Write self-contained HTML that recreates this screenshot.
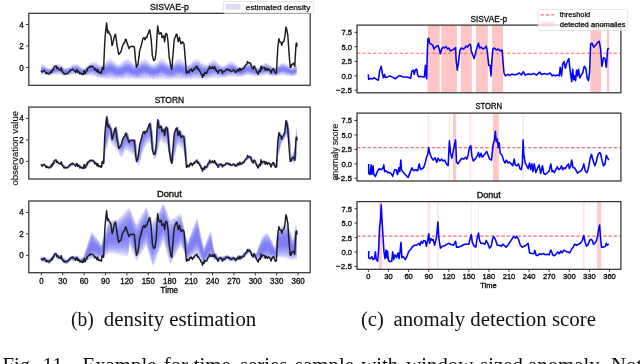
<!DOCTYPE html>
<html><head><meta charset="utf-8"><style>
html,body{margin:0;padding:0;background:#fff;}
body{width:640px;height:364px;overflow:hidden;position:relative;font-family:"Liberation Sans",sans-serif;}
</style></head><body>
<svg width="640" height="364" viewBox="0 0 640 364" style="position:absolute;left:0;top:0">
<defs><filter id="bl5" x="-5%" y="-20%" width="110%" height="140%"><feGaussianBlur stdDeviation="0.5"/></filter><filter id="bl4" x="-5%" y="-20%" width="110%" height="140%"><feGaussianBlur stdDeviation="0.4"/></filter></defs>
<defs><clipPath id="cL0"><rect x="28.8" y="13.3" width="281.4" height="72.0"/></clipPath><clipPath id="cR0"><rect x="357.0" y="25.1" width="263.9" height="67.69999999999999"/></clipPath><clipPath id="cL1"><rect x="28.8" y="107.1" width="281.4" height="71.9"/></clipPath><clipPath id="cR1"><rect x="357.0" y="113.1" width="263.9" height="67.9"/></clipPath><clipPath id="cL2"><rect x="28.8" y="201.0" width="281.4" height="71.69999999999999"/></clipPath><clipPath id="cR2"><rect x="357.0" y="201.6" width="263.9" height="67.70000000000002"/></clipPath></defs>
<g clip-path="url(#cL0)"><g filter="url(#bl5)"><path d="M41.4 63.5 L42.1 64 L42.8 64.5 L43.5 64.6 L44.2 64.8 L44.9 64.7 L45.6 66 L46.3 67.3 L47.1 67.3 L47.8 67.5 L48.5 68.9 L49.2 67.7 L49.9 69 L50.6 67.6 L51.3 67.6 L52 66.5 L52.8 66.4 L53.5 65.6 L54.2 65.1 L54.9 65.6 L55.6 64.2 L56.3 65.4 L57 64.5 L57.8 63.7 L58.5 64 L59.2 64.5 L59.9 64 L60.6 65.6 L61.3 64.8 L62 66 L62.7 65.6 L63.5 67 L64.2 67.9 L64.9 67.9 L65.6 68.4 L66.3 67.5 L67 68.1 L67.7 67.1 L68.5 67.4 L69.2 67.7 L69.9 66.7 L70.6 66.2 L71.3 65.3 L72 65.9 L72.7 64.4 L73.4 63.7 L74.2 64.1 L74.9 64.1 L75.6 64.6 L76.3 63.4 L77 64.1 L77.7 64.4 L78.4 64.8 L79.1 65.7 L79.9 64.9 L80.6 67.2 L81.3 67.6 L82 67.9 L82.7 68.2 L83.4 67.8 L84.1 69.1 L84.9 69 L85.6 67.7 L86.3 67 L87 65.7 L87.7 65.6 L88.4 65.3 L89.1 63.5 L89.8 63.5 L90.6 62.5 L91.3 62.8 L92 61.4 L92.7 62.3 L93.4 62.5 L94.1 61.2 L94.8 61.3 L95.6 63 L96.3 62.2 L97 62.5 L97.7 64.1 L98.4 64.1 L99.1 65.1 L99.8 64.5 L100.5 65.6 L101.3 65.7 L102 64.4 L102.7 64.7 L103.4 64.3 L104.1 63.6 L104.8 62.9 L105.5 61.9 L106.3 60.7 L107 60.3 L107.7 59.5 L108.4 58.5 L109.1 58.3 L109.8 58.5 L110.5 58.8 L111.2 58.5 L112 59.6 L112.7 59.9 L113.4 60.2 L114.1 60.6 L114.8 61.9 L115.5 63 L116.2 63.4 L116.9 63.8 L117.7 64.9 L118.4 63.9 L119.1 63.8 L119.8 64.5 L120.5 62.6 L121.2 62.7 L121.9 61.9 L122.7 60.9 L123.4 61.2 L124.1 60.8 L124.8 59.7 L125.5 59.1 L126.2 58.6 L126.9 59.2 L127.6 59.2 L128.4 58.9 L129.1 59.9 L129.8 60.8 L130.5 60.6 L131.2 61.4 L131.9 62.1 L132.6 63.5 L133.4 62.1 L134.1 63.3 L134.8 64.1 L135.5 65.8 L136.2 63.7 L136.9 64.7 L137.6 63.7 L138.3 63.4 L139.1 63 L139.8 61.6 L140.5 60.9 L141.2 60.4 L141.9 60.1 L142.6 59.6 L143.3 59.4 L144.1 58.7 L144.8 58.9 L145.5 58.9 L146.2 60.9 L146.9 59.6 L147.6 60 L148.3 61.6 L149 61.8 L149.8 62.8 L150.5 62.3 L151.2 64.2 L151.9 64.4 L152.6 64.6 L153.3 64.3 L154 63.6 L154.7 63.5 L155.5 63.3 L156.2 63.3 L156.9 62.8 L157.6 62 L158.3 61 L159 59.6 L159.7 60.6 L160.5 59.3 L161.2 57.6 L161.9 59.7 L162.6 59 L163.3 58.9 L164 59 L164.7 60.3 L165.4 61.8 L166.2 60.7 L166.9 62 L167.6 62.4 L168.3 63.9 L169 64.5 L169.7 64.7 L170.4 64.9 L171.2 64 L171.9 65 L172.6 63.4 L173.3 63.4 L174 62.4 L174.7 62.3 L175.4 61.1 L176.1 60.2 L176.9 60.2 L177.6 58.8 L178.3 58.7 L179 58.9 L179.7 59 L180.4 59.8 L181.1 59.6 L181.9 59.3 L182.6 60.6 L183.3 61.6 L184 62.3 L184.7 63.1 L185.4 63.5 L186.1 63.3 L186.8 64.2 L187.6 64.4 L188.3 64.8 L189 64 L189.7 64 L190.4 63.6 L191.1 63.6 L191.8 62 L192.5 60.8 L193.3 60.6 L194 59.4 L194.7 59.6 L195.4 59.6 L196.1 59 L196.8 59.3 L197.5 58.3 L198.3 59.3 L199 59.3 L199.7 60.9 L200.4 61 L201.1 61 L201.8 63.5 L202.5 62.6 L203.2 63.5 L204 63.4 L204.7 64.1 L205.4 63.5 L206.1 64.1 L206.8 64.3 L207.5 65.1 L208.2 63.5 L209 62.3 L209.7 61.8 L210.4 62 L211.1 60.8 L211.8 60 L212.5 59.7 L213.2 59.5 L213.9 60.1 L214.7 59.6 L215.4 59.9 L216.1 61.5 L216.8 61.8 L217.5 61.9 L218.2 63.4 L218.9 63.7 L219.6 64.3 L220.4 63.9 L221.1 64.8 L221.8 65.9 L222.5 66.3 L223.2 65.5 L223.9 65 L224.6 65.1 L225.4 64.8 L226.1 64.8 L226.8 63.7 L227.5 63.3 L228.2 63.1 L228.9 62.6 L229.6 60.7 L230.3 61.2 L231.1 61.3 L231.8 61.4 L232.5 61 L233.2 62.3 L233.9 62.6 L234.6 62.5 L235.3 64.1 L236.1 64.8 L236.8 64.3 L237.5 65.7 L238.2 66.2 L238.9 67.4 L239.6 67.4 L240.3 66.7 L241 66.8 L241.8 65.5 L242.5 66.8 L243.2 65.5 L243.9 64.4 L244.6 64.7 L245.3 63.7 L246 62.5 L246.8 62.5 L247.5 63.3 L248.2 62.1 L248.9 62.3 L249.6 61.9 L250.3 63.4 L251 64.3 L251.7 64 L252.5 63.5 L253.2 65.7 L253.9 65.4 L254.6 65.6 L255.3 67.5 L256 66.8 L256.7 67.3 L257.4 67.5 L258.2 66.7 L258.9 67.9 L259.6 66.4 L260.3 66.4 L261 66.1 L261.7 64.7 L262.4 64.8 L263.2 64.1 L263.9 63.3 L264.6 62.7 L265.3 63.6 L266 63 L266.7 62.5 L267.4 63.7 L268.1 63.6 L268.9 62.9 L269.6 63.5 L270.3 64.8 L271 66.2 L271.7 66.9 L272.4 66.7 L273.1 67.2 L273.9 66.6 L274.6 66.9 L275.3 67.5 L276 67.1 L276.7 67.5 L277.4 66.8 L278.1 65.2 L278.8 65.7 L279.6 64.3 L280.3 64.2 L281 62.9 L281.7 63.2 L282.4 63.6 L283.1 62.7 L283.8 62 L284.6 62.9 L285.3 63 L286 64.8 L286.7 63.9 L287.4 64.1 L288.1 64.7 L288.8 65.1 L289.5 66.2 L290.3 67.7 L291 67.4 L291.7 67.1 L292.4 68 L293.1 66.8 L293.8 66.5 L294.5 66.3 L295.2 66.2 L296 64.8 L296.7 65.1 L296.7 74.7 L296 75.8 L295.2 75.5 L294.5 75.5 L293.8 76.8 L293.1 75.8 L292.4 75.7 L291.7 76.3 L291 75.5 L290.3 75.9 L289.5 76.8 L288.8 75.4 L288.1 75.9 L287.4 76.3 L286.7 76.5 L286 75.2 L285.3 76.1 L284.6 75.1 L283.8 75.8 L283.1 75.1 L282.4 75 L281.7 74.5 L281 75.8 L280.3 76 L279.6 75.6 L278.8 74.9 L278.1 76.1 L277.4 76 L276.7 76.8 L276 75.9 L275.3 76.9 L274.6 76.3 L273.9 76.4 L273.1 76 L272.4 76.3 L271.7 76.5 L271 75.7 L270.3 75.3 L269.6 75.4 L268.9 74.6 L268.1 76 L267.4 74.7 L266.7 74.3 L266 74.6 L265.3 74.4 L264.6 74.7 L263.9 75.5 L263.2 75.5 L262.4 76.3 L261.7 76.7 L261 76 L260.3 76.7 L259.6 76 L258.9 76 L258.2 76.8 L257.4 76.4 L256.7 77.2 L256 76.6 L255.3 76.7 L254.6 75.9 L253.9 75.8 L253.2 76.1 L252.5 76.6 L251.7 75.7 L251 76 L250.3 76 L249.6 75.3 L248.9 75.1 L248.2 74.9 L247.5 75.5 L246.8 74.5 L246 75.6 L245.3 75.3 L244.6 76.1 L243.9 76 L243.2 75.9 L242.5 76.4 L241.8 76.7 L241 76.7 L240.3 77.7 L239.6 77 L238.9 77.9 L238.2 77.1 L237.5 76.7 L236.8 76.7 L236.1 76 L235.3 77.7 L234.6 77.3 L233.9 76.9 L233.2 76.7 L232.5 76.5 L231.8 76.8 L231.1 77.4 L230.3 76.9 L229.6 76.6 L228.9 77.2 L228.2 76.9 L227.5 76.6 L226.8 76.9 L226.1 77.3 L225.4 78.3 L224.6 77.5 L223.9 77.4 L223.2 78.1 L222.5 77.6 L221.8 76.1 L221.1 78 L220.4 78 L219.6 78.8 L218.9 77.5 L218.2 78.2 L217.5 78.7 L216.8 78.3 L216.1 78.3 L215.4 78.3 L214.7 78.1 L213.9 78.5 L213.2 77.6 L212.5 77.9 L211.8 77.9 L211.1 78.1 L210.4 78.3 L209.7 78.2 L209 78.9 L208.2 78 L207.5 79 L206.8 79.6 L206.1 79.9 L205.4 79 L204.7 79.3 L204 79.6 L203.2 80.2 L202.5 79.8 L201.8 79.4 L201.1 79 L200.4 78.9 L199.7 79.3 L199 79.2 L198.3 79.7 L197.5 79.3 L196.8 78.9 L196.1 80 L195.4 79.9 L194.7 78.6 L194 79.3 L193.3 78.7 L192.5 79.3 L191.8 79.7 L191.1 80 L190.4 79.2 L189.7 79.6 L189 79.2 L188.3 79 L187.6 79.3 L186.8 79.3 L186.1 78.7 L185.4 80 L184.7 78.9 L184 78.6 L183.3 79.2 L182.6 79.6 L181.9 78.4 L181.1 80.6 L180.4 80.1 L179.7 79.1 L179 79.2 L178.3 78.5 L177.6 79.7 L176.9 79.7 L176.1 78.7 L175.4 79.7 L174.7 78.9 L174 79.2 L173.3 79.7 L172.6 80.1 L171.9 79.6 L171.2 79.3 L170.4 79.2 L169.7 80.8 L169 79.3 L168.3 79.8 L167.6 78.9 L166.9 79.4 L166.2 79 L165.4 79.6 L164.7 78.3 L164 79.4 L163.3 80 L162.6 79.5 L161.9 79.4 L161.2 79.5 L160.5 79.1 L159.7 78.2 L159 79.9 L158.3 79.8 L157.6 80.3 L156.9 79.6 L156.2 78.5 L155.5 77.9 L154.7 80.1 L154 78.8 L153.3 79 L152.6 79.2 L151.9 79.5 L151.2 78.4 L150.5 79.6 L149.8 78.9 L149 79.7 L148.3 79.6 L147.6 79.4 L146.9 79.7 L146.2 79.2 L145.5 79.4 L144.8 79.2 L144.1 79.9 L143.3 79.6 L142.6 79 L141.9 79.4 L141.2 79.5 L140.5 79.1 L139.8 79.3 L139.1 78.1 L138.3 78.8 L137.6 78.9 L136.9 79 L136.2 79.2 L135.5 79.6 L134.8 79.3 L134.1 78.5 L133.4 79.1 L132.6 78.9 L131.9 78.4 L131.2 78.9 L130.5 79.4 L129.8 80.1 L129.1 78.5 L128.4 79 L127.6 80.4 L126.9 78.2 L126.2 78.9 L125.5 78.1 L124.8 79.2 L124.1 79.4 L123.4 79.4 L122.7 79.4 L121.9 79.1 L121.2 79.8 L120.5 78.9 L119.8 79.2 L119.1 79 L118.4 78.7 L117.7 79.2 L116.9 79.2 L116.2 79.7 L115.5 78.3 L114.8 80.4 L114.1 78.4 L113.4 80.1 L112.7 79.4 L112 79.8 L111.2 78.1 L110.5 79.9 L109.8 79.3 L109.1 78.8 L108.4 78.8 L107.7 79 L107 79.2 L106.3 79.1 L105.5 80.2 L104.8 78.7 L104.1 79.1 L103.4 77.8 L102.7 78.8 L102 78.1 L101.3 79 L100.5 78.5 L99.8 77.3 L99.1 77.9 L98.4 77.4 L97.7 78.3 L97 77.5 L96.3 76.4 L95.6 76.3 L94.8 76.7 L94.1 75.3 L93.4 76.1 L92.7 75.6 L92 76.9 L91.3 76.5 L90.6 75.6 L89.8 75.7 L89.1 75.8 L88.4 74.5 L87.7 75.3 L87 75.7 L86.3 76.1 L85.6 75.5 L84.9 76.5 L84.1 74.9 L83.4 75.3 L82.7 75.7 L82 75.3 L81.3 75.2 L80.6 74.8 L79.9 74.5 L79.1 75 L78.4 74.5 L77.7 74.1 L77 74.5 L76.3 73.5 L75.6 74.5 L74.9 74.8 L74.2 75 L73.4 74.6 L72.7 74 L72 74.8 L71.3 74.6 L70.6 74.9 L69.9 75.9 L69.2 75.9 L68.5 75 L67.7 75.3 L67 75.8 L66.3 74.8 L65.6 76.5 L64.9 75.6 L64.2 75.4 L63.5 76.1 L62.7 76 L62 75.2 L61.3 75.7 L60.6 74.4 L59.9 74.8 L59.2 74.4 L58.5 73.6 L57.8 74.9 L57 74.8 L56.3 74.8 L55.6 74.6 L54.9 74.4 L54.2 75 L53.5 74 L52.8 75.8 L52 75.3 L51.3 75.6 L50.6 75.8 L49.9 76 L49.2 74.3 L48.5 76.6 L47.8 75 L47.1 75.1 L46.3 74.4 L45.6 75.3 L44.9 74.6 L44.2 74.5 L43.5 75.2 L42.8 75 L42.1 75.2 L41.4 73.8Z" fill="rgb(25,25,240)" fill-opacity="0.1"/><path d="M41.4 65.4 L42.1 64.7 L42.8 65 L43.5 65.5 L44.2 65.9 L44.9 65.9 L45.6 67.9 L46.3 67.1 L47.1 67.9 L47.8 68.7 L48.5 68.6 L49.2 68.7 L49.9 69 L50.6 68.2 L51.3 68.2 L52 67.2 L52.8 67.2 L53.5 67.1 L54.2 66.5 L54.9 65.6 L55.6 64.5 L56.3 64.9 L57 64.4 L57.8 63.4 L58.5 65.3 L59.2 65.6 L59.9 65.5 L60.6 66.4 L61.3 66.4 L62 66.3 L62.7 67.6 L63.5 67.5 L64.2 68.7 L64.9 68 L65.6 68.4 L66.3 69 L67 67.8 L67.7 68.3 L68.5 68.3 L69.2 67.2 L69.9 67 L70.6 66.8 L71.3 65.3 L72 66 L72.7 64.6 L73.4 65.2 L74.2 65.2 L74.9 64.6 L75.6 64.7 L76.3 65.3 L77 65.2 L77.7 65.3 L78.4 66.1 L79.1 65.9 L79.9 67.2 L80.6 67.2 L81.3 68.3 L82 67.9 L82.7 68 L83.4 68.6 L84.1 68.4 L84.9 67.5 L85.6 67.8 L86.3 66.7 L87 66 L87.7 66.1 L88.4 65.5 L89.1 64.3 L89.8 63.4 L90.6 64.7 L91.3 63.7 L92 63.4 L92.7 63 L93.4 63.8 L94.1 62.1 L94.8 63.4 L95.6 63.4 L96.3 63.3 L97 65 L97.7 64.4 L98.4 65.2 L99.1 65.6 L99.8 65.5 L100.5 65.7 L101.3 65.6 L102 64.8 L102.7 65 L103.4 65 L104.1 63.4 L104.8 63.4 L105.5 63.6 L106.3 62.3 L107 61.8 L107.7 61 L108.4 60.7 L109.1 60.9 L109.8 60.5 L110.5 60.5 L111.2 61.1 L112 61.1 L112.7 62.1 L113.4 61.7 L114.1 62.4 L114.8 63 L115.5 63.3 L116.2 65.5 L116.9 65 L117.7 65.9 L118.4 65.1 L119.1 65.2 L119.8 64.5 L120.5 64.6 L121.2 64.3 L121.9 63.2 L122.7 63.1 L123.4 62 L124.1 61.7 L124.8 61.1 L125.5 61 L126.2 60.7 L126.9 60.2 L127.6 60.6 L128.4 60.5 L129.1 61.3 L129.8 61.6 L130.5 61 L131.2 62.6 L131.9 63.2 L132.6 64.2 L133.4 64.6 L134.1 64.7 L134.8 65.1 L135.5 64.9 L136.2 65.1 L136.9 65.5 L137.6 65 L138.3 64.9 L139.1 63.2 L139.8 62.8 L140.5 62.9 L141.2 61.8 L141.9 60.4 L142.6 61.3 L143.3 61 L144.1 59.6 L144.8 60.8 L145.5 61.2 L146.2 60.9 L146.9 61.2 L147.6 62.3 L148.3 62.2 L149 63.1 L149.8 64.1 L150.5 63 L151.2 65 L151.9 64.3 L152.6 65.7 L153.3 63.8 L154 65.5 L154.7 65.2 L155.5 65.7 L156.2 63.7 L156.9 63.9 L157.6 62.8 L158.3 61.4 L159 60.9 L159.7 61.6 L160.5 59.8 L161.2 60.5 L161.9 60.8 L162.6 59.3 L163.3 61.4 L164 61.4 L164.7 62 L165.4 61.6 L166.2 64.4 L166.9 63.2 L167.6 64.5 L168.3 64.7 L169 65.1 L169.7 65.2 L170.4 65.6 L171.2 65.5 L171.9 64.8 L172.6 63.7 L173.3 63.7 L174 63.3 L174.7 63.8 L175.4 62.9 L176.1 61.7 L176.9 61.4 L177.6 59.7 L178.3 60.3 L179 60.5 L179.7 60.4 L180.4 60.4 L181.1 60.9 L181.9 61.1 L182.6 62.5 L183.3 62.2 L184 63.5 L184.7 63 L185.4 63.8 L186.1 64.8 L186.8 64.7 L187.6 66.2 L188.3 65.2 L189 65.1 L189.7 64.7 L190.4 64.9 L191.1 62.7 L191.8 63.3 L192.5 62.2 L193.3 62.2 L194 61.2 L194.7 61.3 L195.4 60.3 L196.1 60.4 L196.8 60.4 L197.5 61.2 L198.3 61.1 L199 61.4 L199.7 61.5 L200.4 63.2 L201.1 63.4 L201.8 64.2 L202.5 63.4 L203.2 64.8 L204 63.9 L204.7 65.5 L205.4 64.5 L206.1 65.3 L206.8 65 L207.5 65.6 L208.2 64.6 L209 62.9 L209.7 63.4 L210.4 63.3 L211.1 63.3 L211.8 62.8 L212.5 60.7 L213.2 60.6 L213.9 61.8 L214.7 61.4 L215.4 62 L216.1 62.3 L216.8 63.3 L217.5 62.8 L218.2 64.5 L218.9 63.6 L219.6 65.3 L220.4 66.4 L221.1 65.9 L221.8 66.8 L222.5 66.7 L223.2 66.5 L223.9 65.9 L224.6 66.6 L225.4 65.3 L226.1 64.9 L226.8 64.2 L227.5 64.1 L228.2 63 L228.9 63.3 L229.6 62.9 L230.3 63 L231.1 61.9 L231.8 63.3 L232.5 62.9 L233.2 63.6 L233.9 63.2 L234.6 64.2 L235.3 64.5 L236.1 65.9 L236.8 64.9 L237.5 67.7 L238.2 66.6 L238.9 67.3 L239.6 67.2 L240.3 67.9 L241 66.9 L241.8 67.5 L242.5 66.8 L243.2 66.7 L243.9 65.2 L244.6 64.8 L245.3 64.6 L246 64 L246.8 64.3 L247.5 64.7 L248.2 64.2 L248.9 63.9 L249.6 63.4 L250.3 64.2 L251 64.7 L251.7 65 L252.5 63.7 L253.2 66.5 L253.9 66.9 L254.6 66.7 L255.3 67.5 L256 67.1 L256.7 67.7 L257.4 67.4 L258.2 68.2 L258.9 67.7 L259.6 66.8 L260.3 67.8 L261 65.9 L261.7 65.2 L262.4 65.1 L263.2 65 L263.9 64.8 L264.6 63.1 L265.3 64.1 L266 63.6 L266.7 62.7 L267.4 64.2 L268.1 64 L268.9 65.6 L269.6 65.5 L270.3 65.9 L271 66.4 L271.7 66.8 L272.4 67.6 L273.1 67.2 L273.9 67.3 L274.6 67.8 L275.3 66.8 L276 68.4 L276.7 67.3 L277.4 66.6 L278.1 66.2 L278.8 65.9 L279.6 65 L280.3 65.8 L281 63.4 L281.7 64.6 L282.4 64 L283.1 63.4 L283.8 63.7 L284.6 64.8 L285.3 65 L286 64.9 L286.7 65.1 L287.4 65.2 L288.1 66.5 L288.8 67.1 L289.5 68 L290.3 67.2 L291 67.3 L291.7 68.1 L292.4 66.6 L293.1 67.5 L293.8 67.8 L294.5 67.1 L295.2 66.1 L296 66 L296.7 66.3 L296.7 74.9 L296 75.2 L295.2 76 L294.5 76.2 L293.8 75.7 L293.1 75.6 L292.4 76.3 L291.7 76.2 L291 75.9 L290.3 75.7 L289.5 75.7 L288.8 75.9 L288.1 75.1 L287.4 74.9 L286.7 74.7 L286 74.8 L285.3 74.5 L284.6 74.2 L283.8 74.4 L283.1 73.2 L282.4 74 L281.7 73.4 L281 73.9 L280.3 74.8 L279.6 74.7 L278.8 74.9 L278.1 75.7 L277.4 75.8 L276.7 75.7 L276 75.4 L275.3 75.4 L274.6 75.3 L273.9 75.7 L273.1 75.7 L272.4 75.4 L271.7 75.9 L271 75 L270.3 75.7 L269.6 75.6 L268.9 73.9 L268.1 74.3 L267.4 73.3 L266.7 74.4 L266 74.7 L265.3 74.6 L264.6 74.9 L263.9 73.4 L263.2 75.5 L262.4 74.7 L261.7 74.8 L261 74.7 L260.3 76.1 L259.6 75.4 L258.9 75.7 L258.2 76.7 L257.4 76.1 L256.7 76.4 L256 75.6 L255.3 76.7 L254.6 75 L253.9 75.3 L253.2 75.2 L252.5 74.5 L251.7 74.9 L251 74.2 L250.3 75.3 L249.6 74.6 L248.9 75.4 L248.2 74.4 L247.5 74 L246.8 74.7 L246 74.6 L245.3 74.9 L244.6 75.1 L243.9 75.4 L243.2 76.3 L242.5 76.4 L241.8 76.1 L241 76.3 L240.3 75.2 L239.6 76.5 L238.9 76.2 L238.2 76.7 L237.5 75.6 L236.8 76.1 L236.1 76.4 L235.3 76.5 L234.6 75 L233.9 76.2 L233.2 75.2 L232.5 75.6 L231.8 76.1 L231.1 75.5 L230.3 75.5 L229.6 75.5 L228.9 75 L228.2 75.6 L227.5 75.6 L226.8 75.6 L226.1 76.3 L225.4 76.9 L224.6 76.4 L223.9 76.1 L223.2 75.9 L222.5 76.6 L221.8 76.4 L221.1 76.7 L220.4 76.7 L219.6 77 L218.9 77.4 L218.2 76 L217.5 77.4 L216.8 77.7 L216.1 76.9 L215.4 77.4 L214.7 76.7 L213.9 76.1 L213.2 76.5 L212.5 77.5 L211.8 77.2 L211.1 76.7 L210.4 77.4 L209.7 77.7 L209 78.3 L208.2 78.5 L207.5 78.2 L206.8 77.1 L206.1 78.3 L205.4 78.2 L204.7 78.1 L204 77.6 L203.2 77.7 L202.5 77.9 L201.8 77.7 L201.1 78.5 L200.4 77.7 L199.7 78.3 L199 77.5 L198.3 77.6 L197.5 78.4 L196.8 77.1 L196.1 77.7 L195.4 77.8 L194.7 78 L194 77.9 L193.3 78.2 L192.5 78.1 L191.8 78.7 L191.1 79.3 L190.4 78.4 L189.7 78.3 L189 78.1 L188.3 77.8 L187.6 77.7 L186.8 78.6 L186.1 79 L185.4 78.4 L184.7 78.2 L184 78.3 L183.3 77.4 L182.6 77.6 L181.9 77.5 L181.1 77.3 L180.4 77.6 L179.7 78.6 L179 78.3 L178.3 77 L177.6 77.8 L176.9 77.4 L176.1 78 L175.4 78.1 L174.7 78.2 L174 78.1 L173.3 78.1 L172.6 78 L171.9 78.6 L171.2 78.2 L170.4 78.6 L169.7 78.4 L169 78 L168.3 77.8 L167.6 79.1 L166.9 78.8 L166.2 77.5 L165.4 77.9 L164.7 79.1 L164 77.9 L163.3 77.7 L162.6 76.7 L161.9 77.2 L161.2 78.2 L160.5 77.4 L159.7 77 L159 76.9 L158.3 78.4 L157.6 78.1 L156.9 78 L156.2 77.4 L155.5 78.8 L154.7 79.2 L154 79.1 L153.3 79.8 L152.6 78.2 L151.9 78.1 L151.2 77.8 L150.5 79.2 L149.8 76.9 L149 77.6 L148.3 78.3 L147.6 77.8 L146.9 78 L146.2 78.6 L145.5 78 L144.8 77.7 L144.1 77.7 L143.3 77.8 L142.6 77.4 L141.9 78.5 L141.2 77.9 L140.5 78.2 L139.8 77.9 L139.1 78.7 L138.3 78.5 L137.6 79.5 L136.9 78.8 L136.2 78.2 L135.5 78.6 L134.8 77.7 L134.1 79.2 L133.4 77.3 L132.6 77.2 L131.9 78.7 L131.2 77.7 L130.5 78.1 L129.8 77.1 L129.1 77.7 L128.4 79.1 L127.6 77.7 L126.9 76.9 L126.2 76.6 L125.5 77.4 L124.8 77.8 L124.1 77.9 L123.4 78 L122.7 78.7 L121.9 78.1 L121.2 77.5 L120.5 78.9 L119.8 77.9 L119.1 77.6 L118.4 77 L117.7 77.8 L116.9 78 L116.2 79 L115.5 77.8 L114.8 77.7 L114.1 77.6 L113.4 77.3 L112.7 77.6 L112 77.7 L111.2 78.2 L110.5 77.2 L109.8 77.7 L109.1 76.9 L108.4 78 L107.7 77.7 L107 77.4 L106.3 77.8 L105.5 77.8 L104.8 77.2 L104.1 77.6 L103.4 77.1 L102.7 77.1 L102 78.6 L101.3 78.4 L100.5 77.5 L99.8 76.1 L99.1 77.6 L98.4 76.5 L97.7 77.2 L97 76 L96.3 76.7 L95.6 75.2 L94.8 76.6 L94.1 75.5 L93.4 75.4 L92.7 74.9 L92 75.1 L91.3 74.8 L90.6 75.4 L89.8 75.1 L89.1 75.1 L88.4 74.4 L87.7 75.8 L87 74.8 L86.3 75.9 L85.6 75.6 L84.9 75 L84.1 74.6 L83.4 75.6 L82.7 74.2 L82 75.3 L81.3 74.6 L80.6 74.9 L79.9 73.5 L79.1 74.1 L78.4 74.6 L77.7 73.7 L77 73.7 L76.3 73.3 L75.6 72.7 L74.9 73.7 L74.2 73.7 L73.4 74.4 L72.7 74 L72 74 L71.3 74.4 L70.6 74.2 L69.9 75 L69.2 74.3 L68.5 75.1 L67.7 74.8 L67 75.2 L66.3 75.6 L65.6 74.8 L64.9 74.6 L64.2 75.5 L63.5 75.2 L62.7 74.2 L62 74.5 L61.3 74.9 L60.6 73.9 L59.9 74.4 L59.2 73.6 L58.5 73.6 L57.8 73 L57 73.5 L56.3 74.2 L55.6 74.5 L54.9 73.7 L54.2 73.8 L53.5 74.1 L52.8 74.1 L52 75.1 L51.3 75.1 L50.6 74.6 L49.9 74.4 L49.2 75 L48.5 75.4 L47.8 74.6 L47.1 75.2 L46.3 74.8 L45.6 74.6 L44.9 74.8 L44.2 72.9 L43.5 73.7 L42.8 73.4 L42.1 73.7 L41.4 73.4Z" fill="rgb(25,25,240)" fill-opacity="0.1"/><path d="M41.4 66 L42.1 66.8 L42.8 66.6 L43.5 66.1 L44.2 66.5 L44.9 67.9 L45.6 67.7 L46.3 69 L47.1 68.3 L47.8 68.1 L48.5 68 L49.2 68.3 L49.9 68.8 L50.6 69.3 L51.3 68.8 L52 68 L52.8 67.3 L53.5 66.9 L54.2 66.3 L54.9 67.5 L55.6 66.3 L56.3 65.6 L57 64.4 L57.8 65.1 L58.5 65.3 L59.2 65.5 L59.9 65.3 L60.6 67.1 L61.3 67.3 L62 66.7 L62.7 68 L63.5 68.3 L64.2 68.6 L64.9 69.3 L65.6 68.8 L66.3 67.8 L67 68.5 L67.7 68.3 L68.5 68.2 L69.2 67.7 L69.9 68.5 L70.6 66.9 L71.3 66.4 L72 67.4 L72.7 66.2 L73.4 65.1 L74.2 66.5 L74.9 65.8 L75.6 65.5 L76.3 64.7 L77 65.7 L77.7 65.3 L78.4 65.6 L79.1 67.2 L79.9 66.7 L80.6 66.6 L81.3 67.4 L82 68.5 L82.7 68.9 L83.4 69.1 L84.1 69.6 L84.9 68.9 L85.6 68.2 L86.3 68.5 L87 66.7 L87.7 67.7 L88.4 66.7 L89.1 66.3 L89.8 66.1 L90.6 65.3 L91.3 64 L92 64.2 L92.7 63.6 L93.4 63.6 L94.1 63.7 L94.8 64.6 L95.6 65 L96.3 64.2 L97 65.1 L97.7 65.6 L98.4 65.7 L99.1 66 L99.8 67.3 L100.5 67.2 L101.3 66.9 L102 66.4 L102.7 66.4 L103.4 66.1 L104.1 65.3 L104.8 64.3 L105.5 64.8 L106.3 64.1 L107 63.1 L107.7 62 L108.4 62.4 L109.1 61.7 L109.8 62.1 L110.5 61.5 L111.2 62.3 L112 62.8 L112.7 62.5 L113.4 63.6 L114.1 64.2 L114.8 65.3 L115.5 64.6 L116.2 65 L116.9 65.7 L117.7 67.2 L118.4 65.6 L119.1 66.1 L119.8 65.3 L120.5 66.5 L121.2 65 L121.9 64.7 L122.7 64.8 L123.4 63.6 L124.1 63.8 L124.8 62.5 L125.5 61.6 L126.2 61.5 L126.9 61.9 L127.6 62.4 L128.4 62.8 L129.1 63.3 L129.8 63.7 L130.5 63.2 L131.2 63.3 L131.9 64.4 L132.6 64.5 L133.4 65.5 L134.1 66.4 L134.8 65.4 L135.5 66.8 L136.2 65.3 L136.9 66.4 L137.6 65.7 L138.3 65.2 L139.1 65 L139.8 64.3 L140.5 64.1 L141.2 62.9 L141.9 62.2 L142.6 61.1 L143.3 63.1 L144.1 62.7 L144.8 63.1 L145.5 61.9 L146.2 62.6 L146.9 62.5 L147.6 63.3 L148.3 63.7 L149 64.1 L149.8 65.4 L150.5 65.9 L151.2 66.2 L151.9 65.5 L152.6 66.1 L153.3 66.4 L154 66.3 L154.7 66.4 L155.5 65 L156.2 65.5 L156.9 64 L157.6 62.7 L158.3 63.3 L159 63.4 L159.7 61.7 L160.5 61.7 L161.2 63 L161.9 62.3 L162.6 61.9 L163.3 61.9 L164 62.9 L164.7 62.8 L165.4 63.4 L166.2 63.9 L166.9 65 L167.6 64.8 L168.3 65.2 L169 65.7 L169.7 65.7 L170.4 66.8 L171.2 65.3 L171.9 66.2 L172.6 65.5 L173.3 64.4 L174 65.9 L174.7 63.1 L175.4 63.1 L176.1 62.5 L176.9 63.3 L177.6 61.2 L178.3 63.5 L179 63.4 L179.7 63.2 L180.4 62.1 L181.1 63 L181.9 63.1 L182.6 63.1 L183.3 64.1 L184 64.1 L184.7 65.3 L185.4 65.1 L186.1 64.9 L186.8 65.7 L187.6 66.2 L188.3 66.1 L189 66.1 L189.7 65.8 L190.4 65.3 L191.1 64.9 L191.8 63.5 L192.5 63.5 L193.3 62.6 L194 62.8 L194.7 62.4 L195.4 62.2 L196.1 62.7 L196.8 61.2 L197.5 62.8 L198.3 61.6 L199 62.7 L199.7 63.1 L200.4 63.7 L201.1 64.2 L201.8 63.8 L202.5 64.5 L203.2 66.6 L204 66.3 L204.7 65.8 L205.4 66 L206.1 66.4 L206.8 65.4 L207.5 65.7 L208.2 65.8 L209 65.2 L209.7 65 L210.4 64.3 L211.1 63.9 L211.8 63.1 L212.5 62.3 L213.2 62.9 L213.9 61.8 L214.7 63.2 L215.4 62.7 L216.1 63.3 L216.8 64.1 L217.5 64.1 L218.2 65.3 L218.9 65.8 L219.6 66.3 L220.4 66.9 L221.1 66.2 L221.8 67.6 L222.5 67.4 L223.2 67.4 L223.9 67.1 L224.6 67.2 L225.4 66.5 L226.1 66.2 L226.8 66.9 L227.5 65.3 L228.2 64 L228.9 64.7 L229.6 64.3 L230.3 65.3 L231.1 63.7 L231.8 64.5 L232.5 64.4 L233.2 64.3 L233.9 64.5 L234.6 65 L235.3 65.4 L236.1 66 L236.8 66.7 L237.5 67.4 L238.2 67 L238.9 68.2 L239.6 68.2 L240.3 68 L241 68.3 L241.8 67.7 L242.5 67.3 L243.2 67.2 L243.9 66 L244.6 66.3 L245.3 66.3 L246 64.8 L246.8 65.6 L247.5 64.3 L248.2 65.1 L248.9 65 L249.6 64.1 L250.3 64.7 L251 65.4 L251.7 65.2 L252.5 66.3 L253.2 67.1 L253.9 67.4 L254.6 68.1 L255.3 67.5 L256 68.3 L256.7 68.4 L257.4 69.1 L258.2 68.8 L258.9 68.1 L259.6 67.6 L260.3 68 L261 67 L261.7 65.8 L262.4 65.8 L263.2 66 L263.9 65.8 L264.6 64.9 L265.3 64.8 L266 64.2 L266.7 64.4 L267.4 65 L268.1 66.3 L268.9 65.6 L269.6 67 L270.3 66.3 L271 66.6 L271.7 66.6 L272.4 69.1 L273.1 67.4 L273.9 68.7 L274.6 68 L275.3 68.4 L276 67.7 L276.7 66.9 L277.4 68.1 L278.1 67 L278.8 66.8 L279.6 66.6 L280.3 66.4 L281 64.1 L281.7 65.3 L282.4 65 L283.1 63.5 L283.8 65.1 L284.6 64.8 L285.3 66.3 L286 64.5 L286.7 65.7 L287.4 66.2 L288.1 67.1 L288.8 67.3 L289.5 67.3 L290.3 68.5 L291 68.4 L291.7 68.4 L292.4 68.7 L293.1 68.2 L293.8 68.4 L294.5 66.8 L295.2 66.8 L296 67.3 L296.7 66 L296.7 74.2 L296 74.1 L295.2 74.1 L294.5 74.6 L293.8 75.7 L293.1 74.9 L292.4 76.1 L291.7 75.3 L291 74.6 L290.3 75.3 L289.5 75 L288.8 73.8 L288.1 74.6 L287.4 75.1 L286.7 74.7 L286 74.2 L285.3 73.5 L284.6 72.8 L283.8 73.7 L283.1 73.7 L282.4 73.1 L281.7 72.8 L281 73.5 L280.3 73.8 L279.6 74.7 L278.8 74.3 L278.1 74.7 L277.4 74.4 L276.7 75.6 L276 74.8 L275.3 75.9 L274.6 75 L273.9 75.3 L273.1 75.4 L272.4 74.2 L271.7 75.3 L271 74.9 L270.3 74.8 L269.6 74.6 L268.9 74.3 L268.1 72.9 L267.4 73.9 L266.7 73.1 L266 73.5 L265.3 72.6 L264.6 72.7 L263.9 74.1 L263.2 73.8 L262.4 74.1 L261.7 74 L261 74.9 L260.3 74.1 L259.6 76.4 L258.9 74.4 L258.2 75.6 L257.4 74.4 L256.7 74.7 L256 74.4 L255.3 74.1 L254.6 76.5 L253.9 74.9 L253.2 75.6 L252.5 73.9 L251.7 75.1 L251 73.8 L250.3 73.7 L249.6 72.8 L248.9 72.2 L248.2 74 L247.5 72.6 L246.8 74.2 L246 74.2 L245.3 74.2 L244.6 74.1 L243.9 75.2 L243.2 74.8 L242.5 75.3 L241.8 75.3 L241 75.7 L240.3 75.9 L239.6 75.3 L238.9 75.5 L238.2 75.9 L237.5 75.9 L236.8 74.2 L236.1 75.1 L235.3 74.3 L234.6 74.3 L233.9 75.1 L233.2 75.3 L232.5 73.7 L231.8 75.1 L231.1 73.7 L230.3 74.7 L229.6 74.9 L228.9 73.6 L228.2 76.3 L227.5 74.8 L226.8 75.5 L226.1 76.4 L225.4 77.2 L224.6 76.6 L223.9 76 L223.2 76.7 L222.5 76.4 L221.8 76.9 L221.1 76.4 L220.4 75.9 L219.6 75.7 L218.9 76.4 L218.2 75.5 L217.5 75.8 L216.8 74.8 L216.1 75.1 L215.4 75.4 L214.7 75.4 L213.9 75.3 L213.2 76.5 L212.5 76.3 L211.8 75.9 L211.1 74.8 L210.4 76.6 L209.7 77.5 L209 77 L208.2 76.3 L207.5 76.6 L206.8 77 L206.1 78.1 L205.4 77.4 L204.7 77.4 L204 77.5 L203.2 77.6 L202.5 77 L201.8 77.5 L201.1 77.9 L200.4 77.1 L199.7 75.8 L199 76.7 L198.3 76.7 L197.5 75.6 L196.8 76.1 L196.1 77 L195.4 76.7 L194.7 75.9 L194 76.4 L193.3 76.9 L192.5 75.6 L191.8 76.3 L191.1 77.8 L190.4 76.9 L189.7 76.7 L189 77 L188.3 77.2 L187.6 77.2 L186.8 76.3 L186.1 77.6 L185.4 78.3 L184.7 76.9 L184 77.3 L183.3 76.7 L182.6 76.5 L181.9 76.5 L181.1 76.4 L180.4 77.5 L179.7 76.6 L179 76.5 L178.3 74.9 L177.6 76.8 L176.9 76.3 L176.1 76.8 L175.4 76.5 L174.7 77.2 L174 76.6 L173.3 77 L172.6 77.7 L171.9 77.4 L171.2 76.5 L170.4 76.3 L169.7 77.2 L169 78.5 L168.3 77.4 L167.6 77.3 L166.9 76.5 L166.2 77.5 L165.4 76.5 L164.7 76.4 L164 75.7 L163.3 76.1 L162.6 76 L161.9 76.2 L161.2 75.7 L160.5 76.2 L159.7 76.7 L159 76.4 L158.3 76.9 L157.6 77.2 L156.9 76.4 L156.2 76.4 L155.5 77.8 L154.7 76.2 L154 77.5 L153.3 78.1 L152.6 78.7 L151.9 77.8 L151.2 77.3 L150.5 77.4 L149.8 77.9 L149 77.5 L148.3 76.1 L147.6 76.1 L146.9 75.1 L146.2 76.5 L145.5 76.8 L144.8 76 L144.1 76.5 L143.3 76.8 L142.6 76 L141.9 76.4 L141.2 76.7 L140.5 77.4 L139.8 77.2 L139.1 77 L138.3 77 L137.6 76.3 L136.9 78.3 L136.2 76.8 L135.5 77.8 L134.8 77.2 L134.1 77.3 L133.4 75.8 L132.6 77 L131.9 76.3 L131.2 76.9 L130.5 76.1 L129.8 76 L129.1 76.2 L128.4 76.3 L127.6 75.8 L126.9 75 L126.2 76.3 L125.5 76.5 L124.8 77 L124.1 77 L123.4 77.7 L122.7 76.4 L121.9 76.4 L121.2 76.9 L120.5 76.6 L119.8 77.2 L119.1 77.1 L118.4 77.2 L117.7 77.4 L116.9 76.8 L116.2 77.7 L115.5 77 L114.8 77.1 L114.1 76.8 L113.4 77.7 L112.7 77.1 L112 75.8 L111.2 75.6 L110.5 76.1 L109.8 75 L109.1 76.2 L108.4 77.3 L107.7 77.8 L107 76.5 L106.3 76.9 L105.5 77.2 L104.8 76.6 L104.1 76.1 L103.4 76.3 L102.7 77.9 L102 77.3 L101.3 76.5 L100.5 77.5 L99.8 75.9 L99.1 76.6 L98.4 75.7 L97.7 76 L97 75.5 L96.3 75.3 L95.6 75.2 L94.8 74.2 L94.1 75 L93.4 74.3 L92.7 73.9 L92 73.6 L91.3 73.9 L90.6 73.8 L89.8 73.9 L89.1 74.8 L88.4 73.2 L87.7 75 L87 74.2 L86.3 74.3 L85.6 74.8 L84.9 74.4 L84.1 75.4 L83.4 74.5 L82.7 74.3 L82 74 L81.3 74.5 L80.6 73.9 L79.9 74.2 L79.1 73.9 L78.4 72.8 L77.7 71.9 L77 73.4 L76.3 73.3 L75.6 72.6 L74.9 72.4 L74.2 72.8 L73.4 72.3 L72.7 71.3 L72 73.7 L71.3 73.6 L70.6 74.3 L69.9 74.5 L69.2 74 L68.5 74 L67.7 75.3 L67 74.8 L66.3 74.4 L65.6 74.6 L64.9 74.7 L64.2 74.1 L63.5 74.6 L62.7 74.2 L62 74.3 L61.3 72.5 L60.6 72.8 L59.9 73.6 L59.2 73.2 L58.5 73.4 L57.8 73.1 L57 73.3 L56.3 73.1 L55.6 72.5 L54.9 74.5 L54.2 73.3 L53.5 74 L52.8 73.1 L52 74 L51.3 73.8 L50.6 74.4 L49.9 74.9 L49.2 74.7 L48.5 73.9 L47.8 73.8 L47.1 74.7 L46.3 74.5 L45.6 73.2 L44.9 74.5 L44.2 73.5 L43.5 73.3 L42.8 74.1 L42.1 73.4 L41.4 73.4Z" fill="rgb(25,25,240)" fill-opacity="0.11"/><path d="M41.4 65.8 L42.1 66.1 L42.8 67.6 L43.5 66.5 L44.2 67.4 L44.9 67.7 L45.6 68.2 L46.3 68.9 L47.1 67.8 L47.8 69.6 L48.5 69.7 L49.2 69.5 L49.9 69 L50.6 69.9 L51.3 70.1 L52 67.8 L52.8 69.4 L53.5 67.7 L54.2 67.7 L54.9 68.1 L55.6 67 L56.3 66.7 L57 66.3 L57.8 66.1 L58.5 66.3 L59.2 66.4 L59.9 66.2 L60.6 66.1 L61.3 66.9 L62 67.5 L62.7 67.9 L63.5 68.5 L64.2 68.6 L64.9 69.3 L65.6 69.5 L66.3 68.6 L67 69.8 L67.7 68.8 L68.5 68.8 L69.2 69.5 L69.9 67.9 L70.6 67.6 L71.3 67.9 L72 67.3 L72.7 66.6 L73.4 65.9 L74.2 66.4 L74.9 65.7 L75.6 65.7 L76.3 67 L77 67.3 L77.7 67.1 L78.4 66.4 L79.1 67.3 L79.9 66.8 L80.6 68.2 L81.3 69 L82 68.5 L82.7 69.3 L83.4 69.5 L84.1 68.8 L84.9 68.9 L85.6 68.5 L86.3 68.6 L87 67.3 L87.7 67.5 L88.4 68.1 L89.1 66.9 L89.8 66.9 L90.6 65.4 L91.3 65.3 L92 64.5 L92.7 64.9 L93.4 64.4 L94.1 65.6 L94.8 65.2 L95.6 65.4 L96.3 64.7 L97 65.9 L97.7 66 L98.4 67.4 L99.1 66.9 L99.8 68 L100.5 66.7 L101.3 68.1 L102 66.7 L102.7 67.7 L103.4 66.7 L104.1 65.3 L104.8 65.8 L105.5 65.8 L106.3 64.9 L107 64.3 L107.7 64.9 L108.4 63.2 L109.1 63.7 L109.8 63 L110.5 62.8 L111.2 63.8 L112 64.5 L112.7 64.3 L113.4 63.6 L114.1 64.6 L114.8 65.8 L115.5 65.9 L116.2 65.8 L116.9 65.8 L117.7 67.5 L118.4 67.5 L119.1 66.7 L119.8 66.9 L120.5 66.6 L121.2 66.3 L121.9 66.1 L122.7 65.1 L123.4 65.4 L124.1 64 L124.8 62.9 L125.5 63.9 L126.2 63.6 L126.9 64 L127.6 63.5 L128.4 64 L129.1 63.7 L129.8 63.8 L130.5 64.8 L131.2 64.4 L131.9 65 L132.6 65.5 L133.4 66.1 L134.1 65.9 L134.8 66 L135.5 66.7 L136.2 65.8 L136.9 67.4 L137.6 66.6 L138.3 66 L139.1 65.5 L139.8 65.2 L140.5 65.4 L141.2 64.2 L141.9 64.4 L142.6 63.4 L143.3 63.4 L144.1 63.3 L144.8 63 L145.5 63.8 L146.2 63.9 L146.9 63.9 L147.6 64.6 L148.3 64.5 L149 65.7 L149.8 65.6 L150.5 65.9 L151.2 66.4 L151.9 65.3 L152.6 66.5 L153.3 66.4 L154 67.6 L154.7 65.6 L155.5 67.3 L156.2 66.2 L156.9 65.5 L157.6 64.9 L158.3 64.7 L159 64.1 L159.7 63.9 L160.5 64.1 L161.2 62.8 L161.9 63.1 L162.6 63.9 L163.3 64 L164 63.6 L164.7 64.4 L165.4 64.2 L166.2 65.7 L166.9 66.2 L167.6 65.5 L168.3 66.6 L169 66.1 L169.7 67.7 L170.4 67.5 L171.2 67.5 L171.9 67 L172.6 67 L173.3 66.9 L174 65.1 L174.7 65.1 L175.4 64.5 L176.1 64.4 L176.9 64.1 L177.6 64.2 L178.3 63.7 L179 63.2 L179.7 63.2 L180.4 63.5 L181.1 64.3 L181.9 64.5 L182.6 64.8 L183.3 65.4 L184 65.7 L184.7 65.9 L185.4 65.9 L186.1 65.9 L186.8 66.2 L187.6 66.4 L188.3 65.7 L189 66.2 L189.7 66.5 L190.4 66 L191.1 66.2 L191.8 66 L192.5 65.3 L193.3 64.4 L194 63.3 L194.7 64 L195.4 63.3 L196.1 63.6 L196.8 62.7 L197.5 63.4 L198.3 63 L199 63.3 L199.7 64.4 L200.4 64.7 L201.1 66.2 L201.8 65.1 L202.5 66.8 L203.2 66.8 L204 65.6 L204.7 66.4 L205.4 67.5 L206.1 67.4 L206.8 67 L207.5 66.1 L208.2 67.8 L209 65.6 L209.7 64.9 L210.4 64.6 L211.1 65.4 L211.8 63.2 L212.5 63.9 L213.2 63.4 L213.9 63.8 L214.7 64.1 L215.4 64.3 L216.1 63.9 L216.8 65.9 L217.5 65.2 L218.2 66 L218.9 66.2 L219.6 66 L220.4 67.1 L221.1 67.7 L221.8 68.3 L222.5 67.5 L223.2 67.7 L223.9 67.8 L224.6 66.7 L225.4 66 L226.1 66.8 L226.8 66.5 L227.5 65.8 L228.2 66.2 L228.9 64.7 L229.6 65 L230.3 64.9 L231.1 64.8 L231.8 65.3 L232.5 65.2 L233.2 65.5 L233.9 65.8 L234.6 66.5 L235.3 65.9 L236.1 66.7 L236.8 67.9 L237.5 67.4 L238.2 67.7 L238.9 67.9 L239.6 68.9 L240.3 68.4 L241 68.3 L241.8 69.3 L242.5 68.8 L243.2 67.5 L243.9 66.4 L244.6 66.9 L245.3 66.4 L246 66.5 L246.8 66.2 L247.5 65.5 L248.2 65.5 L248.9 65.7 L249.6 66.5 L250.3 65.5 L251 67 L251.7 67 L252.5 67.5 L253.2 68 L253.9 68.1 L254.6 68 L255.3 69.1 L256 68.3 L256.7 69 L257.4 69.7 L258.2 68.7 L258.9 67.8 L259.6 68 L260.3 68 L261 66.3 L261.7 67.5 L262.4 66.6 L263.2 65.2 L263.9 65.4 L264.6 65.4 L265.3 65.7 L266 65.2 L266.7 65 L267.4 66.6 L268.1 65.2 L268.9 65.5 L269.6 67 L270.3 66.2 L271 67.1 L271.7 68.6 L272.4 68.6 L273.1 69.4 L273.9 68.8 L274.6 68.5 L275.3 68.6 L276 68.8 L276.7 68.8 L277.4 68.2 L278.1 66.5 L278.8 67.6 L279.6 66.5 L280.3 65.3 L281 64.6 L281.7 65.4 L282.4 65.3 L283.1 64.9 L283.8 66.1 L284.6 65.7 L285.3 66.2 L286 66.8 L286.7 66.8 L287.4 65.9 L288.1 66.8 L288.8 67.8 L289.5 68.7 L290.3 69.1 L291 68.9 L291.7 68.7 L292.4 68 L293.1 68.6 L293.8 67.4 L294.5 68.7 L295.2 67.5 L296 67.5 L296.7 66.9 L296.7 73.1 L296 73.2 L295.2 73.9 L294.5 73.7 L293.8 73.7 L293.1 73.5 L292.4 75.5 L291.7 74.8 L291 74.8 L290.3 74.3 L289.5 73 L288.8 74.2 L288.1 73.5 L287.4 73.4 L286.7 72.7 L286 73 L285.3 73.3 L284.6 72.4 L283.8 72.6 L283.1 72.3 L282.4 72.9 L281.7 73.7 L281 72.6 L280.3 72.4 L279.6 73.7 L278.8 73.9 L278.1 74.2 L277.4 73.8 L276.7 75.2 L276 74.6 L275.3 75.8 L274.6 74.8 L273.9 74.1 L273.1 74.7 L272.4 74.3 L271.7 74.5 L271 74.9 L270.3 74.9 L269.6 73.3 L268.9 73.8 L268.1 72.8 L267.4 73.1 L266.7 72.4 L266 72.9 L265.3 73.3 L264.6 72.6 L263.9 73 L263.2 72.6 L262.4 73.4 L261.7 73.3 L261 72.9 L260.3 73.7 L259.6 73.7 L258.9 73.9 L258.2 74.7 L257.4 74.8 L256.7 74.2 L256 74.1 L255.3 74.3 L254.6 74.1 L253.9 73.2 L253.2 72.9 L252.5 74.3 L251.7 73.5 L251 73.7 L250.3 73.1 L249.6 74 L248.9 73.1 L248.2 72 L247.5 72.8 L246.8 73.5 L246 73.7 L245.3 73.1 L244.6 73 L243.9 73.7 L243.2 74.7 L242.5 74.1 L241.8 74.2 L241 74.6 L240.3 74.8 L239.6 75.3 L238.9 74.2 L238.2 75.1 L237.5 74.8 L236.8 75.8 L236.1 75.2 L235.3 74.4 L234.6 74.2 L233.9 74.2 L233.2 72.6 L232.5 73.3 L231.8 73.5 L231.1 74.8 L230.3 73.1 L229.6 74.4 L228.9 74.7 L228.2 73.3 L227.5 75.2 L226.8 75.5 L226.1 75.4 L225.4 75.2 L224.6 76 L223.9 76.3 L223.2 76 L222.5 75.8 L221.8 76.5 L221.1 75.8 L220.4 74.9 L219.6 75.1 L218.9 74.4 L218.2 75.1 L217.5 75.5 L216.8 74 L216.1 74.7 L215.4 74 L214.7 73.5 L213.9 74.6 L213.2 74 L212.5 74.8 L211.8 74.5 L211.1 75.5 L210.4 75.6 L209.7 75.4 L209 75.3 L208.2 76.2 L207.5 75.2 L206.8 75.5 L206.1 76.4 L205.4 76.2 L204.7 76.5 L204 76.5 L203.2 76.5 L202.5 76.6 L201.8 75.7 L201.1 75.8 L200.4 75.9 L199.7 75.5 L199 73.9 L198.3 73.8 L197.5 75.7 L196.8 75.4 L196.1 74.3 L195.4 74.9 L194.7 75.4 L194 74.3 L193.3 74.6 L192.5 76 L191.8 76.7 L191.1 75.3 L190.4 76.6 L189.7 76.1 L189 75.9 L188.3 76.8 L187.6 76.9 L186.8 76.1 L186.1 77.3 L185.4 75.8 L184.7 75 L184 76.5 L183.3 76.8 L182.6 75.1 L181.9 75.6 L181.1 74.6 L180.4 74.3 L179.7 74.4 L179 74.6 L178.3 74.4 L177.6 73.8 L176.9 74.8 L176.1 75.3 L175.4 75.3 L174.7 76 L174 75.5 L173.3 77.3 L172.6 75.9 L171.9 76 L171.2 77.2 L170.4 76.3 L169.7 75.8 L169 76.5 L168.3 76.9 L167.6 75.8 L166.9 75.1 L166.2 76.3 L165.4 75.4 L164.7 75.8 L164 74.7 L163.3 75.4 L162.6 74.8 L161.9 73.6 L161.2 75.4 L160.5 75.9 L159.7 75.5 L159 75.7 L158.3 75.6 L157.6 76.4 L156.9 75.7 L156.2 76.7 L155.5 76.4 L154.7 75.4 L154 75.9 L153.3 76.4 L152.6 76.5 L151.9 76.6 L151.2 76.7 L150.5 76.5 L149.8 76.6 L149 75.8 L148.3 75.2 L147.6 75 L146.9 74.7 L146.2 75.3 L145.5 75.1 L144.8 74.4 L144.1 74.9 L143.3 74.8 L142.6 74.5 L141.9 75.2 L141.2 75 L140.5 74.6 L139.8 76.5 L139.1 75.4 L138.3 76.4 L137.6 76.8 L136.9 76.3 L136.2 76.3 L135.5 76 L134.8 76.1 L134.1 76.5 L133.4 76.6 L132.6 76.5 L131.9 76.3 L131.2 75.6 L130.5 76.1 L129.8 74.4 L129.1 74.8 L128.4 76 L127.6 74.1 L126.9 74.5 L126.2 75.4 L125.5 74.6 L124.8 75.3 L124.1 75.3 L123.4 76 L122.7 75.5 L121.9 76.1 L121.2 76.2 L120.5 77 L119.8 75.6 L119.1 76.1 L118.4 76.7 L117.7 76.5 L116.9 76.9 L116.2 76.8 L115.5 75.7 L114.8 75.4 L114.1 75.1 L113.4 75.3 L112.7 75.2 L112 75.3 L111.2 75.3 L110.5 74.9 L109.8 75.3 L109.1 74.5 L108.4 74.7 L107.7 76.3 L107 75.2 L106.3 75.4 L105.5 75 L104.8 77 L104.1 76 L103.4 75.6 L102.7 75.4 L102 76.8 L101.3 75.9 L100.5 75 L99.8 76.3 L99.1 75.7 L98.4 74.9 L97.7 75.7 L97 74.3 L96.3 74.1 L95.6 74 L94.8 73.4 L94.1 74.5 L93.4 72.7 L92.7 73.6 L92 73.5 L91.3 72.9 L90.6 71.3 L89.8 73.5 L89.1 72.6 L88.4 73.5 L87.7 74.2 L87 73.4 L86.3 73.9 L85.6 73.9 L84.9 74.3 L84.1 74.7 L83.4 74.2 L82.7 73.6 L82 74.4 L81.3 72.7 L80.6 73.5 L79.9 74 L79.1 73.2 L78.4 72.5 L77.7 72.3 L77 72.1 L76.3 71.8 L75.6 70.6 L74.9 71.9 L74.2 72.9 L73.4 71.7 L72.7 72.3 L72 72.8 L71.3 72.5 L70.6 72.7 L69.9 73.7 L69.2 73.6 L68.5 73.7 L67.7 74.1 L67 74.3 L66.3 74.7 L65.6 72.8 L64.9 74.5 L64.2 73.7 L63.5 73.4 L62.7 73.1 L62 72.7 L61.3 73.4 L60.6 71.4 L59.9 72.4 L59.2 71.5 L58.5 72.3 L57.8 72.2 L57 71.5 L56.3 72.9 L55.6 72.7 L54.9 72.2 L54.2 73.5 L53.5 72.5 L52.8 72.3 L52 73.9 L51.3 73.4 L50.6 75.2 L49.9 75.1 L49.2 73.9 L48.5 73.9 L47.8 73.3 L47.1 74.3 L46.3 74.6 L45.6 73 L44.9 72.3 L44.2 72.6 L43.5 72.7 L42.8 71.8 L42.1 70.9 L41.4 71.7Z" fill="rgb(25,25,240)" fill-opacity="0.12"/><path d="M41.4 67 L42.1 67.7 L42.8 67.5 L43.5 68.2 L44.2 66.9 L44.9 67.1 L45.6 68.2 L46.3 68.7 L47.1 69.9 L47.8 69.1 L48.5 68.7 L49.2 69.5 L49.9 70.2 L50.6 70.5 L51.3 68.8 L52 67.9 L52.8 68.7 L53.5 68.3 L54.2 68.5 L54.9 66.6 L55.6 67.3 L56.3 66.8 L57 66.8 L57.8 66.5 L58.5 66.8 L59.2 66.4 L59.9 68.2 L60.6 66.7 L61.3 68.2 L62 68.7 L62.7 68.9 L63.5 69.7 L64.2 69.6 L64.9 68.9 L65.6 69.2 L66.3 69.8 L67 69.9 L67.7 69.6 L68.5 69.8 L69.2 68.7 L69.9 69.2 L70.6 68 L71.3 68.3 L72 68.6 L72.7 65.7 L73.4 66.7 L74.2 66.6 L74.9 66.7 L75.6 66.2 L76.3 66.7 L77 66.9 L77.7 67 L78.4 67.4 L79.1 67.3 L79.9 68.8 L80.6 68.7 L81.3 68.2 L82 70.6 L82.7 70.1 L83.4 69.8 L84.1 70.5 L84.9 69.2 L85.6 68.5 L86.3 68.8 L87 69.8 L87.7 68.1 L88.4 68.3 L89.1 68.1 L89.8 66 L90.6 66.2 L91.3 65.7 L92 64.9 L92.7 66.1 L93.4 66 L94.1 65.5 L94.8 65.6 L95.6 66.7 L96.3 67.3 L97 68 L97.7 66.2 L98.4 67.9 L99.1 67.6 L99.8 69.4 L100.5 68.2 L101.3 67.8 L102 67.8 L102.7 68.2 L103.4 67.6 L104.1 67.6 L104.8 67.3 L105.5 66.2 L106.3 65.6 L107 65.3 L107.7 64.2 L108.4 65.1 L109.1 63.7 L109.8 64.8 L110.5 65.6 L111.2 64 L112 64.8 L112.7 64.8 L113.4 65.3 L114.1 66.4 L114.8 65.7 L115.5 66.9 L116.2 68.3 L116.9 67.2 L117.7 67.6 L118.4 68.1 L119.1 68.1 L119.8 67.9 L120.5 68.1 L121.2 66.7 L121.9 66.2 L122.7 67.4 L123.4 66.4 L124.1 65 L124.8 64.5 L125.5 64.4 L126.2 65.9 L126.9 64.9 L127.6 64.7 L128.4 64.7 L129.1 64.6 L129.8 64.8 L130.5 66.6 L131.2 66.5 L131.9 66.6 L132.6 67.3 L133.4 68 L134.1 68.1 L134.8 67.9 L135.5 67.3 L136.2 67.4 L136.9 67.5 L137.6 67.9 L138.3 67.1 L139.1 65.6 L139.8 66 L140.5 65.8 L141.2 65.5 L141.9 64.8 L142.6 64.6 L143.3 64.8 L144.1 65.3 L144.8 64.8 L145.5 64.7 L146.2 64.7 L146.9 65.3 L147.6 65.9 L148.3 64.9 L149 66.7 L149.8 67 L150.5 67.2 L151.2 67.7 L151.9 67.9 L152.6 67.6 L153.3 68.2 L154 67.3 L154.7 68 L155.5 68.2 L156.2 67.6 L156.9 67 L157.6 66.6 L158.3 65.8 L159 65.5 L159.7 64.4 L160.5 65.9 L161.2 64.3 L161.9 63.8 L162.6 65.5 L163.3 64.8 L164 65.2 L164.7 64.4 L165.4 65.5 L166.2 65.6 L166.9 67.1 L167.6 67 L168.3 67.7 L169 68.7 L169.7 68.2 L170.4 68.3 L171.2 68.3 L171.9 68.3 L172.6 69 L173.3 67.2 L174 65.9 L174.7 66.2 L175.4 65.9 L176.1 65.7 L176.9 65.1 L177.6 65.4 L178.3 64 L179 63.4 L179.7 64.9 L180.4 65 L181.1 64.5 L181.9 65.7 L182.6 65.7 L183.3 66.8 L184 66.2 L184.7 67.6 L185.4 67.6 L186.1 68.2 L186.8 67.2 L187.6 68.4 L188.3 67.6 L189 68.6 L189.7 67.8 L190.4 67.4 L191.1 67 L191.8 66.4 L192.5 65.6 L193.3 65.7 L194 65.1 L194.7 64 L195.4 64.9 L196.1 65.8 L196.8 64.1 L197.5 65 L198.3 65.1 L199 65.4 L199.7 66.1 L200.4 65.3 L201.1 66.1 L201.8 67.9 L202.5 67.1 L203.2 67.8 L204 67.1 L204.7 67.7 L205.4 66.9 L206.1 68.1 L206.8 67.7 L207.5 67.1 L208.2 67.1 L209 66.4 L209.7 66.3 L210.4 65.7 L211.1 66 L211.8 65.3 L212.5 64.5 L213.2 65 L213.9 64.5 L214.7 64.5 L215.4 65.5 L216.1 65.2 L216.8 66.1 L217.5 66.5 L218.2 65.6 L218.9 67.6 L219.6 67 L220.4 67.5 L221.1 68.6 L221.8 68.2 L222.5 68.8 L223.2 69.4 L223.9 68.3 L224.6 67.8 L225.4 67.7 L226.1 67.8 L226.8 66.7 L227.5 66.6 L228.2 65.8 L228.9 65.8 L229.6 66.9 L230.3 65.5 L231.1 65.3 L231.8 65.6 L232.5 65.2 L233.2 66.3 L233.9 67.1 L234.6 66.7 L235.3 67.2 L236.1 67.6 L236.8 67.9 L237.5 67.5 L238.2 69.3 L238.9 69.4 L239.6 68.9 L240.3 69.9 L241 69.6 L241.8 69.8 L242.5 68.3 L243.2 69.4 L243.9 67.7 L244.6 66.8 L245.3 65.9 L246 66.8 L246.8 66.8 L247.5 66 L248.2 66.1 L248.9 66.2 L249.6 67 L250.3 67.5 L251 67.9 L251.7 67.1 L252.5 67.8 L253.2 67.7 L253.9 68.4 L254.6 69 L255.3 69.5 L256 69.1 L256.7 68.9 L257.4 68.9 L258.2 69.8 L258.9 69.5 L259.6 69.8 L260.3 69.1 L261 68.4 L261.7 67.8 L262.4 67.4 L263.2 67 L263.9 66.3 L264.6 66.1 L265.3 66 L266 65.8 L266.7 66.8 L267.4 66.1 L268.1 67.5 L268.9 67.5 L269.6 66.6 L270.3 68.1 L271 68.4 L271.7 67.7 L272.4 68.7 L273.1 69.2 L273.9 69.6 L274.6 69.6 L275.3 69.7 L276 68.4 L276.7 68.5 L277.4 68.4 L278.1 67.8 L278.8 68.2 L279.6 67.1 L280.3 67.7 L281 66.3 L281.7 67.5 L282.4 65.8 L283.1 66.9 L283.8 66.5 L284.6 67.1 L285.3 67 L286 67.6 L286.7 67.4 L287.4 67.8 L288.1 67.8 L288.8 68.4 L289.5 69.2 L290.3 69.3 L291 71.1 L291.7 69.6 L292.4 69.9 L293.1 69.2 L293.8 69.9 L294.5 68.7 L295.2 68.1 L296 68.4 L296.7 68.8 L296.7 72.2 L296 73.7 L295.2 73.3 L294.5 73.4 L293.8 73.7 L293.1 73.8 L292.4 74 L291.7 74.4 L291 74 L290.3 75.1 L289.5 74.1 L288.8 73.1 L288.1 73.8 L287.4 73.3 L286.7 72.7 L286 72.4 L285.3 72.4 L284.6 71.9 L283.8 72.1 L283.1 71.2 L282.4 72.2 L281.7 71.8 L281 71.8 L280.3 72.1 L279.6 71.6 L278.8 73 L278.1 73.9 L277.4 73.7 L276.7 74.4 L276 75.1 L275.3 75.5 L274.6 73.5 L273.9 74.2 L273.1 74.4 L272.4 73.7 L271.7 73.9 L271 73.3 L270.3 73.7 L269.6 72.7 L268.9 71.3 L268.1 72.4 L267.4 71.7 L266.7 72.3 L266 71.8 L265.3 71.7 L264.6 71.9 L263.9 71.6 L263.2 73.1 L262.4 73.3 L261.7 71.9 L261 72.3 L260.3 74.2 L259.6 73.2 L258.9 73.9 L258.2 74.2 L257.4 73.5 L256.7 73.8 L256 74.5 L255.3 73.2 L254.6 73.2 L253.9 72.8 L253.2 72.9 L252.5 72.9 L251.7 72.8 L251 72.9 L250.3 71.9 L249.6 71.1 L248.9 71.4 L248.2 72.2 L247.5 72 L246.8 72.2 L246 71.2 L245.3 72 L244.6 72.4 L243.9 73.5 L243.2 73 L242.5 74.4 L241.8 74.4 L241 75.6 L240.3 73.8 L239.6 73.4 L238.9 74.2 L238.2 74.1 L237.5 74.3 L236.8 74.8 L236.1 73.7 L235.3 73.3 L234.6 73.6 L233.9 72.7 L233.2 72.7 L232.5 73.5 L231.8 72.8 L231.1 72 L230.3 72.5 L229.6 73.8 L228.9 72.8 L228.2 73.3 L227.5 74.2 L226.8 73.6 L226.1 73.7 L225.4 74.1 L224.6 74.5 L223.9 75.5 L223.2 75.8 L222.5 75.3 L221.8 75.8 L221.1 74.6 L220.4 74.3 L219.6 74.3 L218.9 73.3 L218.2 73.9 L217.5 74.1 L216.8 72.2 L216.1 73.7 L215.4 72.6 L214.7 73.3 L213.9 72.4 L213.2 73.5 L212.5 73.7 L211.8 74.4 L211.1 73.7 L210.4 73.6 L209.7 74.5 L209 73.7 L208.2 74.6 L207.5 75.4 L206.8 75.7 L206.1 75.7 L205.4 76.4 L204.7 75.9 L204 74.4 L203.2 74.8 L202.5 74.7 L201.8 75.1 L201.1 75.1 L200.4 73.6 L199.7 74.9 L199 73.8 L198.3 73.8 L197.5 73.9 L196.8 74 L196.1 73.7 L195.4 74.2 L194.7 73.9 L194 74 L193.3 74 L192.5 73.9 L191.8 75.6 L191.1 75.1 L190.4 75.2 L189.7 75 L189 75.8 L188.3 75.9 L187.6 75.9 L186.8 75.7 L186.1 76.3 L185.4 75.2 L184.7 75.1 L184 74.7 L183.3 74.3 L182.6 73.6 L181.9 74 L181.1 73.8 L180.4 73 L179.7 74.3 L179 74.5 L178.3 74.2 L177.6 73.9 L176.9 73 L176.1 74.5 L175.4 74.8 L174.7 74.2 L174 75.8 L173.3 74.5 L172.6 75 L171.9 76.9 L171.2 75.7 L170.4 76.4 L169.7 75.7 L169 74.5 L168.3 75.3 L167.6 75.2 L166.9 74.7 L166.2 74.1 L165.4 74.9 L164.7 73.4 L164 73.9 L163.3 72.6 L162.6 74 L161.9 73.3 L161.2 72.6 L160.5 74.1 L159.7 73.7 L159 73 L158.3 74 L157.6 74.8 L156.9 74.5 L156.2 74.5 L155.5 75.7 L154.7 75.7 L154 75.4 L153.3 75.3 L152.6 75.9 L151.9 74.9 L151.2 75.6 L150.5 75.7 L149.8 74.7 L149 74.4 L148.3 73.4 L147.6 74.2 L146.9 73.2 L146.2 74 L145.5 73.2 L144.8 73.5 L144.1 73.6 L143.3 74 L142.6 73.6 L141.9 74 L141.2 74.1 L140.5 74.4 L139.8 76.1 L139.1 75.7 L138.3 76.1 L137.6 75.2 L136.9 75.9 L136.2 75.9 L135.5 76 L134.8 74.3 L134.1 74.8 L133.4 75.6 L132.6 74.1 L131.9 74.1 L131.2 74.6 L130.5 74 L129.8 73.9 L129.1 74 L128.4 73.3 L127.6 73.5 L126.9 72.8 L126.2 73.7 L125.5 73.8 L124.8 73.8 L124.1 74.6 L123.4 74.6 L122.7 75.2 L121.9 74.9 L121.2 75.5 L120.5 75.1 L119.8 76.6 L119.1 76.2 L118.4 75.3 L117.7 76.3 L116.9 75.3 L116.2 75.2 L115.5 75.4 L114.8 74.7 L114.1 74.2 L113.4 74.6 L112.7 73.6 L112 73.5 L111.2 73.5 L110.5 73.4 L109.8 74.1 L109.1 73.1 L108.4 73.2 L107.7 73.6 L107 74.5 L106.3 73.7 L105.5 74.7 L104.8 75 L104.1 75.7 L103.4 75.5 L102.7 75.5 L102 74.4 L101.3 75.7 L100.5 75.3 L99.8 75.1 L99.1 74.8 L98.4 74.2 L97.7 74.3 L97 73.2 L96.3 73 L95.6 74 L94.8 73.1 L94.1 72.7 L93.4 71.5 L92.7 71.9 L92 72 L91.3 71.5 L90.6 71.2 L89.8 72.1 L89.1 74 L88.4 73.2 L87.7 73.3 L87 73.4 L86.3 73.3 L85.6 73.1 L84.9 73.6 L84.1 73 L83.4 73.1 L82.7 73.5 L82 73.8 L81.3 74 L80.6 72.7 L79.9 73.4 L79.1 72.8 L78.4 72.3 L77.7 71.5 L77 71.8 L76.3 70.5 L75.6 71.5 L74.9 72.2 L74.2 71.7 L73.4 71.4 L72.7 70.6 L72 71.2 L71.3 71.8 L70.6 72.4 L69.9 72.5 L69.2 73.4 L68.5 73 L67.7 73.7 L67 74 L66.3 74.3 L65.6 74.4 L64.9 73.9 L64.2 73.6 L63.5 73.1 L62.7 72.2 L62 72.7 L61.3 72.3 L60.6 71.5 L59.9 72 L59.2 71.3 L58.5 71.3 L57.8 71.1 L57 71.3 L56.3 71.7 L55.6 71.4 L54.9 71.9 L54.2 72.1 L53.5 72 L52.8 73.3 L52 73.4 L51.3 72.9 L50.6 74.3 L49.9 73.9 L49.2 73 L48.5 73.9 L47.8 73.1 L47.1 73.6 L46.3 72.4 L45.6 71.6 L44.9 72 L44.2 71.7 L43.5 71.7 L42.8 72.2 L42.1 71.7 L41.4 71.9Z" fill="rgb(25,25,240)" fill-opacity="0.12"/><path d="M41.4 66.3 L42.1 67.8 L42.8 67.4 L43.5 68.5 L44.2 68.3 L44.9 68.7 L45.6 69.7 L46.3 69.6 L47.1 70 L47.8 70.5 L48.5 71 L49.2 70.5 L49.9 69.8 L50.6 71.1 L51.3 69.9 L52 70.7 L52.8 70.1 L53.5 68.2 L54.2 68.3 L54.9 67.8 L55.6 67.6 L56.3 67.9 L57 67.7 L57.8 67.4 L58.5 65.9 L59.2 67.4 L59.9 67.3 L60.6 67.5 L61.3 68.8 L62 68.2 L62.7 69.1 L63.5 69.3 L64.2 69.6 L64.9 71.4 L65.6 70.3 L66.3 70.6 L67 70.4 L67.7 70.2 L68.5 69.7 L69.2 69.9 L69.9 69.6 L70.6 69.8 L71.3 68.5 L72 67.6 L72.7 68 L73.4 68.4 L74.2 67.2 L74.9 67.8 L75.6 67.4 L76.3 67.6 L77 67.6 L77.7 67.8 L78.4 67.6 L79.1 69.5 L79.9 68.7 L80.6 69.9 L81.3 69.7 L82 69.4 L82.7 70.1 L83.4 70 L84.1 69.9 L84.9 70.4 L85.6 69.9 L86.3 70.2 L87 68.5 L87.7 68.9 L88.4 69.1 L89.1 68.7 L89.8 67.2 L90.6 67.3 L91.3 66.6 L92 66.9 L92.7 67.1 L93.4 66.7 L94.1 67.1 L94.8 67.4 L95.6 66.8 L96.3 67.5 L97 67.7 L97.7 68 L98.4 67.4 L99.1 68.8 L99.8 69.5 L100.5 68.9 L101.3 68.1 L102 69.2 L102.7 68.8 L103.4 68.8 L104.1 68.3 L104.8 67.3 L105.5 67.9 L106.3 66.7 L107 66.7 L107.7 65.6 L108.4 66.6 L109.1 65.8 L109.8 66.2 L110.5 64.9 L111.2 65.9 L112 66.4 L112.7 66.6 L113.4 65.8 L114.1 66.9 L114.8 67.4 L115.5 67.8 L116.2 67.8 L116.9 68.7 L117.7 68 L118.4 69 L119.1 69.1 L119.8 67.5 L120.5 68.1 L121.2 68.3 L121.9 67.6 L122.7 67.1 L123.4 66.2 L124.1 66.9 L124.8 66.1 L125.5 66 L126.2 66.3 L126.9 65.8 L127.6 65.3 L128.4 65.3 L129.1 65.3 L129.8 66.8 L130.5 66.8 L131.2 67.9 L131.9 67.7 L132.6 68.7 L133.4 67.1 L134.1 68.4 L134.8 68.5 L135.5 68.5 L136.2 69.1 L136.9 68.7 L137.6 68.4 L138.3 67.9 L139.1 67.9 L139.8 67 L140.5 67.8 L141.2 66.8 L141.9 65.9 L142.6 66.8 L143.3 65.8 L144.1 66.6 L144.8 66.5 L145.5 65.8 L146.2 66.4 L146.9 66.3 L147.6 66.2 L148.3 66.2 L149 67.6 L149.8 67.5 L150.5 68.2 L151.2 68.6 L151.9 69 L152.6 68.3 L153.3 68.9 L154 69 L154.7 68.5 L155.5 68.7 L156.2 68.4 L156.9 67.8 L157.6 66.5 L158.3 67.4 L159 66.6 L159.7 66.7 L160.5 65.6 L161.2 64.6 L161.9 65.7 L162.6 65.6 L163.3 65.7 L164 65.8 L164.7 66.2 L165.4 67.8 L166.2 68.3 L166.9 67.5 L167.6 68.1 L168.3 68.9 L169 67.8 L169.7 68.6 L170.4 69.1 L171.2 69.3 L171.9 69.2 L172.6 68.5 L173.3 68.4 L174 67.5 L174.7 66.6 L175.4 67.3 L176.1 66.1 L176.9 65.8 L177.6 66.3 L178.3 66.1 L179 65.4 L179.7 65.6 L180.4 65.8 L181.1 67 L181.9 65.8 L182.6 66.8 L183.3 66.6 L184 67.3 L184.7 68.6 L185.4 68.9 L186.1 67.8 L186.8 68.9 L187.6 68.3 L188.3 67.8 L189 68.6 L189.7 69.4 L190.4 68.5 L191.1 68 L191.8 67.8 L192.5 66.7 L193.3 66.8 L194 66.7 L194.7 65.8 L195.4 65.6 L196.1 65.5 L196.8 64.8 L197.5 66.4 L198.3 66.1 L199 65.5 L199.7 66.8 L200.4 67.4 L201.1 67.6 L201.8 67.1 L202.5 68.2 L203.2 68.2 L204 68.7 L204.7 68.2 L205.4 68.7 L206.1 67.9 L206.8 68.5 L207.5 68.8 L208.2 68.9 L209 66.7 L209.7 67.1 L210.4 67.6 L211.1 67.1 L211.8 66 L212.5 65.6 L213.2 65.6 L213.9 65.8 L214.7 65.1 L215.4 65.5 L216.1 67.5 L216.8 66.3 L217.5 68.4 L218.2 68.2 L218.9 68.5 L219.6 68.1 L220.4 69.5 L221.1 68.4 L221.8 68.8 L222.5 69.6 L223.2 68.7 L223.9 70.8 L224.6 69.4 L225.4 68.8 L226.1 68 L226.8 67.5 L227.5 67.9 L228.2 67.2 L228.9 67.7 L229.6 67.2 L230.3 66.3 L231.1 67 L231.8 66.7 L232.5 66.6 L233.2 66.5 L233.9 66.8 L234.6 68.3 L235.3 67.4 L236.1 68 L236.8 68.8 L237.5 69.6 L238.2 69.2 L238.9 69.7 L239.6 69.8 L240.3 69.4 L241 70.4 L241.8 69.4 L242.5 69 L243.2 69.3 L243.9 67.8 L244.6 67.8 L245.3 67.5 L246 65.8 L246.8 67.1 L247.5 66.8 L248.2 67.7 L248.9 66.6 L249.6 67.5 L250.3 68 L251 67.9 L251.7 67.9 L252.5 68 L253.2 68.6 L253.9 69 L254.6 68.5 L255.3 69.8 L256 69.9 L256.7 70.5 L257.4 71 L258.2 69.2 L258.9 69.7 L259.6 69.5 L260.3 69.9 L261 68.9 L261.7 68.8 L262.4 68.2 L263.2 66.9 L263.9 68.2 L264.6 68.8 L265.3 66.9 L266 67.4 L266.7 67.2 L267.4 66.6 L268.1 67.4 L268.9 66.8 L269.6 68.4 L270.3 68.9 L271 68.7 L271.7 68.9 L272.4 69.3 L273.1 70 L273.9 70.2 L274.6 69.3 L275.3 69.9 L276 69.5 L276.7 69.9 L277.4 69.9 L278.1 68.2 L278.8 68.1 L279.6 67.7 L280.3 68.8 L281 66.9 L281.7 67.3 L282.4 67.1 L283.1 67.3 L283.8 66.8 L284.6 67.8 L285.3 67.3 L286 67.6 L286.7 67.8 L287.4 69.7 L288.1 69.1 L288.8 69.6 L289.5 68.7 L290.3 70.1 L291 69.3 L291.7 70.4 L292.4 69.9 L293.1 70.7 L293.8 69.9 L294.5 69.6 L295.2 69.2 L296 68.6 L296.7 68.1 L296.7 71.2 L296 71.7 L295.2 73.1 L294.5 73.3 L293.8 74.3 L293.1 73.3 L292.4 72.6 L291.7 73.3 L291 73.5 L290.3 73.6 L289.5 73.1 L288.8 72.8 L288.1 72.5 L287.4 73.9 L286.7 71.6 L286 70.5 L285.3 71.3 L284.6 72.4 L283.8 71.3 L283.1 70 L282.4 71.7 L281.7 71.4 L281 71.8 L280.3 71 L279.6 73 L278.8 72.3 L278.1 72.7 L277.4 72.4 L276.7 72.7 L276 73.5 L275.3 73.6 L274.6 74 L273.9 73.6 L273.1 73.9 L272.4 73.5 L271.7 72.5 L271 71.5 L270.3 73 L269.6 71.8 L268.9 72.1 L268.1 70.6 L267.4 71.4 L266.7 71.2 L266 71.1 L265.3 70.9 L264.6 72 L263.9 71.5 L263.2 71.6 L262.4 71.7 L261.7 72.8 L261 73.1 L260.3 72.2 L259.6 73.1 L258.9 73.7 L258.2 73.5 L257.4 73.2 L256.7 73.1 L256 72.9 L255.3 74.7 L254.6 73 L253.9 73.4 L253.2 72.7 L252.5 72.4 L251.7 72.1 L251 72.5 L250.3 72.6 L249.6 71.1 L248.9 71.2 L248.2 72.6 L247.5 70.5 L246.8 71.2 L246 71.5 L245.3 72.4 L244.6 72.4 L243.9 71.4 L243.2 72.6 L242.5 74.1 L241.8 72.6 L241 73.5 L240.3 73.2 L239.6 73.6 L238.9 73.5 L238.2 73.6 L237.5 73.2 L236.8 72.4 L236.1 72.8 L235.3 72.9 L234.6 71.8 L233.9 71.7 L233.2 71.6 L232.5 71.7 L231.8 71.2 L231.1 72.2 L230.3 72 L229.6 71.6 L228.9 71.7 L228.2 72 L227.5 72.6 L226.8 73 L226.1 73 L225.4 73.8 L224.6 72.4 L223.9 73.1 L223.2 75.5 L222.5 74.8 L221.8 74.3 L221.1 73.9 L220.4 74.2 L219.6 73.7 L218.9 72.7 L218.2 74 L217.5 72.9 L216.8 71.9 L216.1 71.8 L215.4 72.2 L214.7 72.4 L213.9 72.9 L213.2 71.7 L212.5 73 L211.8 73.1 L211.1 72.2 L210.4 73.3 L209.7 74.4 L209 73.6 L208.2 73.8 L207.5 74.3 L206.8 75.1 L206.1 74.1 L205.4 74.1 L204.7 75 L204 75.3 L203.2 73.7 L202.5 75.2 L201.8 73.6 L201.1 73.5 L200.4 73.8 L199.7 72.2 L199 73.5 L198.3 71.5 L197.5 72.3 L196.8 72.3 L196.1 72.4 L195.4 73.4 L194.7 72.6 L194 73.5 L193.3 72.4 L192.5 73.6 L191.8 73.5 L191.1 73.7 L190.4 74.4 L189.7 75.4 L189 74.6 L188.3 74.8 L187.6 75.6 L186.8 74.5 L186.1 75 L185.4 73.9 L184.7 73.5 L184 74.4 L183.3 72.8 L182.6 73.1 L181.9 72 L181.1 73.4 L180.4 72 L179.7 72.9 L179 72.6 L178.3 72.7 L177.6 72 L176.9 73 L176.1 72.4 L175.4 72.7 L174.7 73.9 L174 73.3 L173.3 74.1 L172.6 74.8 L171.9 74.7 L171.2 74.7 L170.4 74.7 L169.7 74.6 L169 73.8 L168.3 73.1 L167.6 75.4 L166.9 74.2 L166.2 74.4 L165.4 72.7 L164.7 73.2 L164 73.5 L163.3 73.2 L162.6 72.5 L161.9 73.1 L161.2 71.4 L160.5 72.6 L159.7 73 L159 72.8 L158.3 73.4 L157.6 73.5 L156.9 72.8 L156.2 73.9 L155.5 74 L154.7 75.1 L154 74.4 L153.3 74 L152.6 74.7 L151.9 74.8 L151.2 74.6 L150.5 73.7 L149.8 74.4 L149 73.8 L148.3 73.3 L147.6 72.4 L146.9 72.1 L146.2 73.4 L145.5 72.6 L144.8 71.8 L144.1 72.3 L143.3 73.1 L142.6 73.2 L141.9 72.5 L141.2 72.8 L140.5 73.2 L139.8 74.1 L139.1 74.1 L138.3 74.9 L137.6 73.9 L136.9 75.2 L136.2 75.1 L135.5 75.6 L134.8 73.8 L134.1 74.6 L133.4 75.4 L132.6 74.3 L131.9 74.4 L131.2 73.9 L130.5 73.2 L129.8 72.9 L129.1 72.6 L128.4 73.8 L127.6 73.3 L126.9 72.3 L126.2 71.6 L125.5 72.5 L124.8 73 L124.1 73 L123.4 73.3 L122.7 73.1 L121.9 74.1 L121.2 73.8 L120.5 73.9 L119.8 74.1 L119.1 74.5 L118.4 74.9 L117.7 73.4 L116.9 74.3 L116.2 73.6 L115.5 74.2 L114.8 73.3 L114.1 74 L113.4 73.7 L112.7 72.2 L112 72.4 L111.2 73.3 L110.5 72 L109.8 71.9 L109.1 72 L108.4 73.3 L107.7 72.9 L107 73.4 L106.3 73.1 L105.5 73.7 L104.8 74.3 L104.1 74.6 L103.4 74.5 L102.7 75 L102 74.2 L101.3 75 L100.5 74.1 L99.8 74.5 L99.1 73.4 L98.4 73.8 L97.7 73.6 L97 72.7 L96.3 72.5 L95.6 72.3 L94.8 72.1 L94.1 70.8 L93.4 71.3 L92.7 71.4 L92 71.4 L91.3 71.6 L90.6 71.6 L89.8 72.6 L89.1 71.7 L88.4 72.6 L87.7 71.7 L87 73.6 L86.3 73.9 L85.6 73.1 L84.9 73.5 L84.1 73.7 L83.4 73.6 L82.7 72.9 L82 72.8 L81.3 72.3 L80.6 72.6 L79.9 71.6 L79.1 71.7 L78.4 71.2 L77.7 71.5 L77 71.1 L76.3 71 L75.6 70.6 L74.9 69.9 L74.2 70.7 L73.4 71.2 L72.7 70.1 L72 70.8 L71.3 71.8 L70.6 73.4 L69.9 72.6 L69.2 74.4 L68.5 73.1 L67.7 72.5 L67 72.6 L66.3 73.6 L65.6 72.9 L64.9 73.4 L64.2 73.8 L63.5 72.9 L62.7 72.4 L62 71.6 L61.3 70.9 L60.6 71.6 L59.9 72 L59.2 71.4 L58.5 71.5 L57.8 71.2 L57 71.3 L56.3 71.1 L55.6 71.9 L54.9 71.7 L54.2 71.8 L53.5 71.7 L52.8 72.9 L52 72.8 L51.3 72.6 L50.6 72.9 L49.9 73.2 L49.2 72.7 L48.5 73.3 L47.8 72.2 L47.1 73 L46.3 71.7 L45.6 72.5 L44.9 71.9 L44.2 70 L43.5 71.6 L42.8 71.1 L42.1 71.7 L41.4 70.4Z" fill="rgb(25,25,240)" fill-opacity="0.12"/><path d="M41.4 68.4 L42.1 68.6 L42.8 67.8 L43.5 68.8 L44.2 70.1 L44.9 69.7 L45.6 70.5 L46.3 70.2 L47.1 71.1 L47.8 70.3 L48.5 71.5 L49.2 71.1 L49.9 71.1 L50.6 71.1 L51.3 69.6 L52 69.8 L52.8 70 L53.5 68.5 L54.2 69.7 L54.9 68.9 L55.6 69.1 L56.3 67.4 L57 68.6 L57.8 67.9 L58.5 67.3 L59.2 68.4 L59.9 69.3 L60.6 68.4 L61.3 69.5 L62 68.9 L62.7 69.8 L63.5 69.5 L64.2 70.4 L64.9 71.4 L65.6 70.7 L66.3 70.4 L67 71.5 L67.7 70.4 L68.5 69.9 L69.2 69.6 L69.9 70 L70.6 70.4 L71.3 69.3 L72 69 L72.7 68.4 L73.4 68.7 L74.2 68.7 L74.9 68 L75.6 68.2 L76.3 68.7 L77 69 L77.7 67.7 L78.4 69.2 L79.1 69.6 L79.9 70.1 L80.6 70.7 L81.3 70.6 L82 71.3 L82.7 70.1 L83.4 70.2 L84.1 70.6 L84.9 71 L85.6 71.5 L86.3 70.5 L87 69.8 L87.7 69.4 L88.4 68.9 L89.1 69.6 L89.8 67.8 L90.6 68.7 L91.3 67.5 L92 67.3 L92.7 68.2 L93.4 68.2 L94.1 68.4 L94.8 68 L95.6 68.2 L96.3 69.4 L97 67.8 L97.7 69.1 L98.4 69.6 L99.1 69.3 L99.8 69.7 L100.5 70.3 L101.3 70.4 L102 70.2 L102.7 70 L103.4 70.2 L104.1 69 L104.8 68.4 L105.5 69.3 L106.3 67.6 L107 67.8 L107.7 67.8 L108.4 66.6 L109.1 67.4 L109.8 67.3 L110.5 66.4 L111.2 67.8 L112 68.2 L112.7 67.1 L113.4 68.1 L114.1 68 L114.8 67.9 L115.5 69 L116.2 68.9 L116.9 69.4 L117.7 70.4 L118.4 69.8 L119.1 69.7 L119.8 69.6 L120.5 70 L121.2 69 L121.9 68.2 L122.7 68.2 L123.4 68.7 L124.1 67.8 L124.8 68 L125.5 67.2 L126.2 66.8 L126.9 66.6 L127.6 67.6 L128.4 67.4 L129.1 67.3 L129.8 67.3 L130.5 68 L131.2 68.3 L131.9 68.5 L132.6 69.3 L133.4 70 L134.1 70.4 L134.8 69.9 L135.5 69.9 L136.2 69.8 L136.9 69.7 L137.6 70.8 L138.3 68.7 L139.1 68.3 L139.8 68.1 L140.5 67.9 L141.2 69 L141.9 66.8 L142.6 66.2 L143.3 66.9 L144.1 67.1 L144.8 67.4 L145.5 67.5 L146.2 67.4 L146.9 68.2 L147.6 68.2 L148.3 68 L149 68.3 L149.8 67.9 L150.5 69.9 L151.2 69.5 L151.9 70.2 L152.6 70.3 L153.3 69.6 L154 68.9 L154.7 70.3 L155.5 69 L156.2 69.6 L156.9 68.9 L157.6 69.4 L158.3 68.4 L159 67.4 L159.7 66.6 L160.5 68 L161.2 66.7 L161.9 67 L162.6 66.5 L163.3 67.4 L164 67.3 L164.7 68.7 L165.4 67.9 L166.2 68.7 L166.9 68.3 L167.6 69.3 L168.3 69.7 L169 71 L169.7 69.4 L170.4 68.8 L171.2 71.7 L171.9 69.1 L172.6 69.1 L173.3 69.4 L174 69.1 L174.7 69.4 L175.4 68 L176.1 67.9 L176.9 68.4 L177.6 66.8 L178.3 66.9 L179 66.5 L179.7 66.4 L180.4 67.4 L181.1 67.8 L181.9 67.2 L182.6 68 L183.3 69 L184 68.7 L184.7 68.8 L185.4 69.6 L186.1 69.4 L186.8 69.3 L187.6 69.9 L188.3 69.9 L189 70.1 L189.7 69.8 L190.4 69.3 L191.1 69.4 L191.8 69.2 L192.5 68.5 L193.3 67.5 L194 67.6 L194.7 67.4 L195.4 66.4 L196.1 67 L196.8 67.1 L197.5 66.6 L198.3 67.2 L199 67.5 L199.7 67.9 L200.4 67.7 L201.1 68.5 L201.8 68.1 L202.5 69.7 L203.2 69.6 L204 69.7 L204.7 69.6 L205.4 70.2 L206.1 70.8 L206.8 69.6 L207.5 69.1 L208.2 68.4 L209 68.9 L209.7 69.5 L210.4 68.2 L211.1 67.5 L211.8 66.4 L212.5 67 L213.2 66.6 L213.9 68 L214.7 67 L215.4 68.1 L216.1 67.7 L216.8 68.3 L217.5 67.7 L218.2 68.1 L218.9 69.9 L219.6 70.5 L220.4 69.9 L221.1 68.8 L221.8 69.9 L222.5 70.4 L223.2 69.6 L223.9 70.5 L224.6 69.7 L225.4 69.9 L226.1 69.2 L226.8 68.2 L227.5 68.5 L228.2 67.2 L228.9 67.9 L229.6 68.6 L230.3 67.6 L231.1 66.3 L231.8 67.5 L232.5 68.2 L233.2 67.4 L233.9 67.1 L234.6 69.1 L235.3 67.5 L236.1 69.8 L236.8 70.5 L237.5 69.2 L238.2 71 L238.9 70.3 L239.6 70.6 L240.3 71 L241 69.7 L241.8 69.6 L242.5 69.4 L243.2 69.3 L243.9 69.4 L244.6 69.4 L245.3 67.7 L246 68.5 L246.8 68.7 L247.5 67.7 L248.2 67.7 L248.9 67.1 L249.6 67.5 L250.3 67.4 L251 67.6 L251.7 69.3 L252.5 68.6 L253.2 70.2 L253.9 69.5 L254.6 69.9 L255.3 70.5 L256 70.2 L256.7 70.9 L257.4 71.3 L258.2 70.4 L258.9 70.8 L259.6 69.9 L260.3 70.5 L261 69.1 L261.7 69.1 L262.4 67.8 L263.2 68.6 L263.9 69.9 L264.6 67.2 L265.3 67.8 L266 67.7 L266.7 68.1 L267.4 68.6 L268.1 68.7 L268.9 68 L269.6 69 L270.3 69.6 L271 69.1 L271.7 70.3 L272.4 69.7 L273.1 70.5 L273.9 70 L274.6 70.5 L275.3 70.6 L276 70.9 L276.7 70.7 L277.4 69.4 L278.1 69.3 L278.8 68.2 L279.6 68.5 L280.3 68.9 L281 67.7 L281.7 67.1 L282.4 68.2 L283.1 67.5 L283.8 67.1 L284.6 67.4 L285.3 68.1 L286 68.1 L286.7 68.2 L287.4 68.9 L288.1 69.6 L288.8 69.9 L289.5 69.2 L290.3 70.5 L291 70.9 L291.7 70.4 L292.4 70.9 L293.1 70 L293.8 70.7 L294.5 70.6 L295.2 70.4 L296 69.4 L296.7 68.8 L296.7 70.9 L296 71.2 L295.2 72.9 L294.5 72.2 L293.8 72 L293.1 72.4 L292.4 72.6 L291.7 73.4 L291 72.2 L290.3 72 L289.5 71.9 L288.8 71.8 L288.1 72.2 L287.4 72.5 L286.7 71.1 L286 71.8 L285.3 70.3 L284.6 70.3 L283.8 68.6 L283.1 69.6 L282.4 70.1 L281.7 70.5 L281 70.8 L280.3 71.2 L279.6 71.8 L278.8 72.2 L278.1 71.6 L277.4 72.4 L276.7 72.7 L276 73.4 L275.3 73.7 L274.6 73.3 L273.9 73.3 L273.1 73.4 L272.4 72 L271.7 72.6 L271 72.4 L270.3 71.9 L269.6 71.2 L268.9 71.2 L268.1 71.7 L267.4 71 L266.7 71.3 L266 69.8 L265.3 70.2 L264.6 70.4 L263.9 70.9 L263.2 70.8 L262.4 71.6 L261.7 72.1 L261 72.7 L260.3 72.9 L259.6 72.1 L258.9 72.2 L258.2 74 L257.4 73.3 L256.7 72.4 L256 72.6 L255.3 72.8 L254.6 72.4 L253.9 72.7 L253.2 71.3 L252.5 71.5 L251.7 71.1 L251 71.2 L250.3 70.4 L249.6 70.5 L248.9 70.8 L248.2 70.5 L247.5 69.6 L246.8 70.7 L246 69.8 L245.3 71.7 L244.6 70.2 L243.9 71.8 L243.2 72.4 L242.5 72.4 L241.8 72.4 L241 73.1 L240.3 73.4 L239.6 72.9 L238.9 73.2 L238.2 73.8 L237.5 72.7 L236.8 72.8 L236.1 72.4 L235.3 71 L234.6 70.6 L233.9 70.7 L233.2 70.5 L232.5 70.7 L231.8 70.1 L231.1 69.4 L230.3 70.9 L229.6 70.7 L228.9 71.3 L228.2 71.8 L227.5 70.8 L226.8 71.8 L226.1 72.8 L225.4 72.3 L224.6 73.4 L223.9 73 L223.2 73.7 L222.5 72.8 L221.8 73.9 L221.1 73.1 L220.4 72.9 L219.6 72.8 L218.9 73.5 L218.2 71.8 L217.5 71.7 L216.8 71.1 L216.1 71.6 L215.4 70.7 L214.7 71 L213.9 71 L213.2 71.2 L212.5 70.7 L211.8 71.3 L211.1 71.5 L210.4 71.7 L209.7 71.4 L209 72.9 L208.2 73 L207.5 72.9 L206.8 73.4 L206.1 72.9 L205.4 73.8 L204.7 74.2 L204 74.3 L203.2 73.2 L202.5 72.7 L201.8 72.6 L201.1 72.4 L200.4 72.1 L199.7 72.4 L199 71.7 L198.3 72 L197.5 70.7 L196.8 70.1 L196.1 70.6 L195.4 70.6 L194.7 71.3 L194 71.7 L193.3 71.7 L192.5 72.2 L191.8 71.7 L191.1 73.1 L190.4 73.1 L189.7 74 L189 74 L188.3 73.1 L187.6 74.5 L186.8 73 L186.1 74.4 L185.4 73 L184.7 71.9 L184 72.8 L183.3 71.7 L182.6 71.5 L181.9 71.5 L181.1 71.9 L180.4 71.4 L179.7 72.4 L179 70.9 L178.3 71.7 L177.6 71 L176.9 72.1 L176.1 72.5 L175.4 72.7 L174.7 71.7 L174 73.1 L173.3 72.5 L172.6 73 L171.9 73.6 L171.2 74.2 L170.4 73.3 L169.7 74 L169 73.5 L168.3 73.6 L167.6 72.6 L166.9 73.5 L166.2 71.8 L165.4 71.4 L164.7 71.5 L164 71.8 L163.3 70.8 L162.6 71.1 L161.9 71.1 L161.2 72 L160.5 71 L159.7 72.4 L159 71.6 L158.3 71.4 L157.6 72.9 L156.9 73.1 L156.2 73.6 L155.5 72.9 L154.7 73 L154 73.9 L153.3 74.9 L152.6 72.6 L151.9 72.9 L151.2 73.7 L150.5 73 L149.8 73.6 L149 73.1 L148.3 72 L147.6 71.6 L146.9 72.7 L146.2 72 L145.5 71.1 L144.8 71.7 L144.1 71.1 L143.3 71 L142.6 71.1 L141.9 71.8 L141.2 71.8 L140.5 72.6 L139.8 72.4 L139.1 72.7 L138.3 73.4 L137.6 72.8 L136.9 73.2 L136.2 74.3 L135.5 74 L134.8 72.8 L134.1 73.1 L133.4 72.8 L132.6 73.3 L131.9 72.7 L131.2 71.9 L130.5 72.1 L129.8 71.4 L129.1 71.4 L128.4 71.6 L127.6 71 L126.9 71.3 L126.2 71 L125.5 71.1 L124.8 71.9 L124.1 71.3 L123.4 71.4 L122.7 72.5 L121.9 73 L121.2 73.7 L120.5 72.4 L119.8 72.7 L119.1 74.1 L118.4 73.1 L117.7 73.8 L116.9 73.2 L116.2 72.9 L115.5 73.5 L114.8 73.9 L114.1 71.7 L113.4 71.8 L112.7 71.6 L112 70.8 L111.2 71.2 L110.5 70.6 L109.8 70.8 L109.1 70.6 L108.4 71 L107.7 72 L107 72.1 L106.3 72.2 L105.5 71.8 L104.8 73.2 L104.1 73.3 L103.4 73.6 L102.7 72.9 L102 73.8 L101.3 72.8 L100.5 73.4 L99.8 72.4 L99.1 72.7 L98.4 72.4 L97.7 72.5 L97 72 L96.3 71.5 L95.6 72 L94.8 70.6 L94.1 70.4 L93.4 70.3 L92.7 71.1 L92 70.6 L91.3 70.3 L90.6 70.7 L89.8 70.7 L89.1 71.3 L88.4 70.4 L87.7 72.1 L87 72.1 L86.3 71.7 L85.6 72 L84.9 71.5 L84.1 73.3 L83.4 73.6 L82.7 73.2 L82 72.5 L81.3 72.9 L80.6 71.4 L79.9 71.3 L79.1 71.8 L78.4 70.7 L77.7 71.6 L77 71.2 L76.3 70.5 L75.6 70.2 L74.9 70.6 L74.2 69.6 L73.4 70.5 L72.7 70.8 L72 70.3 L71.3 70.3 L70.6 71.3 L69.9 71.7 L69.2 72.7 L68.5 72.3 L67.7 72.9 L67 72.2 L66.3 72.4 L65.6 72 L64.9 72.6 L64.2 72.4 L63.5 72.7 L62.7 72.3 L62 72.2 L61.3 70.8 L60.6 69.3 L59.9 70.6 L59.2 69.9 L58.5 69.7 L57.8 69.5 L57 71.4 L56.3 70.6 L55.6 70.9 L54.9 70.4 L54.2 70.1 L53.5 71.5 L52.8 72.8 L52 72.2 L51.3 71.8 L50.6 73 L49.9 73.6 L49.2 72.6 L48.5 72.8 L47.8 73 L47.1 72 L46.3 71.8 L45.6 71.7 L44.9 71.7 L44.2 71.2 L43.5 71.5 L42.8 70.6 L42.1 69.6 L41.4 69.6Z" fill="rgb(25,25,240)" fill-opacity="0.1"/></g></g>
<g clip-path="url(#cL1)"><g filter="url(#bl4)"><path d="M41.4 163.7 L42.1 163.5 L42.8 164.4 L43.5 164.2 L44.2 164.8 L44.9 165 L45.6 164.9 L46.3 164.9 L47.1 164.9 L47.8 166.3 L48.5 166.8 L49.2 166.1 L49.9 167.3 L50.6 165.4 L51.3 165.1 L52 163.9 L52.8 162.6 L53.5 161.2 L54.2 161 L54.9 160 L55.6 159.6 L56.3 159.7 L57 160.6 L57.8 161 L58.5 162.3 L59.2 162.4 L59.9 162.6 L60.6 162.6 L61.3 162.9 L62 163.2 L62.7 164.1 L63.5 164.2 L64.2 165.5 L64.9 165.9 L65.6 166.2 L66.3 166.6 L67 166.9 L67.7 166.4 L68.5 165.5 L69.2 165.5 L69.9 165 L70.6 163.9 L71.3 163.2 L72 164 L72.7 162.6 L73.4 162.9 L74.2 163.6 L74.9 163.8 L75.6 163.7 L76.3 163.6 L77 163.7 L77.7 163.3 L78.4 163.5 L79.1 164.1 L79.9 164.8 L80.6 165.6 L81.3 165.8 L82 166.3 L82.7 167.1 L83.4 166.9 L84.1 167.8 L84.9 166.4 L85.6 165.5 L86.3 164.2 L87 162.5 L87.7 161.1 L88.4 160.6 L89.1 160.5 L89.8 159.9 L90.6 160.1 L91.3 160.1 L92 159.5 L92.7 159.8 L93.4 160.5 L94.1 159.7 L94.8 161.2 L95.6 161.8 L96.3 162.2 L97 163 L97.7 164 L98.4 163.9 L99.1 165 L99.8 165.5 L100.5 166 L101.3 166 L102 162.7 L102.7 160.8 L103.4 160.9 L104.1 151.9 L104.8 134.9 L105.5 125.5 L106.3 118.9 L107 115.2 L107.7 115.2 L108.4 118.4 L109.1 123.5 L109.8 122.5 L110.5 124.3 L111.2 126.5 L112 127.9 L112.7 131.5 L113.4 133.3 L114.1 131.3 L114.8 128.7 L115.5 126 L116.2 126.5 L116.9 126.3 L117.7 131.6 L118.4 136.2 L119.1 140.9 L119.8 145.9 L120.5 144.3 L121.2 143.1 L121.9 141.2 L122.7 138.3 L123.4 136.2 L124.1 135.8 L124.8 134 L125.5 133.1 L126.2 132.3 L126.9 132.9 L127.6 132.7 L128.4 134 L129.1 136.4 L129.8 139.2 L130.5 138.9 L131.2 138.8 L131.9 139.5 L132.6 138.6 L133.4 138.7 L134.1 138.9 L134.8 138.4 L135.5 139.2 L136.2 143.8 L136.9 151.3 L137.6 156.4 L138.3 153.4 L139.1 147.6 L139.8 142.6 L140.5 140.5 L141.2 137.2 L141.9 134.2 L142.6 131.8 L143.3 130.6 L144.1 131.2 L144.8 131.5 L145.5 131.5 L146.2 130.1 L146.9 129.4 L147.6 127.5 L148.3 125.8 L149 123.7 L149.8 122.4 L150.5 122.5 L151.2 122 L151.9 127.7 L152.6 132.2 L153.3 141.5 L154 148.6 L154.7 151.4 L155.5 148.2 L156.2 143.4 L156.9 131.8 L157.6 119 L158.3 119.3 L159 119.3 L159.7 120.9 L160.5 125 L161.2 125.1 L161.9 125.2 L162.6 127.1 L163.3 128.5 L164 127.7 L164.7 128.3 L165.4 127.3 L166.2 126.3 L166.9 126.2 L167.6 126.4 L168.3 126.6 L169 130.3 L169.7 137.8 L170.4 146.9 L171.2 152.8 L171.9 156.5 L172.6 153 L173.3 143.8 L174 136.1 L174.7 130.8 L175.4 129.3 L176.1 127.3 L176.9 126 L177.6 126.5 L178.3 126.8 L179 130.3 L179.7 129.7 L180.4 129.8 L181.1 130.3 L181.9 133.6 L182.6 134.8 L183.3 134.9 L184 134.5 L184.7 135.1 L185.4 135.5 L186.1 144.8 L186.8 153.9 L187.6 163.2 L188.3 166.1 L189 165.3 L189.7 164.3 L190.4 164.3 L191.1 163.7 L191.8 163.2 L192.5 163 L193.3 162.7 L194 162.4 L194.7 162 L195.4 161.1 L196.1 160.8 L196.8 161.4 L197.5 161.5 L198.3 161.1 L199 161.8 L199.7 162 L200.4 163.6 L201.1 164.7 L201.8 166 L202.5 167.5 L203.2 168.5 L204 168.1 L204.7 168 L205.4 166.9 L206.1 166.5 L206.8 166 L207.5 164 L208.2 162 L209 162.4 L209.7 162.6 L210.4 162.3 L211.1 161.7 L211.8 162 L212.5 162.2 L213.2 161.3 L213.9 162.3 L214.7 161.5 L215.4 161.8 L216.1 161.4 L216.8 162.3 L217.5 162.5 L218.2 164.4 L218.9 165.9 L219.6 164.5 L220.4 164.1 L221.1 163.4 L221.8 164.5 L222.5 163.8 L223.2 164.2 L223.9 164 L224.6 164.1 L225.4 164.1 L226.1 163.1 L226.8 163.3 L227.5 162.5 L228.2 162.9 L228.9 162.6 L229.6 163 L230.3 163.6 L231.1 164.3 L231.8 164.7 L232.5 164.1 L233.2 164.1 L233.9 163.7 L234.6 163.9 L235.3 164.1 L236.1 164.5 L236.8 163.7 L237.5 163.1 L238.2 162.8 L238.9 162.9 L239.6 163 L240.3 163.2 L241 163.9 L241.8 163 L242.5 162.1 L243.2 161.1 L243.9 161 L244.6 159.9 L245.3 158.9 L246 158.4 L246.8 158.1 L247.5 156.9 L248.2 156.4 L248.9 156.4 L249.6 155.9 L250.3 155.7 L251 156.2 L251.7 157.3 L252.5 158.8 L253.2 160.7 L253.9 160.1 L254.6 159.8 L255.3 160.1 L256 160.4 L256.7 162.7 L257.4 163.4 L258.2 164.8 L258.9 165.1 L259.6 163.7 L260.3 164.3 L261 162.9 L261.7 162.7 L262.4 161.8 L263.2 161.5 L263.9 161 L264.6 160.3 L265.3 160.4 L266 161.2 L266.7 161.1 L267.4 161.5 L268.1 161.8 L268.9 162.9 L269.6 162.3 L270.3 162.4 L271 163.5 L271.7 163.5 L272.4 163.5 L273.1 162.5 L273.9 163 L274.6 163.5 L275.3 163.7 L276 164.3 L276.7 159.7 L277.4 147.5 L278.1 138 L278.8 132.3 L279.6 131.7 L280.3 132.1 L281 133.2 L281.7 134 L282.4 136.2 L283.1 135.5 L283.8 132.4 L284.6 131.2 L285.3 125.3 L286 119.7 L286.7 119.9 L287.4 119.5 L288.1 122.2 L288.8 126.1 L289.5 131.5 L290.3 142.3 L291 152.4 L291.7 157 L292.4 155 L293.1 153.2 L293.8 150.8 L294.5 149.6 L295.2 142.4 L296 129.4 L296.7 125.4 L296.7 155.9 L296 159 L295.2 161.2 L294.5 161.8 L293.8 164.1 L293.1 163.9 L292.4 161.7 L291.7 162.1 L291 158.9 L290.3 151 L289.5 146.7 L288.8 143.7 L288.1 140.7 L287.4 137.9 L286.7 137.1 L286 136.7 L285.3 137.8 L284.6 139.8 L283.8 140.5 L283.1 141.7 L282.4 142.5 L281.7 143.6 L281 145.7 L280.3 149 L279.6 152.1 L278.8 154.6 L278.1 157.3 L277.4 168.4 L276.7 166.9 L276 167 L275.3 166.5 L274.6 165.9 L273.9 165.8 L273.1 166 L272.4 165.8 L271.7 165.9 L271 165.9 L270.3 165.1 L269.6 164.5 L268.9 164.3 L268.1 163.4 L267.4 163.9 L266.7 162.9 L266 164 L265.3 162.9 L264.6 163.6 L263.9 163.9 L263.2 164.5 L262.4 164.5 L261.7 165 L261 166.4 L260.3 165 L259.6 167 L258.9 167.6 L258.2 167.3 L257.4 165.2 L256.7 164.7 L256 164 L255.3 163 L254.6 162.5 L253.9 162.9 L253.2 161.2 L252.5 160.8 L251.7 159.9 L251 159.9 L250.3 158.9 L249.6 158.9 L248.9 159.1 L248.2 158.8 L247.5 160.1 L246.8 159.8 L246 161.4 L245.3 162 L244.6 162.7 L243.9 163.4 L243.2 163.8 L242.5 164.2 L241.8 164.9 L241 165.1 L240.3 165 L239.6 164.9 L238.9 166.4 L238.2 167.1 L237.5 165.8 L236.8 166.2 L236.1 166.1 L235.3 165.7 L234.6 165.7 L233.9 167 L233.2 166.6 L232.5 165.7 L231.8 166.5 L231.1 165.5 L230.3 165.7 L229.6 165.3 L228.9 164.7 L228.2 164.7 L227.5 165.6 L226.8 165.8 L226.1 166.1 L225.4 165.9 L224.6 165.6 L223.9 165.9 L223.2 166.1 L222.5 165.7 L221.8 166.2 L221.1 166.3 L220.4 166.2 L219.6 167.4 L218.9 168.1 L218.2 166.9 L217.5 165.3 L216.8 165.6 L216.1 165.5 L215.4 163.6 L214.7 163.7 L213.9 163.4 L213.2 164.2 L212.5 163.5 L211.8 163.8 L211.1 164 L210.4 163.9 L209.7 165.1 L209 166.5 L208.2 166.6 L207.5 167.6 L206.8 168 L206.1 169 L205.4 170.3 L204.7 170.2 L204 168.6 L203.2 169.6 L202.5 168.8 L201.8 167.9 L201.1 166.9 L200.4 166.1 L199.7 164.8 L199 165.3 L198.3 163.9 L197.5 163.9 L196.8 163.1 L196.1 162.7 L195.4 163.7 L194.7 163.9 L194 164.1 L193.3 164.8 L192.5 165.3 L191.8 165.6 L191.1 167 L190.4 166.3 L189.7 166.6 L189 167 L188.3 168.2 L187.6 167.9 L186.8 160.5 L186.1 162.8 L185.4 161.3 L184.7 158.5 L184 154.8 L183.3 150.8 L182.6 150 L181.9 148.7 L181.1 147.5 L180.4 147.7 L179.7 146.3 L179 145.7 L178.3 145.4 L177.6 145.8 L176.9 148.5 L176.1 151.2 L175.4 153.8 L174.7 156.9 L174 160 L173.3 163.4 L172.6 164.5 L171.9 164.8 L171.2 163.4 L170.4 160.7 L169.7 156.4 L169 153.9 L168.3 150.7 L167.6 149.2 L166.9 145.8 L166.2 145.3 L165.4 143.1 L164.7 143.7 L164 143.6 L163.3 143.6 L162.6 142.7 L161.9 141 L161.2 140.7 L160.5 142.2 L159.7 143.9 L159 146.9 L158.3 149.7 L157.6 153 L156.9 154.8 L156.2 157.7 L155.5 159.7 L154.7 159.6 L154 159 L153.3 156.3 L152.6 153.7 L151.9 151.1 L151.2 146.9 L150.5 145.8 L149.8 143.3 L149 143.7 L148.3 141.8 L147.6 143.3 L146.9 144.7 L146.2 145.8 L145.5 147.3 L144.8 148.2 L144.1 148.8 L143.3 150.7 L142.6 152.6 L141.9 155.8 L141.2 158.7 L140.5 161.1 L139.8 165.2 L139.1 165.4 L138.3 165.5 L137.6 164.9 L136.9 164.8 L136.2 163.3 L135.5 162.1 L134.8 158.6 L134.1 157.6 L133.4 154.9 L132.6 154.2 L131.9 154.3 L131.2 154 L130.5 153.1 L129.8 153.2 L129.1 151.8 L128.4 152.1 L127.6 151.2 L126.9 150.9 L126.2 150.9 L125.5 150.9 L124.8 152 L124.1 153.3 L123.4 155.1 L122.7 156.2 L121.9 157.2 L121.2 157.4 L120.5 156.2 L119.8 156.1 L119.1 153.3 L118.4 152.8 L117.7 150.8 L116.9 150.4 L116.2 150 L115.5 148.7 L114.8 147 L114.1 145.9 L113.4 146.5 L112.7 145.9 L112 144.3 L111.2 143.8 L110.5 141.3 L109.8 140 L109.1 139 L108.4 141.6 L107.7 145.4 L107 148.9 L106.3 149.6 L105.5 148.9 L104.8 162.1 L104.1 164.1 L103.4 162.1 L102.7 165.3 L102 167.8 L101.3 168.1 L100.5 166.7 L99.8 166.5 L99.1 166.7 L98.4 166.2 L97.7 164.6 L97 164.6 L96.3 163.6 L95.6 164.3 L94.8 163.6 L94.1 161.8 L93.4 162.7 L92.7 162.4 L92 162.3 L91.3 162.2 L90.6 161.8 L89.8 163.8 L89.1 163.5 L88.4 164.8 L87.7 165.3 L87 167.4 L86.3 168.3 L85.6 168.4 L84.9 169 L84.1 168.5 L83.4 169.4 L82.7 168.1 L82 168.5 L81.3 167.3 L80.6 167.5 L79.9 167 L79.1 166 L78.4 166.4 L77.7 165.3 L77 166.3 L76.3 165.2 L75.6 165.3 L74.9 165.5 L74.2 165.1 L73.4 165.4 L72.7 165.9 L72 165.4 L71.3 166.5 L70.6 166.3 L69.9 167.3 L69.2 167.5 L68.5 168.7 L67.7 168.6 L67 169.5 L66.3 167.6 L65.6 168.4 L64.9 167.1 L64.2 167 L63.5 166.9 L62.7 165.8 L62 166.5 L61.3 165 L60.6 164.2 L59.9 164.3 L59.2 163.5 L58.5 163.4 L57.8 163.4 L57 163.7 L56.3 163.4 L55.6 163 L54.9 163.9 L54.2 163.6 L53.5 165 L52.8 165.9 L52 167.1 L51.3 167.3 L50.6 168.7 L49.9 168.6 L49.2 168.2 L48.5 167.4 L47.8 167.4 L47.1 167.4 L46.3 167 L45.6 167 L44.9 166.4 L44.2 166.5 L43.5 166 L42.8 165.7 L42.1 165.5 L41.4 166.3Z" fill="rgb(25,25,240)" fill-opacity="0.1"/><path d="M41.4 163.6 L42.1 163.8 L42.8 164.2 L43.5 163.6 L44.2 164.8 L44.9 164.5 L45.6 165.4 L46.3 164.7 L47.1 165.6 L47.8 165.5 L48.5 166.3 L49.2 166.9 L49.9 166.2 L50.6 166.6 L51.3 165.1 L52 164.2 L52.8 162.8 L53.5 161.9 L54.2 161 L54.9 160 L55.6 159.7 L56.3 159.5 L57 160.2 L57.8 161.8 L58.5 162.3 L59.2 162.1 L59.9 162.7 L60.6 162.8 L61.3 163.8 L62 163.4 L62.7 163.8 L63.5 164.6 L64.2 165.3 L64.9 165.5 L65.6 166.2 L66.3 166.8 L67 167.1 L67.7 167.1 L68.5 165.8 L69.2 165.2 L69.9 164.1 L70.6 164 L71.3 164 L72 163.6 L72.7 163.8 L73.4 162.9 L74.2 163.1 L74.9 164.3 L75.6 163.4 L76.3 163.5 L77 163.1 L77.7 163.7 L78.4 163.6 L79.1 164.7 L79.9 164.3 L80.6 164.5 L81.3 165.5 L82 166.4 L82.7 166.6 L83.4 167.3 L84.1 168 L84.9 167.1 L85.6 166.5 L86.3 164.8 L87 162.7 L87.7 161.2 L88.4 161.1 L89.1 161.1 L89.8 160.7 L90.6 159.5 L91.3 159.7 L92 160.1 L92.7 159.1 L93.4 159.5 L94.1 160 L94.8 160.5 L95.6 161.3 L96.3 162.1 L97 163.4 L97.7 164.2 L98.4 164.8 L99.1 165.1 L99.8 165.2 L100.5 165.9 L101.3 166.9 L102 162.3 L102.7 161 L103.4 161.3 L104.1 152 L104.8 135.2 L105.5 126 L106.3 118.2 L107 114.9 L107.7 115.2 L108.4 118.6 L109.1 122.7 L109.8 123.1 L110.5 124.9 L111.2 126.6 L112 127.8 L112.7 131.6 L113.4 133.1 L114.1 130.9 L114.8 128.6 L115.5 126 L116.2 126.2 L116.9 126.3 L117.7 132.6 L118.4 137.8 L119.1 141 L119.8 146.1 L120.5 144.1 L121.2 143 L121.9 140.9 L122.7 138.3 L123.4 136.2 L124.1 135.5 L124.8 134.4 L125.5 133 L126.2 132.1 L126.9 132.6 L127.6 132.5 L128.4 135.4 L129.1 136.7 L129.8 138.7 L130.5 139.1 L131.2 139.5 L131.9 139.4 L132.6 138.8 L133.4 139.2 L134.1 138.6 L134.8 138.9 L135.5 138.8 L136.2 143.2 L136.9 151.2 L137.6 157.1 L138.3 153.2 L139.1 147.2 L139.8 143 L140.5 140.2 L141.2 137.7 L141.9 135.1 L142.6 131.8 L143.3 131.9 L144.1 130.9 L144.8 131.7 L145.5 131.1 L146.2 130.7 L146.9 129.9 L147.6 127.9 L148.3 125.7 L149 123.4 L149.8 122.7 L150.5 122.1 L151.2 122.5 L151.9 127.4 L152.6 132.1 L153.3 141.8 L154 148.5 L154.7 151.1 L155.5 149.1 L156.2 142.6 L156.9 132.6 L157.6 119.2 L158.3 119.6 L159 119.7 L159.7 121.5 L160.5 125.5 L161.2 125.1 L161.9 125 L162.6 126.8 L163.3 128.1 L164 128.3 L164.7 127.9 L165.4 127.5 L166.2 126 L166.9 126.6 L167.6 126.2 L168.3 127.1 L169 130.9 L169.7 137.7 L170.4 147.8 L171.2 153 L171.9 157.4 L172.6 153 L173.3 143.8 L174 136.3 L174.7 130.6 L175.4 129.8 L176.1 127.9 L176.9 126.5 L177.6 126.2 L178.3 126.4 L179 131.2 L179.7 129.9 L180.4 129.7 L181.1 131.1 L181.9 133.6 L182.6 135 L183.3 134.9 L184 134.6 L184.7 134.7 L185.4 136.7 L186.1 145 L186.8 153.8 L187.6 163.7 L188.3 165.5 L189 165.1 L189.7 164.8 L190.4 163.6 L191.1 163.2 L191.8 163.9 L192.5 162.7 L193.3 162.5 L194 162.2 L194.7 161.9 L195.4 161.5 L196.1 160.6 L196.8 161 L197.5 160.9 L198.3 161.6 L199 161.7 L199.7 161.8 L200.4 162.8 L201.1 164.5 L201.8 165.9 L202.5 167.6 L203.2 167.9 L204 168.3 L204.7 168.6 L205.4 167.2 L206.1 167.3 L206.8 165.8 L207.5 164 L208.2 162.4 L209 162.6 L209.7 162.1 L210.4 161.9 L211.1 162.1 L211.8 161.7 L212.5 161.9 L213.2 161.9 L213.9 160.8 L214.7 161.9 L215.4 161.6 L216.1 161.7 L216.8 162.7 L217.5 163.1 L218.2 163.7 L218.9 165.7 L219.6 164.3 L220.4 163.3 L221.1 163.7 L221.8 164.1 L222.5 164.2 L223.2 163.9 L223.9 164.4 L224.6 164.2 L225.4 163.5 L226.1 163.2 L226.8 163.1 L227.5 162.5 L228.2 162.7 L228.9 162.9 L229.6 162.9 L230.3 163.1 L231.1 164.1 L231.8 164.2 L232.5 164.5 L233.2 164.1 L233.9 163.9 L234.6 163.8 L235.3 164 L236.1 164.7 L236.8 164.4 L237.5 163.2 L238.2 162.8 L238.9 163 L239.6 162.8 L240.3 162.9 L241 163.3 L241.8 162.5 L242.5 162.6 L243.2 161 L243.9 160.2 L244.6 159.9 L245.3 158.7 L246 158.8 L246.8 157.8 L247.5 157.1 L248.2 156.2 L248.9 155.8 L249.6 156.1 L250.3 155.8 L251 155.9 L251.7 156.1 L252.5 158.2 L253.2 159.4 L253.9 160.2 L254.6 160.5 L255.3 160.6 L256 161.2 L256.7 161.9 L257.4 163.7 L258.2 165.1 L258.9 164.8 L259.6 163.8 L260.3 163.6 L261 162.9 L261.7 162.8 L262.4 162.3 L263.2 161.5 L263.9 160.6 L264.6 161.3 L265.3 160 L266 160.6 L266.7 162.2 L267.4 161.2 L268.1 162.1 L268.9 162.4 L269.6 162.6 L270.3 163 L271 163.6 L271.7 163.5 L272.4 162.5 L273.1 163.2 L273.9 162.9 L274.6 163.7 L275.3 164.7 L276 165 L276.7 160.3 L277.4 147.5 L278.1 137.2 L278.8 132 L279.6 132.5 L280.3 132.7 L281 132.7 L281.7 134.6 L282.4 136.8 L283.1 134.6 L283.8 132.8 L284.6 130.9 L285.3 125.2 L286 119.6 L286.7 120.7 L287.4 119.9 L288.1 122.5 L288.8 125.9 L289.5 131.7 L290.3 142 L291 151.9 L291.7 157 L292.4 155.4 L293.1 153.3 L293.8 151.5 L294.5 150.3 L295.2 144.2 L296 130.8 L296.7 127.1 L296.7 154.9 L296 159.8 L295.2 160.4 L294.5 161.1 L293.8 163.5 L293.1 163.5 L292.4 161.5 L291.7 162.4 L291 159.4 L290.3 150 L289.5 145.5 L288.8 142.3 L288.1 138.8 L287.4 137.3 L286.7 135.6 L286 136.2 L285.3 137 L284.6 138.8 L283.8 139.9 L283.1 140.8 L282.4 140.8 L281.7 142.4 L281 144.4 L280.3 147.2 L279.6 150.7 L278.8 153.7 L278.1 156.4 L277.4 168.4 L276.7 167.1 L276 166.6 L275.3 165.7 L274.6 166.7 L273.9 166.1 L273.1 165.7 L272.4 165.4 L271.7 166 L271 165.5 L270.3 165.5 L269.6 163.6 L268.9 164.7 L268.1 163.9 L267.4 162.7 L266.7 162.9 L266 162.5 L265.3 162.9 L264.6 162.9 L263.9 163.3 L263.2 164 L262.4 164.5 L261.7 165.5 L261 165 L260.3 165.6 L259.6 166.8 L258.9 167.7 L258.2 167.7 L257.4 166.5 L256.7 164.3 L256 163.6 L255.3 163 L254.6 162.1 L253.9 162 L253.2 162.2 L252.5 160.7 L251.7 159.4 L251 159.3 L250.3 159.6 L249.6 158.6 L248.9 158.8 L248.2 158.9 L247.5 159.4 L246.8 160.1 L246 161 L245.3 161.6 L244.6 163.4 L243.9 163.5 L243.2 163.5 L242.5 163.6 L241.8 165.2 L241 165.4 L240.3 164.1 L239.6 165.1 L238.9 165.8 L238.2 165.2 L237.5 166.6 L236.8 166.9 L236.1 166.4 L235.3 166.8 L234.6 166.3 L233.9 165.5 L233.2 166 L232.5 166.1 L231.8 166 L231.1 165.8 L230.3 165.1 L229.6 164.9 L228.9 164.9 L228.2 165.5 L227.5 165 L226.8 164.7 L226.1 165.2 L225.4 165.4 L224.6 166.2 L223.9 165.9 L223.2 166.3 L222.5 165.7 L221.8 166.1 L221.1 166.8 L220.4 166.8 L219.6 167.2 L218.9 168 L218.2 166.1 L217.5 165.2 L216.8 164.6 L216.1 164.1 L215.4 164 L214.7 163.7 L213.9 163.1 L213.2 163.8 L212.5 163.7 L211.8 163.1 L211.1 163.9 L210.4 165 L209.7 165.3 L209 166.2 L208.2 166.8 L207.5 167.7 L206.8 167.9 L206.1 169 L205.4 169.5 L204.7 170.6 L204 170.2 L203.2 169.1 L202.5 169.7 L201.8 169.4 L201.1 166.4 L200.4 165.4 L199.7 165.5 L199 164.5 L198.3 163 L197.5 163.5 L196.8 162 L196.1 163.2 L195.4 164.3 L194.7 163.4 L194 163.5 L193.3 164.1 L192.5 164.4 L191.8 165.8 L191.1 166 L190.4 166.5 L189.7 166.5 L189 167.6 L188.3 167.7 L187.6 168 L186.8 161 L186.1 161.3 L185.4 159.7 L184.7 156.8 L184 153.1 L183.3 149.3 L182.6 147.9 L181.9 147.1 L181.1 146.2 L180.4 145.8 L179.7 145.1 L179 144.2 L178.3 143.9 L177.6 144.3 L176.9 146.7 L176.1 150.2 L175.4 153.3 L174.7 155.9 L174 159 L173.3 161.6 L172.6 163.8 L171.9 163.7 L171.2 160.9 L170.4 159.2 L169.7 156.2 L169 152.9 L168.3 149.8 L167.6 146.6 L166.9 144.2 L166.2 142.9 L165.4 141.9 L164.7 142 L164 142.3 L163.3 143.1 L162.6 140.9 L161.9 139.1 L161.2 139.2 L160.5 140.5 L159.7 141.2 L159 144.7 L158.3 147.6 L157.6 150.7 L156.9 153 L156.2 156.1 L155.5 157.8 L154.7 157.9 L154 156.7 L153.3 154.2 L152.6 151.2 L151.9 148.4 L151.2 146.4 L150.5 143.5 L149.8 141.9 L149 142.1 L148.3 142.1 L147.6 142.8 L146.9 142.9 L146.2 144.6 L145.5 145 L144.8 146.1 L144.1 148.2 L143.3 149.3 L142.6 151.7 L141.9 154.3 L141.2 156 L140.5 159.3 L139.8 162.2 L139.1 163.8 L138.3 162.7 L137.6 162.8 L136.9 162.8 L136.2 160.9 L135.5 159.8 L134.8 157.6 L134.1 155.1 L133.4 153.8 L132.6 152.5 L131.9 153 L131.2 152.7 L130.5 151.6 L129.8 151 L129.1 150.6 L128.4 149.9 L127.6 149.6 L126.9 148.8 L126.2 149.5 L125.5 149.6 L124.8 150.1 L124.1 150.8 L123.4 153.2 L122.7 155 L121.9 155.7 L121.2 156.2 L120.5 155.9 L119.8 155.3 L119.1 152.4 L118.4 151.1 L117.7 149.9 L116.9 148.8 L116.2 147.7 L115.5 147.1 L114.8 145.7 L114.1 144.6 L113.4 144.8 L112.7 143.6 L112 143.6 L111.2 142.4 L110.5 139.8 L109.8 138.7 L109.1 137.5 L108.4 138.5 L107.7 143.5 L107 146 L106.3 148.2 L105.5 148.2 L104.8 162.2 L104.1 163.3 L103.4 162.7 L102.7 166.2 L102 168 L101.3 167.8 L100.5 167.2 L99.8 166.9 L99.1 167 L98.4 165.6 L97.7 164.9 L97 165.1 L96.3 164 L95.6 163.1 L94.8 163.7 L94.1 162.3 L93.4 162.8 L92.7 162.8 L92 162 L91.3 161.7 L90.6 162.6 L89.8 162.9 L89.1 163.4 L88.4 164.4 L87.7 165.1 L87 167.1 L86.3 168.2 L85.6 169.4 L84.9 169.2 L84.1 169.2 L83.4 168.5 L82.7 168 L82 167.9 L81.3 167.3 L80.6 167.1 L79.9 166.4 L79.1 166.1 L78.4 166 L77.7 166 L77 164.9 L76.3 165.7 L75.6 165.1 L74.9 164.7 L74.2 165 L73.4 165 L72.7 165.9 L72 166 L71.3 166.4 L70.6 167.1 L69.9 166.6 L69.2 168.3 L68.5 167.9 L67.7 169.4 L67 167.4 L66.3 168.5 L65.6 168.6 L64.9 167.8 L64.2 166.8 L63.5 166.6 L62.7 165.9 L62 166.5 L61.3 164.8 L60.6 164 L59.9 164.6 L59.2 163.8 L58.5 163.8 L57.8 163.1 L57 163 L56.3 163 L55.6 163.2 L54.9 164 L54.2 163.7 L53.5 165.6 L52.8 166.2 L52 167.2 L51.3 167.6 L50.6 168.4 L49.9 167.9 L49.2 168 L48.5 167.6 L47.8 167.3 L47.1 166.9 L46.3 167.7 L45.6 167 L44.9 166.1 L44.2 165.1 L43.5 166.1 L42.8 165.9 L42.1 164.6 L41.4 165.5Z" fill="rgb(25,25,240)" fill-opacity="0.11"/><path d="M41.4 163.9 L42.1 163.7 L42.8 163.8 L43.5 164.3 L44.2 164.8 L44.9 164.9 L45.6 165 L46.3 164.9 L47.1 165 L47.8 166.4 L48.5 166.2 L49.2 166.4 L49.9 167.4 L50.6 166.7 L51.3 165.2 L52 164 L52.8 162.6 L53.5 161.9 L54.2 161.1 L54.9 159.7 L55.6 159.2 L56.3 159.6 L57 160.5 L57.8 160.7 L58.5 161.6 L59.2 162.5 L59.9 162.9 L60.6 163 L61.3 162.9 L62 163.6 L62.7 164.1 L63.5 163.5 L64.2 164.8 L64.9 165.5 L65.6 166.3 L66.3 166.5 L67 167 L67.7 166.6 L68.5 166.4 L69.2 165 L69.9 164.2 L70.6 163.8 L71.3 163.6 L72 163.4 L72.7 163.6 L73.4 163.4 L74.2 163 L74.9 163.7 L75.6 163.5 L76.3 163.9 L77 163.9 L77.7 163.2 L78.4 163.4 L79.1 164.4 L79.9 164.6 L80.6 165.3 L81.3 165.5 L82 166.9 L82.7 167 L83.4 166.5 L84.1 167.9 L84.9 166.9 L85.6 166.5 L86.3 164.5 L87 163.4 L87.7 161 L88.4 161.3 L89.1 160.2 L89.8 160.3 L90.6 160.4 L91.3 159.5 L92 159.9 L92.7 159.4 L93.4 159.5 L94.1 159.9 L94.8 161 L95.6 161.5 L96.3 162.5 L97 163.2 L97.7 163.4 L98.4 164.1 L99.1 164.6 L99.8 165.3 L100.5 166 L101.3 166.4 L102 162.9 L102.7 161.8 L103.4 161.2 L104.1 151.5 L104.8 135.2 L105.5 126.3 L106.3 118.8 L107 115.4 L107.7 115.4 L108.4 118.8 L109.1 123.5 L109.8 123.1 L110.5 125 L111.2 126.9 L112 127.6 L112.7 131.7 L113.4 134.1 L114.1 131.8 L114.8 128.3 L115.5 126.8 L116.2 126.5 L116.9 126.5 L117.7 131.6 L118.4 137 L119.1 140.8 L119.8 145 L120.5 144 L121.2 143.1 L121.9 140.6 L122.7 138.6 L123.4 136.9 L124.1 135.8 L124.8 134.6 L125.5 133.8 L126.2 132.4 L126.9 132.8 L127.6 132.1 L128.4 134.7 L129.1 136.7 L129.8 139.3 L130.5 139.9 L131.2 139.4 L131.9 138.9 L132.6 139 L133.4 138.5 L134.1 139.1 L134.8 139 L135.5 138.7 L136.2 143.8 L136.9 151.8 L137.6 157.2 L138.3 153.7 L139.1 147.8 L139.8 143.2 L140.5 140.9 L141.2 137.4 L141.9 135.5 L142.6 132.1 L143.3 131.4 L144.1 130.9 L144.8 131.7 L145.5 131.6 L146.2 130.7 L146.9 130.3 L147.6 128.2 L148.3 125.9 L149 123.7 L149.8 122 L150.5 122.1 L151.2 121.9 L151.9 126.8 L152.6 132.7 L153.3 141.9 L154 149.6 L154.7 152 L155.5 149.1 L156.2 143 L156.9 131.9 L157.6 119.6 L158.3 119.9 L159 120.2 L159.7 121.8 L160.5 125.4 L161.2 125.2 L161.9 125.1 L162.6 127.2 L163.3 128.9 L164 128.4 L164.7 128 L165.4 128 L166.2 126.9 L166.9 127.2 L167.6 127.5 L168.3 127 L169 130.7 L169.7 137.5 L170.4 147.6 L171.2 153 L171.9 156.4 L172.6 153.6 L173.3 143.9 L174 136.2 L174.7 131.8 L175.4 128.9 L176.1 128.4 L176.9 126.5 L177.6 126.4 L178.3 126.6 L179 131 L179.7 130.1 L180.4 129.6 L181.1 130.7 L181.9 133.9 L182.6 135.3 L183.3 135.4 L184 135.2 L184.7 135.5 L185.4 136.3 L186.1 145.1 L186.8 153.9 L187.6 164.1 L188.3 165.5 L189 165.5 L189.7 164.4 L190.4 163.8 L191.1 163.4 L191.8 163.2 L192.5 163.6 L193.3 162.8 L194 162.6 L194.7 161.7 L195.4 161 L196.1 160.5 L196.8 160.7 L197.5 160.9 L198.3 161 L199 161.4 L199.7 162.1 L200.4 163.5 L201.1 164.9 L201.8 166 L202.5 167.1 L203.2 167.5 L204 168 L204.7 168.2 L205.4 167.4 L206.1 166.7 L206.8 165.7 L207.5 163.7 L208.2 162.5 L209 162.7 L209.7 161.9 L210.4 161.9 L211.1 162.1 L211.8 162 L212.5 161.9 L213.2 161.5 L213.9 162.5 L214.7 162.3 L215.4 161.7 L216.1 161.8 L216.8 162.1 L217.5 162.6 L218.2 164.5 L218.9 165.2 L219.6 164.1 L220.4 163.8 L221.1 163.7 L221.8 164.3 L222.5 164.5 L223.2 164.6 L223.9 164.2 L224.6 163.6 L225.4 164 L226.1 163.5 L226.8 163.4 L227.5 162.9 L228.2 162.8 L228.9 163.1 L229.6 162.9 L230.3 163.3 L231.1 163.8 L231.8 164.3 L232.5 164.3 L233.2 164.8 L233.9 164.3 L234.6 164 L235.3 164 L236.1 164.6 L236.8 164.7 L237.5 163.7 L238.2 162.7 L238.9 162.7 L239.6 163.4 L240.3 162.8 L241 163.4 L241.8 162.4 L242.5 162.2 L243.2 161.3 L243.9 160.5 L244.6 160.2 L245.3 159.3 L246 158.2 L246.8 157.4 L247.5 157.1 L248.2 156.5 L248.9 156.2 L249.6 155.6 L250.3 155.5 L251 156.3 L251.7 156.8 L252.5 158.2 L253.2 159.8 L253.9 160.2 L254.6 160.1 L255.3 160.5 L256 160.5 L256.7 162.4 L257.4 163.8 L258.2 165.6 L258.9 164.5 L259.6 163.6 L260.3 163.4 L261 163.3 L261.7 162.6 L262.4 162.2 L263.2 161.5 L263.9 161 L264.6 160.8 L265.3 160.6 L266 160.8 L266.7 161.4 L267.4 162.1 L268.1 161.8 L268.9 162.2 L269.6 162.6 L270.3 163 L271 164.1 L271.7 163.7 L272.4 163 L273.1 162.9 L273.9 162.5 L274.6 163.3 L275.3 164.8 L276 165.3 L276.7 160.7 L277.4 146.7 L278.1 137.6 L278.8 132.1 L279.6 132.1 L280.3 132.5 L281 133.1 L281.7 134.9 L282.4 136.2 L283.1 135.3 L283.8 132.9 L284.6 130.6 L285.3 125 L286 120.5 L286.7 119.9 L287.4 120.4 L288.1 122.3 L288.8 126.2 L289.5 132 L290.3 142.3 L291 152.2 L291.7 157.3 L292.4 155.6 L293.1 153.9 L293.8 152.1 L294.5 151.6 L295.2 144.8 L296 131.9 L296.7 128.4 L296.7 153 L296 158.8 L295.2 160.4 L294.5 159.9 L293.8 160.8 L293.1 162.2 L292.4 160.8 L291.7 161.5 L291 160 L290.3 150.5 L289.5 145.1 L288.8 142.3 L288.1 138.4 L287.4 136.2 L286.7 135.4 L286 134.3 L285.3 135.9 L284.6 137.5 L283.8 138.7 L283.1 140.1 L282.4 140.7 L281.7 142.4 L281 143.5 L280.3 146.5 L279.6 151 L278.8 153.7 L278.1 154.9 L277.4 167.8 L276.7 166.1 L276 166 L275.3 166.3 L274.6 165.2 L273.9 166 L273.1 166 L272.4 165.5 L271.7 165.8 L271 166 L270.3 164.9 L269.6 164.7 L268.9 164.5 L268.1 164.1 L267.4 163 L266.7 163.1 L266 163.1 L265.3 163.3 L264.6 163.8 L263.9 163.4 L263.2 163.6 L262.4 165.2 L261.7 164.9 L261 165.4 L260.3 165.8 L259.6 166.2 L258.9 167.3 L258.2 167.3 L257.4 165.3 L256.7 164.7 L256 164 L255.3 162.9 L254.6 161.8 L253.9 162.1 L253.2 162.2 L252.5 161.8 L251.7 159.1 L251 159.1 L250.3 159.1 L249.6 158.7 L248.9 158.5 L248.2 158.2 L247.5 160.1 L246.8 160.4 L246 161.2 L245.3 161.5 L244.6 163.6 L243.9 162.7 L243.2 162.8 L242.5 165.1 L241.8 166.4 L241 164.6 L240.3 164 L239.6 164.9 L238.9 165.3 L238.2 165.6 L237.5 165.9 L236.8 167.3 L236.1 167.1 L235.3 165.4 L234.6 166.4 L233.9 165.8 L233.2 166 L232.5 166.1 L231.8 166.3 L231.1 165.6 L230.3 165.6 L229.6 164.5 L228.9 164.6 L228.2 164.4 L227.5 165 L226.8 164.9 L226.1 165.4 L225.4 165.2 L224.6 165.7 L223.9 166.3 L223.2 165.5 L222.5 166.2 L221.8 165.9 L221.1 166.4 L220.4 166.2 L219.6 167.7 L218.9 168.4 L218.2 166.3 L217.5 165 L216.8 164.4 L216.1 164.7 L215.4 164.1 L214.7 163.6 L213.9 162.4 L213.2 162.9 L212.5 162.6 L211.8 163.6 L211.1 163.3 L210.4 164.4 L209.7 164.3 L209 166.4 L208.2 166 L207.5 167.4 L206.8 168.9 L206.1 169.2 L205.4 169.8 L204.7 169.6 L204 169.7 L203.2 169.6 L202.5 169.2 L201.8 168.3 L201.1 167 L200.4 165.8 L199.7 165.2 L199 163.4 L198.3 164.4 L197.5 163.7 L196.8 163 L196.1 162.6 L195.4 163.5 L194.7 164.1 L194 164.5 L193.3 164.4 L192.5 164.6 L191.8 164.9 L191.1 166.1 L190.4 166.4 L189.7 166.6 L189 167.9 L188.3 167.8 L187.6 167.8 L186.8 160.6 L186.1 159.3 L185.4 158.8 L184.7 155.2 L184 151.7 L183.3 147.5 L182.6 146.3 L181.9 145.2 L181.1 144.2 L180.4 143.2 L179.7 141.8 L179 142.2 L178.3 141.8 L177.6 142.7 L176.9 145 L176.1 148.1 L175.4 150.6 L174.7 154.4 L174 156.5 L173.3 161.1 L172.6 163.7 L171.9 162.2 L171.2 159.4 L170.4 158 L169.7 154.2 L169 150.5 L168.3 148.1 L167.6 144.4 L166.9 142.4 L166.2 141.3 L165.4 140.5 L164.7 140.4 L164 139.7 L163.3 140 L162.6 138.6 L161.9 138.3 L161.2 137.3 L160.5 138.7 L159.7 140.7 L159 143 L158.3 145.4 L157.6 149.9 L156.9 151.6 L156.2 156.1 L155.5 155.8 L154.7 156.8 L154 154.6 L153.3 152 L152.6 149.3 L151.9 146.5 L151.2 144.5 L150.5 141.9 L149.8 140.6 L149 139.1 L148.3 140 L147.6 140.2 L146.9 141 L146.2 142.7 L145.5 142.9 L144.8 145.3 L144.1 145.4 L143.3 146.8 L142.6 148.7 L141.9 152.2 L141.2 154.1 L140.5 157.9 L139.8 161 L139.1 161.7 L138.3 161.5 L137.6 163.5 L136.9 160.2 L136.2 159.8 L135.5 157.8 L134.8 155.6 L134.1 153.7 L133.4 151.9 L132.6 151.4 L131.9 151.5 L131.2 150.7 L130.5 149.4 L129.8 149.5 L129.1 149.2 L128.4 148.6 L127.6 147.8 L126.9 147.4 L126.2 147.8 L125.5 147.2 L124.8 148.3 L124.1 149.8 L123.4 151.9 L122.7 153 L121.9 153.8 L121.2 154.3 L120.5 154 L119.8 153.3 L119.1 150.3 L118.4 149.1 L117.7 148.6 L116.9 147 L116.2 145.9 L115.5 144.1 L114.8 143.7 L114.1 143.1 L113.4 142 L112.7 141.8 L112 140.4 L111.2 140.4 L110.5 138.2 L109.8 136.7 L109.1 136.2 L108.4 138.3 L107.7 140.7 L107 144.2 L106.3 147.1 L105.5 147.9 L104.8 161.7 L104.1 163.7 L103.4 162.4 L102.7 165.5 L102 167.8 L101.3 168.1 L100.5 167.4 L99.8 167.3 L99.1 166.6 L98.4 166.1 L97.7 164.3 L97 165.4 L96.3 163.8 L95.6 163.6 L94.8 163.3 L94.1 162.2 L93.4 161.4 L92.7 162.1 L92 162.2 L91.3 161.9 L90.6 161.6 L89.8 163.5 L89.1 163.4 L88.4 164.1 L87.7 164.7 L87 167.2 L86.3 168.8 L85.6 168.1 L84.9 169.2 L84.1 169.3 L83.4 168.4 L82.7 168.7 L82 167.6 L81.3 167 L80.6 166.6 L79.9 166.4 L79.1 166.5 L78.4 165.9 L77.7 166.2 L77 165.5 L76.3 165 L75.6 164.9 L74.9 165.2 L74.2 164.8 L73.4 165.5 L72.7 165.8 L72 165.5 L71.3 165.7 L70.6 166.9 L69.9 167.8 L69.2 167.6 L68.5 167.7 L67.7 167.8 L67 167.9 L66.3 168.4 L65.6 168.2 L64.9 167.7 L64.2 167 L63.5 166.7 L62.7 165 L62 165.1 L61.3 165 L60.6 164.4 L59.9 164 L59.2 163.7 L58.5 163.2 L57.8 162.3 L57 162.4 L56.3 162.9 L55.6 163.6 L54.9 163.6 L54.2 165 L53.5 164.5 L52.8 166.1 L52 167.7 L51.3 167.9 L50.6 167.8 L49.9 168.7 L49.2 169.6 L48.5 167.8 L47.8 167.6 L47.1 167.6 L46.3 166 L45.6 166.5 L44.9 165.9 L44.2 165.6 L43.5 166.2 L42.8 165.5 L42.1 165.7 L41.4 165.4Z" fill="rgb(25,25,240)" fill-opacity="0.12"/><path d="M41.4 163.5 L42.1 164.5 L42.8 163.7 L43.5 165 L44.2 164.8 L44.9 164.2 L45.6 165 L46.3 164.8 L47.1 165.2 L47.8 166.2 L48.5 166.2 L49.2 166.4 L49.9 166.9 L50.6 166.2 L51.3 165.4 L52 164.3 L52.8 163.1 L53.5 162.5 L54.2 160.6 L54.9 159.2 L55.6 160.1 L56.3 159.8 L57 160 L57.8 161 L58.5 162.6 L59.2 162.5 L59.9 162.9 L60.6 162.7 L61.3 163.3 L62 163.4 L62.7 163.2 L63.5 164.9 L64.2 165 L64.9 165.7 L65.6 166.3 L66.3 166.6 L67 167.7 L67.7 166.6 L68.5 165.7 L69.2 165.4 L69.9 164.7 L70.6 163.9 L71.3 163.5 L72 163.5 L72.7 163.5 L73.4 163 L74.2 163.9 L74.9 164 L75.6 164 L76.3 164 L77 163.3 L77.7 164 L78.4 164.3 L79.1 164.1 L79.9 165.7 L80.6 164.8 L81.3 165.9 L82 167.1 L82.7 166.8 L83.4 167.5 L84.1 167.5 L84.9 166.9 L85.6 166.5 L86.3 164.5 L87 162.9 L87.7 161.4 L88.4 161.9 L89.1 160.3 L89.8 160.2 L90.6 160.4 L91.3 160.2 L92 159.8 L92.7 160.2 L93.4 159.8 L94.1 160.6 L94.8 160.4 L95.6 161.3 L96.3 162.3 L97 163.5 L97.7 163.3 L98.4 164 L99.1 165.4 L99.8 165.3 L100.5 165.7 L101.3 165.9 L102 162.6 L102.7 160.9 L103.4 161 L104.1 151.8 L104.8 135.2 L105.5 126.2 L106.3 119.5 L107 115.6 L107.7 115.3 L108.4 119.3 L109.1 122.8 L109.8 123.7 L110.5 124.9 L111.2 127.1 L112 128.2 L112.7 132.1 L113.4 133.2 L114.1 131.7 L114.8 128.9 L115.5 126.8 L116.2 127 L116.9 127.5 L117.7 132.2 L118.4 137.6 L119.1 141.2 L119.8 146.3 L120.5 144.6 L121.2 142.8 L121.9 141.6 L122.7 138.6 L123.4 137.1 L124.1 135.5 L124.8 135.1 L125.5 134.2 L126.2 132.9 L126.9 132.6 L127.6 132.7 L128.4 134.8 L129.1 136.9 L129.8 139.2 L130.5 140 L131.2 139.7 L131.9 139.2 L132.6 139.8 L133.4 139.7 L134.1 139.1 L134.8 139.1 L135.5 139.4 L136.2 144.6 L136.9 151.4 L137.6 157.3 L138.3 153.5 L139.1 147.3 L139.8 143 L140.5 140.7 L141.2 137.9 L141.9 134.9 L142.6 132.3 L143.3 131.7 L144.1 131.2 L144.8 131.7 L145.5 131.6 L146.2 130.9 L146.9 130.5 L147.6 128.6 L148.3 125.9 L149 124 L149.8 123.3 L150.5 122.5 L151.2 122.6 L151.9 126.8 L152.6 132.3 L153.3 142.6 L154 148.8 L154.7 151.4 L155.5 149 L156.2 143.7 L156.9 132.4 L157.6 119.6 L158.3 119.9 L159 119.2 L159.7 122 L160.5 125.8 L161.2 125.8 L161.9 125.3 L162.6 127.1 L163.3 128.6 L164 129 L164.7 128.7 L165.4 128 L166.2 127.2 L166.9 126.6 L167.6 127.1 L168.3 127.4 L169 131 L169.7 138.6 L170.4 147.9 L171.2 153.6 L171.9 156.7 L172.6 153.6 L173.3 144.3 L174 137 L174.7 130.9 L175.4 129.4 L176.1 128 L176.9 126.6 L177.6 127.1 L178.3 127.4 L179 131.5 L179.7 130 L180.4 129.8 L181.1 131.1 L181.9 134.1 L182.6 135.7 L183.3 135.2 L184 135.2 L184.7 135.8 L185.4 136.1 L186.1 145.3 L186.8 155 L187.6 164.2 L188.3 166.2 L189 164.9 L189.7 165.1 L190.4 163.6 L191.1 163.8 L191.8 163.6 L192.5 163.4 L193.3 162.8 L194 162.3 L194.7 161.5 L195.4 161.4 L196.1 161.1 L196.8 160.7 L197.5 161.5 L198.3 160.9 L199 161.4 L199.7 161.9 L200.4 163.5 L201.1 164.9 L201.8 165.7 L202.5 167.8 L203.2 167.7 L204 168.1 L204.7 168.5 L205.4 167 L206.1 166.7 L206.8 165.5 L207.5 163.8 L208.2 162.7 L209 162.2 L209.7 162.5 L210.4 161.7 L211.1 161.4 L211.8 162.2 L212.5 161.6 L213.2 161.8 L213.9 162.3 L214.7 161.7 L215.4 161.6 L216.1 162 L216.8 162.4 L217.5 162.8 L218.2 164.2 L218.9 165.5 L219.6 164 L220.4 163.5 L221.1 164.1 L221.8 163.5 L222.5 164.3 L223.2 164.8 L223.9 164.2 L224.6 163.5 L225.4 163.6 L226.1 163.8 L226.8 162.6 L227.5 162.3 L228.2 162.8 L228.9 163.2 L229.6 163.4 L230.3 163.6 L231.1 164.1 L231.8 164 L232.5 164.6 L233.2 164.3 L233.9 163.9 L234.6 164.2 L235.3 163.8 L236.1 164 L236.8 164 L237.5 163.4 L238.2 162.4 L238.9 162.6 L239.6 162.8 L240.3 163 L241 163.6 L241.8 162.5 L242.5 162.2 L243.2 161.7 L243.9 160.7 L244.6 159.9 L245.3 159.1 L246 158.5 L246.8 158.3 L247.5 157.6 L248.2 156.8 L248.9 156.1 L249.6 155.9 L250.3 155.8 L251 156.3 L251.7 156.5 L252.5 158.2 L253.2 160.2 L253.9 159.4 L254.6 159.7 L255.3 159.7 L256 161.1 L256.7 161.4 L257.4 164.1 L258.2 165.6 L258.9 164.8 L259.6 163.5 L260.3 163.8 L261 162.4 L261.7 162.6 L262.4 161.8 L263.2 161.6 L263.9 161.1 L264.6 160.7 L265.3 160.6 L266 161.1 L266.7 161.6 L267.4 162.3 L268.1 162 L268.9 162.1 L269.6 163 L270.3 162.6 L271 164.1 L271.7 163.5 L272.4 162.4 L273.1 162.7 L273.9 162.6 L274.6 163.4 L275.3 163.7 L276 164.7 L276.7 159.9 L277.4 146.9 L278.1 137.3 L278.8 132.5 L279.6 131.9 L280.3 132.4 L281 133.5 L281.7 134.5 L282.4 136.5 L283.1 135.2 L283.8 133.4 L284.6 131.1 L285.3 125.5 L286 120.4 L286.7 120.5 L287.4 120 L288.1 122.6 L288.8 126.2 L289.5 132.6 L290.3 142.3 L291 152.3 L291.7 157.3 L292.4 156 L293.1 154.1 L293.8 153.5 L294.5 152.1 L295.2 146.5 L296 134.1 L296.7 130.5 L296.7 152.2 L296 160 L295.2 160.6 L294.5 159.4 L293.8 161.3 L293.1 161.4 L292.4 160.8 L291.7 161.5 L291 159.8 L290.3 150.7 L289.5 144.5 L288.8 140.8 L288.1 138.1 L287.4 135.7 L286.7 134.6 L286 133.9 L285.3 135.8 L284.6 137.6 L283.8 137.8 L283.1 139.3 L282.4 139.9 L281.7 141 L281 142.2 L280.3 145.7 L279.6 148.5 L278.8 152.3 L278.1 154.6 L277.4 167.7 L276.7 166.9 L276 166.7 L275.3 165.7 L274.6 165.1 L273.9 165.6 L273.1 165 L272.4 165.5 L271.7 165.5 L271 165.4 L270.3 164.6 L269.6 164 L268.9 163.4 L268.1 163 L267.4 163.3 L266.7 163.4 L266 162.4 L265.3 162.7 L264.6 162.9 L263.9 163.5 L263.2 163 L262.4 164.2 L261.7 163.4 L261 165.1 L260.3 165.4 L259.6 166.4 L258.9 167.6 L258.2 167 L257.4 165.3 L256.7 164 L256 163.7 L255.3 163.1 L254.6 161.6 L253.9 161.2 L253.2 162.1 L252.5 161.6 L251.7 159.2 L251 159.5 L250.3 158.4 L249.6 158.2 L248.9 159.2 L248.2 159.4 L247.5 159.9 L246.8 160.6 L246 160.7 L245.3 161.7 L244.6 162.9 L243.9 163.2 L243.2 163.4 L242.5 163.9 L241.8 165.1 L241 164.9 L240.3 165 L239.6 164.7 L238.9 165 L238.2 164.6 L237.5 165.7 L236.8 166.4 L236.1 166.3 L235.3 165.5 L234.6 165.6 L233.9 165.1 L233.2 165.4 L232.5 165.9 L231.8 166.7 L231.1 165.3 L230.3 164.9 L229.6 165.2 L228.9 164.4 L228.2 165.3 L227.5 165.4 L226.8 164.5 L226.1 164.8 L225.4 165.3 L224.6 165.5 L223.9 166.6 L223.2 166 L222.5 165.6 L221.8 165.8 L221.1 165.5 L220.4 166.7 L219.6 167.7 L218.9 167.6 L218.2 165.3 L217.5 165.1 L216.8 164.9 L216.1 165.1 L215.4 163.5 L214.7 163.3 L213.9 163.1 L213.2 163.1 L212.5 163.2 L211.8 164.1 L211.1 163.4 L210.4 164.3 L209.7 164.9 L209 165.3 L208.2 166.5 L207.5 167.3 L206.8 168.6 L206.1 169.8 L205.4 169.6 L204.7 170.4 L204 169.3 L203.2 168.8 L202.5 170.1 L201.8 168.5 L201.1 167.5 L200.4 165.6 L199.7 164.5 L199 163.9 L198.3 163.3 L197.5 163.5 L196.8 163 L196.1 163.2 L195.4 162.7 L194.7 164.2 L194 162.9 L193.3 164.5 L192.5 164.6 L191.8 165.5 L191.1 165.8 L190.4 165.8 L189.7 166.6 L189 166.6 L188.3 166.8 L187.6 168 L186.8 160.2 L186.1 158.1 L185.4 156.7 L184.7 153.2 L184 150.1 L183.3 145.6 L182.6 143.7 L181.9 143.6 L181.1 142.4 L180.4 141.6 L179.7 141.3 L179 140.8 L178.3 140.9 L177.6 141.3 L176.9 143 L176.1 146 L175.4 149.1 L174.7 152.9 L174 155.1 L173.3 160.9 L172.6 163.6 L171.9 161.1 L171.2 158.8 L170.4 156.1 L169.7 151.6 L169 148.8 L168.3 146 L167.6 143.2 L166.9 140.1 L166.2 138.6 L165.4 138.3 L164.7 137.9 L164 138.4 L163.3 138 L162.6 137.2 L161.9 136.3 L161.2 136.4 L160.5 136.8 L159.7 138.4 L159 141.3 L158.3 144.4 L157.6 147.3 L156.9 150.1 L156.2 155.5 L155.5 156.1 L154.7 156 L154 153.8 L153.3 151 L152.6 148 L151.9 145.2 L151.2 141.2 L150.5 140 L149.8 138.5 L149 137.6 L148.3 137.8 L147.6 138.9 L146.9 139.3 L146.2 140.6 L145.5 141.5 L144.8 142.7 L144.1 143.5 L143.3 144.9 L142.6 148.7 L141.9 149.8 L141.2 152.3 L140.5 156.3 L139.8 158.3 L139.1 159.9 L138.3 162 L137.6 163 L136.9 159.3 L136.2 158.7 L135.5 156.6 L134.8 154.3 L134.1 151.4 L133.4 150.4 L132.6 148.5 L131.9 149.7 L131.2 148.2 L130.5 147.9 L129.8 147 L129.1 147 L128.4 146.3 L127.6 145.7 L126.9 144.9 L126.2 146.1 L125.5 146.4 L124.8 147.5 L124.1 148.5 L123.4 148.7 L122.7 151.2 L121.9 151.6 L121.2 151.9 L120.5 152.1 L119.8 150.6 L119.1 149.2 L118.4 146.9 L117.7 146.9 L116.9 144.8 L116.2 143.6 L115.5 143.2 L114.8 141.8 L114.1 140.7 L113.4 141 L112.7 140.9 L112 139.6 L111.2 138.2 L110.5 135.6 L109.8 134.7 L109.1 133.8 L108.4 135.6 L107.7 139 L107 143.5 L106.3 145.4 L105.5 146.5 L104.8 161 L104.1 163.6 L103.4 162.6 L102.7 165.6 L102 167.6 L101.3 168.3 L100.5 167.6 L99.8 167.6 L99.1 166.2 L98.4 165.9 L97.7 164.9 L97 165.2 L96.3 164.3 L95.6 164 L94.8 162.8 L94.1 162 L93.4 162 L92.7 161 L92 161.7 L91.3 161.5 L90.6 162.2 L89.8 162.8 L89.1 163.7 L88.4 164.4 L87.7 165.7 L87 166.9 L86.3 168.4 L85.6 168.9 L84.9 170 L84.1 169.5 L83.4 168.8 L82.7 168.7 L82 167.7 L81.3 167.8 L80.6 166.5 L79.9 166.5 L79.1 165.3 L78.4 165.2 L77.7 165.5 L77 165.1 L76.3 165.6 L75.6 165.2 L74.9 164.8 L74.2 165.5 L73.4 164.2 L72.7 166 L72 166.1 L71.3 165.8 L70.6 166.6 L69.9 167.3 L69.2 169 L68.5 167.5 L67.7 168.6 L67 168.8 L66.3 169 L65.6 167.8 L64.9 166.7 L64.2 166.4 L63.5 166.5 L62.7 166.4 L62 165.3 L61.3 164.6 L60.6 163.9 L59.9 163.6 L59.2 164 L58.5 163.7 L57.8 162.5 L57 162.7 L56.3 162.3 L55.6 162.9 L54.9 162.5 L54.2 164 L53.5 165.3 L52.8 166.6 L52 167.6 L51.3 168 L50.6 168.6 L49.9 169.2 L49.2 168.5 L48.5 168.1 L47.8 167 L47.1 166.7 L46.3 166.6 L45.6 166.6 L44.9 166.1 L44.2 166.7 L43.5 165.6 L42.8 165.7 L42.1 164.9 L41.4 165.3Z" fill="rgb(25,25,240)" fill-opacity="0.12"/><path d="M41.4 163.1 L42.1 163.7 L42.8 163.1 L43.5 165.1 L44.2 164.8 L44.9 164.9 L45.6 164.5 L46.3 164.8 L47.1 165.3 L47.8 165.8 L48.5 166.2 L49.2 167.1 L49.9 166.8 L50.6 166.1 L51.3 165.2 L52 164.1 L52.8 162.9 L53.5 161.8 L54.2 161 L54.9 160.3 L55.6 160.4 L56.3 159.5 L57 160.6 L57.8 161.4 L58.5 162 L59.2 163 L59.9 162.7 L60.6 163.1 L61.3 163.1 L62 163.5 L62.7 163.3 L63.5 165 L64.2 165.3 L64.9 165.7 L65.6 166.1 L66.3 166.9 L67 166.3 L67.7 166.6 L68.5 166.1 L69.2 165.5 L69.9 165.3 L70.6 163.8 L71.3 163.9 L72 163.3 L72.7 163.5 L73.4 163.7 L74.2 164 L74.9 163.9 L75.6 164.1 L76.3 164.1 L77 163.8 L77.7 163.6 L78.4 164.3 L79.1 164.5 L79.9 164.4 L80.6 165.2 L81.3 165.7 L82 166 L82.7 166.7 L83.4 166.8 L84.1 167 L84.9 166.6 L85.6 166.8 L86.3 165.3 L87 162.6 L87.7 161.5 L88.4 160.9 L89.1 160.9 L89.8 160.7 L90.6 159.8 L91.3 160.5 L92 159.5 L92.7 159.5 L93.4 159.8 L94.1 160 L94.8 161.5 L95.6 161.7 L96.3 162.1 L97 163 L97.7 164.3 L98.4 164.2 L99.1 164.9 L99.8 165.6 L100.5 165.7 L101.3 166.6 L102 162.3 L102.7 161.2 L103.4 161.1 L104.1 151.6 L104.8 134.9 L105.5 126 L106.3 119.2 L107 115.5 L107.7 116.1 L108.4 119.5 L109.1 123.3 L109.8 123.3 L110.5 125 L111.2 127.7 L112 127.7 L112.7 131.7 L113.4 133.9 L114.1 131.4 L114.8 129 L115.5 127.2 L116.2 127.2 L116.9 127.3 L117.7 132.4 L118.4 137.5 L119.1 142.5 L119.8 145.3 L120.5 145.2 L121.2 143.3 L121.9 141.8 L122.7 139 L123.4 136.7 L124.1 135.5 L124.8 135 L125.5 133.8 L126.2 132.6 L126.9 132.6 L127.6 132.9 L128.4 135.4 L129.1 137.6 L129.8 139.7 L130.5 140.4 L131.2 139.7 L131.9 139.7 L132.6 140.3 L133.4 139.2 L134.1 138.9 L134.8 139.5 L135.5 139 L136.2 143.9 L136.9 151.6 L137.6 157.8 L138.3 153.6 L139.1 147.8 L139.8 143.8 L140.5 140.9 L141.2 138.4 L141.9 135.3 L142.6 132.2 L143.3 132 L144.1 132 L144.8 132.1 L145.5 132.2 L146.2 131 L146.9 130.5 L147.6 128.7 L148.3 126.5 L149 124.5 L149.8 122.5 L150.5 122.5 L151.2 121.9 L151.9 127.2 L152.6 132.5 L153.3 141.9 L154 149.5 L154.7 151.7 L155.5 149.5 L156.2 143.9 L156.9 132.6 L157.6 120.6 L158.3 119.7 L159 119.7 L159.7 122.3 L160.5 125.4 L161.2 125.4 L161.9 125.3 L162.6 127.5 L163.3 129.1 L164 129.2 L164.7 128.6 L165.4 128.2 L166.2 126.7 L166.9 126.5 L167.6 127.3 L168.3 127.5 L169 131.1 L169.7 138.6 L170.4 148.1 L171.2 153.8 L171.9 157.1 L172.6 153.7 L173.3 144.6 L174 136.2 L174.7 130.6 L175.4 130.2 L176.1 128.5 L176.9 127.3 L177.6 127 L178.3 126.6 L179 130.8 L179.7 130.3 L180.4 130.1 L181.1 131.1 L181.9 134 L182.6 135.6 L183.3 135.9 L184 135.3 L184.7 135.4 L185.4 136.4 L186.1 145.2 L186.8 154.3 L187.6 164 L188.3 165.6 L189 165.1 L189.7 163.8 L190.4 163.5 L191.1 163.7 L191.8 163.3 L192.5 162.4 L193.3 162.2 L194 162.5 L194.7 162.2 L195.4 161.7 L196.1 161.4 L196.8 160.7 L197.5 159.9 L198.3 161 L199 161.9 L199.7 161.9 L200.4 163.8 L201.1 164.7 L201.8 166.2 L202.5 167.2 L203.2 168.2 L204 168.4 L204.7 168 L205.4 167.6 L206.1 166.2 L206.8 165.5 L207.5 163.7 L208.2 162.7 L209 162.7 L209.7 163 L210.4 161.7 L211.1 162 L211.8 161.8 L212.5 162 L213.2 162.3 L213.9 162 L214.7 161.7 L215.4 161.5 L216.1 161.9 L216.8 163 L217.5 163.2 L218.2 164.1 L218.9 164.9 L219.6 164.6 L220.4 163.9 L221.1 163.8 L221.8 164.1 L222.5 163.7 L223.2 164.8 L223.9 164.4 L224.6 164.2 L225.4 163.5 L226.1 163.7 L226.8 163 L227.5 163.4 L228.2 162.7 L228.9 162.9 L229.6 162.9 L230.3 163.7 L231.1 163.7 L231.8 164.7 L232.5 164.4 L233.2 163.8 L233.9 163.6 L234.6 164.1 L235.3 164.1 L236.1 164.5 L236.8 164 L237.5 163.6 L238.2 162.6 L238.9 163.4 L239.6 162.6 L240.3 162.9 L241 163.2 L241.8 162.7 L242.5 161.8 L243.2 160.9 L243.9 160.9 L244.6 160 L245.3 158.9 L246 158.5 L246.8 157.9 L247.5 157.5 L248.2 156.8 L248.9 156.5 L249.6 155.8 L250.3 155.7 L251 156.2 L251.7 156.8 L252.5 158.8 L253.2 160.2 L253.9 160 L254.6 160 L255.3 160.6 L256 161.6 L256.7 162.3 L257.4 163.7 L258.2 164.9 L258.9 165 L259.6 163.6 L260.3 163.1 L261 162.8 L261.7 162.9 L262.4 161.8 L263.2 161.1 L263.9 160.3 L264.6 161.4 L265.3 161.8 L266 160.6 L266.7 161.7 L267.4 162.1 L268.1 162 L268.9 162.6 L269.6 162.3 L270.3 163 L271 164.4 L271.7 163.9 L272.4 163 L273.1 162.9 L273.9 162.8 L274.6 163.5 L275.3 164 L276 165.3 L276.7 159.7 L277.4 147 L278.1 137.5 L278.8 132.7 L279.6 132.5 L280.3 132.9 L281 133 L281.7 135 L282.4 136.6 L283.1 135.6 L283.8 133.3 L284.6 131 L285.3 125 L286 120.3 L286.7 121 L287.4 120.4 L288.1 122.3 L288.8 125.6 L289.5 132 L290.3 142.7 L291 152.5 L291.7 157.5 L292.4 156.7 L293.1 154.9 L293.8 154 L294.5 154 L295.2 148.2 L296 135.4 L296.7 131.9 L296.7 151.8 L296 159.5 L295.2 160.7 L294.5 158.3 L293.8 160.4 L293.1 160.8 L292.4 160.5 L291.7 161.9 L291 158.2 L290.3 150.2 L289.5 143.3 L288.8 140 L288.1 137.1 L287.4 133.6 L286.7 133.1 L286 133.6 L285.3 134.6 L284.6 136.9 L283.8 137.9 L283.1 139.6 L282.4 139.6 L281.7 139.3 L281 141.9 L280.3 145.1 L279.6 148 L278.8 152.4 L278.1 155.5 L277.4 168.1 L276.7 166.4 L276 166.6 L275.3 166 L274.6 165.6 L273.9 165.5 L273.1 164.9 L272.4 166.4 L271.7 166 L271 165.3 L270.3 164.6 L269.6 162.7 L268.9 163.7 L268.1 164.3 L267.4 162.9 L266.7 163.4 L266 162.9 L265.3 162.8 L264.6 163 L263.9 163.2 L263.2 164.1 L262.4 163.8 L261.7 165.1 L261 165 L260.3 166.5 L259.6 166 L258.9 167.9 L258.2 167.2 L257.4 165.9 L256.7 164 L256 163.9 L255.3 162.9 L254.6 160.8 L253.9 161.4 L253.2 162.2 L252.5 161.5 L251.7 159.5 L251 159.3 L250.3 158.8 L249.6 158.6 L248.9 158.4 L248.2 158.3 L247.5 159.4 L246.8 160 L246 161.3 L245.3 161 L244.6 162.3 L243.9 162.9 L243.2 163.5 L242.5 164.6 L241.8 165.7 L241 165 L240.3 165.7 L239.6 165.1 L238.9 165.1 L238.2 165 L237.5 166.7 L236.8 167.3 L236.1 166.2 L235.3 165.5 L234.6 165.9 L233.9 165.1 L233.2 165.2 L232.5 166.3 L231.8 166 L231.1 165.4 L230.3 165.6 L229.6 164.7 L228.9 164.4 L228.2 164.6 L227.5 164.2 L226.8 164.6 L226.1 165.2 L225.4 165.9 L224.6 166 L223.9 165.6 L223.2 165.9 L222.5 165.6 L221.8 166.5 L221.1 166.2 L220.4 166.5 L219.6 168.1 L218.9 167.3 L218.2 166.8 L217.5 164.6 L216.8 164.2 L216.1 164.1 L215.4 163.1 L214.7 162.8 L213.9 163.2 L213.2 163.7 L212.5 163.9 L211.8 163.4 L211.1 164.2 L210.4 163.3 L209.7 165 L209 164.8 L208.2 167.1 L207.5 167.2 L206.8 168.7 L206.1 169.5 L205.4 170.4 L204.7 170.5 L204 169.3 L203.2 168.9 L202.5 169.2 L201.8 167.8 L201.1 166.8 L200.4 165.3 L199.7 165.2 L199 163.7 L198.3 163.6 L197.5 162.7 L196.8 162.3 L196.1 162.3 L195.4 164.2 L194.7 164.1 L194 164 L193.3 164.5 L192.5 165.1 L191.8 165.2 L191.1 164.9 L190.4 166.5 L189.7 168 L189 167.5 L188.3 168.2 L187.6 168.8 L186.8 160.3 L186.1 156.3 L185.4 154.3 L184.7 150 L184 146.8 L183.3 143.7 L182.6 142.6 L181.9 141.9 L181.1 140.7 L180.4 139.7 L179.7 138.6 L179 139 L178.3 137.5 L177.6 138.8 L176.9 141.4 L176.1 144.5 L175.4 147.2 L174.7 150.6 L174 153 L173.3 161.4 L172.6 163.7 L171.9 161.4 L171.2 158.6 L170.4 154.7 L169.7 150.1 L169 147.3 L168.3 143.9 L167.6 140.9 L166.9 138.6 L166.2 137.5 L165.4 136.1 L164.7 136.4 L164 135.5 L163.3 136.4 L162.6 134.7 L161.9 133.6 L161.2 133.8 L160.5 133.4 L159.7 136.9 L159 138.8 L158.3 141.6 L157.6 144.9 L156.9 149.8 L156.2 154.9 L155.5 155 L154.7 156.1 L154 153.2 L153.3 148.7 L152.6 145.5 L151.9 142 L151.2 140.6 L150.5 138.1 L149.8 136.4 L149 135.7 L148.3 135.9 L147.6 137.2 L146.9 138.1 L146.2 138 L145.5 139.6 L144.8 140.7 L144.1 141.7 L143.3 143.4 L142.6 145.7 L141.9 148 L141.2 151 L140.5 153.9 L139.8 157 L139.1 159.5 L138.3 160.5 L137.6 162.3 L136.9 156.9 L136.2 155.8 L135.5 153.5 L134.8 151.4 L134.1 149.4 L133.4 148 L132.6 147.2 L131.9 147.3 L131.2 145.6 L130.5 146.2 L129.8 145.6 L129.1 145.3 L128.4 144.5 L127.6 143.6 L126.9 143.9 L126.2 143.4 L125.5 144.4 L124.8 145.5 L124.1 146.5 L123.4 148.1 L122.7 149.5 L121.9 149.8 L121.2 150.3 L120.5 149.2 L119.8 149.8 L119.1 146.5 L118.4 145.7 L117.7 143.7 L116.9 142.8 L116.2 141.8 L115.5 140.7 L114.8 139.4 L114.1 138.7 L113.4 140.8 L112.7 138.6 L112 137.8 L111.2 136.6 L110.5 134.6 L109.8 132.1 L109.1 131.9 L108.4 134.7 L107.7 136.4 L107 141 L106.3 143.4 L105.5 146.6 L104.8 161.6 L104.1 163.4 L103.4 161.8 L102.7 166.3 L102 167.7 L101.3 168.6 L100.5 167.5 L99.8 166.8 L99.1 165.9 L98.4 166.2 L97.7 165.9 L97 164.8 L96.3 164.1 L95.6 163.6 L94.8 162.3 L94.1 162.6 L93.4 162 L92.7 161.8 L92 160.8 L91.3 162 L90.6 161.9 L89.8 163 L89.1 163.5 L88.4 164.5 L87.7 165.8 L87 167.1 L86.3 168.7 L85.6 168.6 L84.9 169 L84.1 168.7 L83.4 169 L82.7 168.2 L82 168.6 L81.3 167.6 L80.6 166.1 L79.9 166.5 L79.1 165.5 L78.4 165.3 L77.7 165.3 L77 165.8 L76.3 165.1 L75.6 165.6 L74.9 165.9 L74.2 165.5 L73.4 165.1 L72.7 165.5 L72 164.6 L71.3 166.4 L70.6 165.9 L69.9 167.2 L69.2 166.9 L68.5 168.5 L67.7 168.3 L67 169.2 L66.3 168 L65.6 168.2 L64.9 167.5 L64.2 167.2 L63.5 166.4 L62.7 164.9 L62 165.5 L61.3 164.5 L60.6 165.4 L59.9 163.7 L59.2 164 L58.5 163.8 L57.8 163.4 L57 161.5 L56.3 162.7 L55.6 162.2 L54.9 163 L54.2 164.1 L53.5 165 L52.8 166.6 L52 168 L51.3 167.4 L50.6 168.5 L49.9 168.9 L49.2 168.3 L48.5 167.2 L47.8 167.2 L47.1 167 L46.3 166.8 L45.6 166 L44.9 166.7 L44.2 166.5 L43.5 166.6 L42.8 165.9 L42.1 165.4 L41.4 164.6Z" fill="rgb(25,25,240)" fill-opacity="0.12"/><path d="M41.4 164 L42.1 163.4 L42.8 164 L43.5 164.9 L44.2 165.2 L44.9 164.3 L45.6 164.7 L46.3 165.1 L47.1 165 L47.8 166.1 L48.5 166.3 L49.2 166.8 L49.9 166.8 L50.6 165.9 L51.3 165.1 L52 163.7 L52.8 162.9 L53.5 162.3 L54.2 161 L54.9 160.1 L55.6 158.9 L56.3 159.3 L57 159.4 L57.8 160.8 L58.5 161.8 L59.2 162.2 L59.9 162.8 L60.6 162.8 L61.3 162.8 L62 163.7 L62.7 163.7 L63.5 164.4 L64.2 165.4 L64.9 165.5 L65.6 166.2 L66.3 167.1 L67 166.8 L67.7 166.2 L68.5 165.4 L69.2 165.1 L69.9 165.6 L70.6 163.9 L71.3 163.5 L72 163.4 L72.7 163.4 L73.4 163.2 L74.2 163.8 L74.9 163.9 L75.6 163.6 L76.3 164.3 L77 163.6 L77.7 164.1 L78.4 163.7 L79.1 164 L79.9 164.5 L80.6 165.8 L81.3 166.2 L82 166.7 L82.7 166.8 L83.4 166.7 L84.1 167.4 L84.9 167.4 L85.6 166 L86.3 164.2 L87 163.7 L87.7 161.5 L88.4 161.3 L89.1 161 L89.8 160.4 L90.6 160.1 L91.3 160.2 L92 159.5 L92.7 159.6 L93.4 160 L94.1 160.1 L94.8 161 L95.6 161.7 L96.3 162.4 L97 163.3 L97.7 163.3 L98.4 164.6 L99.1 164.6 L99.8 165 L100.5 165.5 L101.3 166.5 L102 162.2 L102.7 160.9 L103.4 160.6 L104.1 152.2 L104.8 135.6 L105.5 125.7 L106.3 119.8 L107 115.6 L107.7 116.4 L108.4 120 L109.1 124.2 L109.8 123.9 L110.5 125.8 L111.2 127.1 L112 128.2 L112.7 132.5 L113.4 134.2 L114.1 131.3 L114.8 129.3 L115.5 127.2 L116.2 127.7 L116.9 127.2 L117.7 132.2 L118.4 137.8 L119.1 142.4 L119.8 145.5 L120.5 144.9 L121.2 144.3 L121.9 141.5 L122.7 138.8 L123.4 138.1 L124.1 136.1 L124.8 135 L125.5 133.8 L126.2 133.1 L126.9 133 L127.6 133.3 L128.4 135.7 L129.1 137.2 L129.8 139.5 L130.5 140.1 L131.2 140 L131.9 139.4 L132.6 139.6 L133.4 140.1 L134.1 139.6 L134.8 140.4 L135.5 139.4 L136.2 144.9 L136.9 152.2 L137.6 158.3 L138.3 154 L139.1 148.1 L139.8 143.9 L140.5 140.8 L141.2 138.5 L141.9 135 L142.6 132.8 L143.3 131.9 L144.1 132.1 L144.8 132.1 L145.5 132.6 L146.2 131.5 L146.9 130.4 L147.6 129.1 L148.3 126.3 L149 124.6 L149.8 123.5 L150.5 122.8 L151.2 122.8 L151.9 128.1 L152.6 133.2 L153.3 143 L154 149.8 L154.7 151.7 L155.5 149.6 L156.2 143.6 L156.9 132.1 L157.6 120.5 L158.3 120.6 L159 120.5 L159.7 122.1 L160.5 125.9 L161.2 126 L161.9 126.4 L162.6 127.2 L163.3 129.8 L164 129.4 L164.7 129 L165.4 127.7 L166.2 127.7 L166.9 127.4 L167.6 126.9 L168.3 127.9 L169 131.2 L169.7 138.9 L170.4 148.8 L171.2 153 L171.9 157.3 L172.6 153.7 L173.3 144.3 L174 137 L174.7 131.1 L175.4 130 L176.1 128.7 L176.9 127 L177.6 127 L178.3 127.2 L179 131.5 L179.7 130.5 L180.4 131.1 L181.1 131.2 L181.9 134.3 L182.6 135.7 L183.3 135.7 L184 136 L184.7 136.1 L185.4 136.2 L186.1 145.3 L186.8 154.4 L187.6 163.7 L188.3 165.8 L189 164.6 L189.7 164.1 L190.4 163.8 L191.1 163.9 L191.8 163.8 L192.5 163.2 L193.3 163 L194 162.5 L194.7 162 L195.4 161.3 L196.1 160.3 L196.8 160.5 L197.5 160.2 L198.3 161 L199 161.1 L199.7 161.1 L200.4 163.2 L201.1 164.7 L201.8 166.3 L202.5 167.3 L203.2 167.9 L204 168.4 L204.7 168.1 L205.4 167.5 L206.1 166.8 L206.8 165.2 L207.5 164.1 L208.2 162.9 L209 163 L209.7 162.4 L210.4 161.4 L211.1 161.8 L211.8 161.8 L212.5 162.1 L213.2 161.9 L213.9 162 L214.7 161.5 L215.4 161.8 L216.1 162.1 L216.8 162.2 L217.5 162.7 L218.2 164.3 L218.9 164.7 L219.6 164.1 L220.4 164 L221.1 163.7 L221.8 163.7 L222.5 164 L223.2 164.5 L223.9 164.5 L224.6 164.3 L225.4 163.2 L226.1 163.1 L226.8 163 L227.5 162.6 L228.2 162.7 L228.9 162.9 L229.6 163.2 L230.3 163 L231.1 163.8 L231.8 164.4 L232.5 164.2 L233.2 163.6 L233.9 164.4 L234.6 163.8 L235.3 163.8 L236.1 164.5 L236.8 164 L237.5 163.8 L238.2 163 L238.9 162.5 L239.6 163 L240.3 163.5 L241 163.4 L241.8 163 L242.5 161.9 L243.2 161.7 L243.9 160.1 L244.6 160.2 L245.3 159 L246 158.4 L246.8 157.8 L247.5 157.1 L248.2 157.1 L248.9 155.8 L249.6 155.8 L250.3 156 L251 155.5 L251.7 156.9 L252.5 158.5 L253.2 160.2 L253.9 159.8 L254.6 160.5 L255.3 160.3 L256 161.1 L256.7 162 L257.4 163.4 L258.2 164.9 L258.9 164.9 L259.6 163.5 L260.3 162.9 L261 163.3 L261.7 162.8 L262.4 162.4 L263.2 161.7 L263.9 161.1 L264.6 160.8 L265.3 161.2 L266 162.1 L266.7 161.1 L267.4 162 L268.1 161.6 L268.9 162 L269.6 162.1 L270.3 163 L271 164 L271.7 163.6 L272.4 162.7 L273.1 163.2 L273.9 162.4 L274.6 163.2 L275.3 164.9 L276 165.1 L276.7 160 L277.4 147.1 L278.1 137.9 L278.8 132.8 L279.6 132.9 L280.3 132.6 L281 133.2 L281.7 135.2 L282.4 136.8 L283.1 135.3 L283.8 133.6 L284.6 131.7 L285.3 125 L286 120.6 L286.7 120.4 L287.4 120.8 L288.1 123.1 L288.8 126.1 L289.5 132.2 L290.3 142.5 L291 153.1 L291.7 157.4 L292.4 157.2 L293.1 156.1 L293.8 155 L294.5 154.6 L295.2 149.7 L296 137.5 L296.7 134.3 L296.7 150.5 L296 159.3 L295.2 160.2 L294.5 159.6 L293.8 158 L293.1 159.2 L292.4 160.4 L291.7 161.4 L291 159.1 L290.3 149.7 L289.5 141.9 L288.8 138.6 L288.1 135.7 L287.4 133.7 L286.7 131.9 L286 131.8 L285.3 135.2 L284.6 135.9 L283.8 137.9 L283.1 139.9 L282.4 140.2 L281.7 138.9 L281 140.1 L280.3 144.1 L279.6 147 L278.8 150.2 L278.1 156 L277.4 168.3 L276.7 167.3 L276 167.3 L275.3 166.7 L274.6 165.2 L273.9 165.6 L273.1 165.1 L272.4 165.4 L271.7 166.5 L271 165.2 L270.3 164.3 L269.6 163.7 L268.9 163.6 L268.1 163.1 L267.4 163.2 L266.7 163.4 L266 162.7 L265.3 163 L264.6 162.5 L263.9 163 L263.2 164.2 L262.4 164.6 L261.7 164.1 L261 165.5 L260.3 166 L259.6 167.5 L258.9 168.5 L258.2 167.4 L257.4 166.2 L256.7 164.1 L256 163 L255.3 162 L254.6 161.7 L253.9 161.6 L253.2 161.9 L252.5 161.6 L251.7 158.9 L251 158.8 L250.3 158.5 L249.6 157.7 L248.9 158.5 L248.2 159.6 L247.5 159.8 L246.8 160.2 L246 161 L245.3 161.9 L244.6 162.2 L243.9 162.9 L243.2 163.9 L242.5 164.3 L241.8 165.5 L241 164.8 L240.3 165.2 L239.6 164.3 L238.9 163.9 L238.2 166.1 L237.5 166.5 L236.8 167.4 L236.1 166.4 L235.3 165.8 L234.6 166 L233.9 165.7 L233.2 165.4 L232.5 164.8 L231.8 165 L231.1 165.7 L230.3 165.5 L229.6 164.7 L228.9 164.8 L228.2 163.3 L227.5 164.8 L226.8 164.5 L226.1 164.6 L225.4 166 L224.6 165.6 L223.9 166.7 L223.2 165.6 L222.5 166.2 L221.8 165.9 L221.1 166.2 L220.4 165.2 L219.6 167 L218.9 168.1 L218.2 166.5 L217.5 165.1 L216.8 164.5 L216.1 164 L215.4 163.1 L214.7 163.1 L213.9 162.7 L213.2 163.2 L212.5 162.7 L211.8 163.1 L211.1 163.7 L210.4 164.1 L209.7 164.8 L209 164.5 L208.2 166.2 L207.5 167.6 L206.8 168.1 L206.1 169.6 L205.4 169.8 L204.7 170.1 L204 169.5 L203.2 169.1 L202.5 169.1 L201.8 168.3 L201.1 166.8 L200.4 164.9 L199.7 163.9 L199 163.6 L198.3 162.6 L197.5 162.9 L196.8 162.3 L196.1 163.5 L195.4 163.2 L194.7 163.7 L194 164.5 L193.3 165.5 L192.5 164.7 L191.8 165.3 L191.1 165.4 L190.4 166.2 L189.7 166.7 L189 166.8 L188.3 167.6 L187.6 168 L186.8 161.5 L186.1 155.9 L185.4 151.9 L184.7 148.3 L184 144.2 L183.3 141.1 L182.6 139.6 L181.9 139.3 L181.1 138.5 L180.4 137.1 L179.7 137.4 L179 135.4 L178.3 136 L177.6 136.7 L176.9 139.3 L176.1 141.1 L175.4 144.9 L174.7 148.1 L174 151.1 L173.3 161.5 L172.6 163.4 L171.9 161.6 L171.2 158.7 L170.4 153.4 L169.7 147.6 L169 144.8 L168.3 141.3 L167.6 138.5 L166.9 135.2 L166.2 135.1 L165.4 135.9 L164.7 133.7 L164 134.1 L163.3 133.9 L162.6 132.9 L161.9 131.5 L161.2 130.8 L160.5 132.8 L159.7 134.4 L159 136.7 L158.3 140.6 L157.6 142.6 L156.9 149.5 L156.2 154.6 L155.5 155.7 L154.7 155.6 L154 153.3 L153.3 149.3 L152.6 143 L151.9 140.4 L151.2 137.6 L150.5 135.1 L149.8 133.7 L149 133.7 L148.3 133.5 L147.6 134.3 L146.9 135 L146.2 136.2 L145.5 137.1 L144.8 138.7 L144.1 138.4 L143.3 141 L142.6 143.5 L141.9 146.4 L141.2 148.4 L140.5 152.2 L139.8 154.6 L139.1 158.7 L138.3 160.8 L137.6 163 L136.9 157.3 L136.2 153.6 L135.5 151.9 L134.8 149.2 L134.1 147.7 L133.4 145.7 L132.6 144.8 L131.9 144.9 L131.2 144.7 L130.5 143.4 L129.8 143.1 L129.1 142.3 L128.4 141.9 L127.6 141.6 L126.9 141.5 L126.2 141.6 L125.5 141.8 L124.8 142 L124.1 143.3 L123.4 145.3 L122.7 147.1 L121.9 147.9 L121.2 148.2 L120.5 148.4 L119.8 150.2 L119.1 146.5 L118.4 142.9 L117.7 142.1 L116.9 140.7 L116.2 139.5 L115.5 138.8 L114.8 137.1 L114.1 138.1 L113.4 140.1 L112.7 136.2 L112 135.1 L111.2 134.4 L110.5 132 L109.8 130 L109.1 129.4 L108.4 130.6 L107.7 134.7 L107 139.1 L106.3 141.9 L105.5 145.2 L104.8 161.3 L104.1 163.1 L103.4 162.8 L102.7 166.2 L102 168.1 L101.3 167.8 L100.5 167.4 L99.8 167.4 L99.1 166 L98.4 166.2 L97.7 165.3 L97 165.2 L96.3 164 L95.6 163.5 L94.8 162.1 L94.1 161.9 L93.4 161.1 L92.7 160.9 L92 160.6 L91.3 161.1 L90.6 162.3 L89.8 162.8 L89.1 163.1 L88.4 163.7 L87.7 165.1 L87 166.3 L86.3 168.2 L85.6 168.2 L84.9 168.8 L84.1 169.2 L83.4 168.8 L82.7 167.9 L82 168.4 L81.3 167.2 L80.6 166.5 L79.9 165.8 L79.1 165.8 L78.4 165 L77.7 165.5 L77 165.8 L76.3 165.8 L75.6 165.3 L74.9 165.6 L74.2 164.4 L73.4 164.8 L72.7 165.6 L72 165.7 L71.3 166.2 L70.6 166.2 L69.9 167.7 L69.2 168.1 L68.5 168.7 L67.7 168.8 L67 168.7 L66.3 167.8 L65.6 167.9 L64.9 167.6 L64.2 167.6 L63.5 166.2 L62.7 165.8 L62 164.7 L61.3 164.9 L60.6 164.7 L59.9 163.8 L59.2 164 L58.5 163.7 L57.8 163 L57 161.9 L56.3 162.9 L55.6 163.3 L54.9 162.6 L54.2 163.8 L53.5 165.1 L52.8 166.4 L52 168.2 L51.3 167.5 L50.6 168.7 L49.9 168.8 L49.2 168.3 L48.5 167.5 L47.8 167.4 L47.1 167.4 L46.3 167.2 L45.6 166.6 L44.9 166.4 L44.2 166.1 L43.5 166.2 L42.8 165 L42.1 165.6 L41.4 164.6Z" fill="rgb(25,25,240)" fill-opacity="0.11"/></g></g>
<g clip-path="url(#cL2)"><g filter="url(#bl5)"><path d="M41.4 255.5 L42.1 255.9 L42.8 257.1 L43.5 257.3 L44.2 256.1 L44.9 257.2 L45.6 256.6 L46.3 258 L47.1 257.6 L47.8 258.9 L48.5 259.7 L49.2 259 L49.9 258.2 L50.6 258.8 L51.3 257.3 L52 256.5 L52.8 255.7 L53.5 254.3 L54.2 252.6 L54.9 251.6 L55.6 252.4 L56.3 253.7 L57 254.5 L57.8 253.9 L58.5 255.9 L59.2 255.6 L59.9 254.6 L60.6 256 L61.3 256.9 L62 257 L62.7 256.5 L63.5 258.7 L64.2 257.9 L64.9 257.8 L65.6 258.9 L66.3 259.2 L67 258.6 L67.7 259.4 L68.5 257.8 L69.2 256.8 L69.9 256.5 L70.6 256.3 L71.3 255.3 L72 255.9 L72.7 255.7 L73.4 255.8 L74.2 256.3 L74.9 255.9 L75.6 255.5 L76.3 256.6 L77 256.1 L77.7 256 L78.4 256.6 L79.1 256.5 L79.9 257.3 L80.6 257.9 L81.3 258 L82 258.1 L82.7 257.6 L83.4 256.9 L84.1 255.1 L84.9 252.8 L85.6 250.5 L86.3 247.8 L87 245.6 L87.7 244.2 L88.4 240.4 L89.1 239.2 L89.8 236.2 L90.6 234.4 L91.3 231.4 L92 231.6 L92.7 231.9 L93.4 233.2 L94.1 234.4 L94.8 235.3 L95.6 237.1 L96.3 237.9 L97 238.5 L97.7 238.7 L98.4 239.6 L99.1 240.6 L99.8 241.6 L100.5 243.5 L101.3 244.1 L102 241.3 L102.7 239.5 L103.4 237.1 L104.1 235.6 L104.8 232.4 L105.5 230.9 L106.3 227.6 L107 226.3 L107.7 223.8 L108.4 220.7 L109.1 219.9 L109.8 221.6 L110.5 219 L111.2 221.2 L112 219.1 L112.7 219.3 L113.4 220.1 L114.1 220.1 L114.8 219 L115.5 219.7 L116.2 219.2 L116.9 219.6 L117.7 218.6 L118.4 219 L119.1 217.4 L119.8 217 L120.5 216.6 L121.2 215.6 L121.9 214.7 L122.7 214.5 L123.4 212.9 L124.1 211 L124.8 212.7 L125.5 210.9 L126.2 210.3 L126.9 210 L127.6 207.7 L128.4 208.3 L129.1 207.5 L129.8 208.5 L130.5 210.6 L131.2 210.8 L131.9 212.7 L132.6 215.6 L133.4 215.9 L134.1 218.3 L134.8 219.5 L135.5 222 L136.2 222.9 L136.9 222.8 L137.6 221.8 L138.3 220 L139.1 219.5 L139.8 218 L140.5 217.3 L141.2 214.6 L141.9 213.5 L142.6 213.3 L143.3 212 L144.1 210.4 L144.8 208.6 L145.5 207.8 L146.2 206.7 L146.9 207.4 L147.6 210.2 L148.3 211.3 L149 212.7 L149.8 215.7 L150.5 216.8 L151.2 217.5 L151.9 220.2 L152.6 221.7 L153.3 219.8 L154 219.7 L154.7 218.3 L155.5 216.9 L156.2 215.7 L156.9 213.5 L157.6 213.5 L158.3 212.4 L159 211.4 L159.7 210.4 L160.5 208.2 L161.2 206.5 L161.9 204.4 L162.6 204 L163.3 203 L164 204.3 L164.7 205.7 L165.4 208.4 L166.2 209 L166.9 211.1 L167.6 212.4 L168.3 214.4 L169 216.9 L169.7 218.4 L170.4 219.6 L171.2 219.9 L171.9 218.6 L172.6 218 L173.3 218.3 L174 217.8 L174.7 218 L175.4 215.6 L176.1 215.4 L176.9 215.9 L177.6 214.3 L178.3 215.3 L179 215.3 L179.7 213.9 L180.4 213.3 L181.1 213.3 L181.9 218.6 L182.6 221.5 L183.3 223.2 L184 226.1 L184.7 228.7 L185.4 233.4 L186.1 235.1 L186.8 239 L187.6 241 L188.3 241 L189 237.7 L189.7 236.5 L190.4 234.4 L191.1 232.3 L191.8 230.4 L192.5 228.5 L193.3 227.2 L194 225.5 L194.7 223.4 L195.4 221.2 L196.1 219.9 L196.8 218.1 L197.5 219 L198.3 221.3 L199 226 L199.7 228.9 L200.4 231.7 L201.1 236.2 L201.8 239 L202.5 241.4 L203.2 245.2 L204 246.3 L204.7 245.4 L205.4 244.5 L206.1 241.2 L206.8 239.8 L207.5 238 L208.2 236.4 L209 235.3 L209.7 232.3 L210.4 231.1 L211.1 231 L211.8 237.4 L212.5 240.9 L213.2 244.1 L213.9 249.1 L214.7 252.3 L215.4 253.1 L216.1 253.2 L216.8 254.3 L217.5 255.1 L218.2 256.6 L218.9 257.9 L219.6 256.3 L220.4 256.4 L221.1 256.3 L221.8 256.9 L222.5 255.9 L223.2 256.6 L223.9 255.6 L224.6 256.5 L225.4 255.3 L226.1 255.2 L226.8 255.3 L227.5 255.1 L228.2 254.9 L228.9 255.4 L229.6 255.9 L230.3 256.4 L231.1 256.3 L231.8 255.8 L232.5 255.8 L233.2 255.9 L233.9 256.1 L234.6 258.3 L235.3 257.6 L236.1 257.6 L236.8 255.9 L237.5 255.7 L238.2 255.4 L238.9 255 L239.6 257.1 L240.3 256.2 L241 256.4 L241.8 255.1 L242.5 254.4 L243.2 254.1 L243.9 252.2 L244.6 253.1 L245.3 251.3 L246 250.4 L246.8 250.1 L247.5 249.4 L248.2 248.5 L248.9 247.8 L249.6 247.2 L250.3 249.3 L251 250.3 L251.7 253.3 L252.5 253 L253.2 252.1 L253.9 252.2 L254.6 253.2 L255.3 253.6 L256 253.7 L256.7 251.9 L257.4 249.6 L258.2 247.3 L258.9 245.4 L259.6 243.9 L260.3 241.4 L261 239.2 L261.7 237.6 L262.4 237.6 L263.2 234.9 L263.9 234.8 L264.6 234.6 L265.3 233.8 L266 232.7 L266.7 232.8 L267.4 234.2 L268.1 234.6 L268.9 233.4 L269.6 236.8 L270.3 237.3 L271 238.5 L271.7 241.1 L272.4 242.7 L273.1 243.6 L273.9 245.9 L274.6 246.7 L275.3 248.1 L276 242.3 L276.7 236.2 L277.4 228.4 L278.1 228.9 L278.8 228.1 L279.6 227.9 L280.3 226.8 L281 226.8 L281.7 226.3 L282.4 225 L283.1 225.4 L283.8 225.8 L284.6 223.9 L285.3 224.2 L286 223.3 L286.7 223.5 L287.4 222.7 L288.1 225.7 L288.8 227.3 L289.5 229.1 L290.3 230.1 L291 232.8 L291.7 234.7 L292.4 238.3 L293.1 239.5 L293.8 235.3 L294.5 229.6 L295.2 225.3 L296 226 L296.7 225.5 L296.7 259.6 L296 259.9 L295.2 259.4 L294.5 259.2 L293.8 259.6 L293.1 259.8 L292.4 259.2 L291.7 259.7 L291 260.7 L290.3 259.6 L289.5 260.3 L288.8 259.5 L288.1 259.7 L287.4 259.3 L286.7 258.2 L286 258.1 L285.3 258.4 L284.6 257.7 L283.8 258.1 L283.1 256.8 L282.4 257.2 L281.7 258.2 L281 257.4 L280.3 257.5 L279.6 257.9 L278.8 256.4 L278.1 257.8 L277.4 257.3 L276.7 257.4 L276 258.8 L275.3 258.4 L274.6 258.6 L273.9 259.4 L273.1 259.8 L272.4 259.7 L271.7 259.4 L271 259.3 L270.3 260.2 L269.6 258.9 L268.9 258.9 L268.1 259.4 L267.4 259.3 L266.7 258.3 L266 259.3 L265.3 258.9 L264.6 259.3 L263.9 259.2 L263.2 259.3 L262.4 259.8 L261.7 259.6 L261 258.6 L260.3 259.1 L259.6 258 L258.9 259.5 L258.2 259.4 L257.4 259.3 L256.7 260 L256 260.3 L255.3 259 L254.6 257.9 L253.9 257.1 L253.2 257.3 L252.5 256.6 L251.7 258.3 L251 255.4 L250.3 254.3 L249.6 253.6 L248.9 253.6 L248.2 254.9 L247.5 254 L246.8 255.2 L246 255.8 L245.3 257.3 L244.6 258.1 L243.9 257.8 L243.2 258.3 L242.5 258.5 L241.8 259.4 L241 260.2 L240.3 260.7 L239.6 259.1 L238.9 259.9 L238.2 260.3 L237.5 260.8 L236.8 261.7 L236.1 263.1 L235.3 261.9 L234.6 262.4 L233.9 260.3 L233.2 260.3 L232.5 261.3 L231.8 261.1 L231.1 261.7 L230.3 261.1 L229.6 260.5 L228.9 261.1 L228.2 260.2 L227.5 260 L226.8 259.5 L226.1 260.8 L225.4 259.9 L224.6 261.4 L223.9 261.8 L223.2 261.1 L222.5 262.3 L221.8 261.2 L221.1 261.8 L220.4 261.1 L219.6 261.8 L218.9 261 L218.2 262.9 L217.5 262.1 L216.8 262 L216.1 260.7 L215.4 259 L214.7 260.9 L213.9 259.8 L213.2 258.2 L212.5 258 L211.8 257.4 L211.1 257 L210.4 258 L209.7 258.2 L209 259.8 L208.2 260.7 L207.5 260.3 L206.8 261.2 L206.1 262.9 L205.4 263.6 L204.7 263.7 L204 265.3 L203.2 264.1 L202.5 264 L201.8 262.3 L201.1 261 L200.4 258.6 L199.7 258.6 L199 257 L198.3 255 L197.5 254.1 L196.8 253.7 L196.1 253.9 L195.4 253.4 L194.7 255.8 L194 255.6 L193.3 256.6 L192.5 257.2 L191.8 256.9 L191.1 258.9 L190.4 257.8 L189.7 259.8 L189 259.2 L188.3 259.5 L187.6 259.8 L186.8 258.6 L186.1 256.5 L185.4 255.5 L184.7 254.4 L184 251.7 L183.3 250.7 L182.6 249.6 L181.9 247.9 L181.1 246 L180.4 247.2 L179.7 247.5 L179 248.9 L178.3 249.7 L177.6 250.6 L176.9 253.2 L176.1 254.5 L175.4 256.2 L174.7 257.2 L174 259.1 L173.3 258.9 L172.6 261.3 L171.9 261.7 L171.2 263.5 L170.4 265.3 L169.7 263.9 L169 260.8 L168.3 257.8 L167.6 255.6 L166.9 253.3 L166.2 250.2 L165.4 247.9 L164.7 244.6 L164 241.6 L163.3 241.5 L162.6 242.3 L161.9 245.2 L161.2 246.6 L160.5 248.2 L159.7 249.7 L159 252.1 L158.3 253.9 L157.6 255.3 L156.9 257.1 L156.2 259.4 L155.5 260.2 L154.7 263.7 L154 264.9 L153.3 266 L152.6 266.6 L151.9 263.2 L151.2 261.1 L150.5 259.3 L149.8 256.3 L149 255 L148.3 251.8 L147.6 249.6 L146.9 247.6 L146.2 245.4 L145.5 246.7 L144.8 248.3 L144.1 248.4 L143.3 250.4 L142.6 250.8 L141.9 253.2 L141.2 254.3 L140.5 254.8 L139.8 256.1 L139.1 256.4 L138.3 258.2 L137.6 259.6 L136.9 260.6 L136.2 259.8 L135.5 259.3 L134.8 257.6 L134.1 255 L133.4 254.3 L132.6 251.4 L131.9 250.3 L131.2 248.5 L130.5 246.9 L129.8 245.5 L129.1 250.3 L128.4 255.2 L127.6 256.6 L126.9 255.9 L126.2 256.5 L125.5 256.5 L124.8 255.5 L124.1 255.9 L123.4 256.3 L122.7 256.3 L121.9 254.8 L121.2 254.9 L120.5 256 L119.8 254.9 L119.1 255.3 L118.4 254 L117.7 254.8 L116.9 255.2 L116.2 255 L115.5 253.1 L114.8 254 L114.1 253.2 L113.4 253.6 L112.7 254.1 L112 253.4 L111.2 253.8 L110.5 254.9 L109.8 252.9 L109.1 253.4 L108.4 253.3 L107.7 254.3 L107 254.1 L106.3 254.6 L105.5 255.5 L104.8 256.1 L104.1 256.5 L103.4 256.7 L102.7 256.4 L102 256.7 L101.3 258.3 L100.5 258.8 L99.8 258 L99.1 258.2 L98.4 258.8 L97.7 259.2 L97 257.5 L96.3 259 L95.6 258.7 L94.8 258.8 L94.1 259.7 L93.4 258.9 L92.7 259.1 L92 258.2 L91.3 259 L90.6 259 L89.8 259.9 L89.1 259.7 L88.4 261.1 L87.7 260.8 L87 260.3 L86.3 259.8 L85.6 261.5 L84.9 262.5 L84.1 262.3 L83.4 262.9 L82.7 264.2 L82 264.3 L81.3 262.6 L80.6 263.4 L79.9 263.1 L79.1 263.5 L78.4 262.2 L77.7 261.1 L77 261.2 L76.3 260.4 L75.6 261.8 L74.9 260.5 L74.2 260.2 L73.4 260.5 L72.7 261.2 L72 260.3 L71.3 260.4 L70.6 260.9 L69.9 261.4 L69.2 261.7 L68.5 262.4 L67.7 263.4 L67 264.1 L66.3 263.3 L65.6 264.6 L64.9 263.3 L64.2 263.4 L63.5 262 L62.7 262.3 L62 262 L61.3 261.6 L60.6 259.8 L59.9 260.7 L59.2 259.7 L58.5 259.4 L57.8 260 L57 259.9 L56.3 258.3 L55.6 257.5 L54.9 256.1 L54.2 258 L53.5 258.6 L52.8 259.9 L52 260.4 L51.3 262.1 L50.6 263.9 L49.9 263.1 L49.2 263.5 L48.5 263.9 L47.8 264.4 L47.1 262.5 L46.3 262.5 L45.6 262.9 L44.9 262.2 L44.2 261.6 L43.5 262.2 L42.8 262 L42.1 260.6 L41.4 260.4Z" fill="rgb(25,25,240)" fill-opacity="0.1"/><path d="M41.4 255.7 L42.1 256.3 L42.8 257.6 L43.5 256.8 L44.2 256.9 L44.9 257.1 L45.6 257.3 L46.3 257.8 L47.1 258.9 L47.8 259 L48.5 258.1 L49.2 259 L49.9 259.8 L50.6 258.4 L51.3 257 L52 255.5 L52.8 254.8 L53.5 254.2 L54.2 252.7 L54.9 252.1 L55.6 251.4 L56.3 252.7 L57 254.6 L57.8 254.3 L58.5 254.7 L59.2 255.3 L59.9 254.8 L60.6 254.8 L61.3 257 L62 256.4 L62.7 256.9 L63.5 257.2 L64.2 258.2 L64.9 259.1 L65.6 261.1 L66.3 259.8 L67 259.5 L67.7 258.6 L68.5 258.6 L69.2 257.7 L69.9 257.3 L70.6 255.5 L71.3 255.4 L72 256.5 L72.7 256.7 L73.4 255.1 L74.2 256.3 L74.9 256.1 L75.6 254.9 L76.3 255.6 L77 257.1 L77.7 256.6 L78.4 256.7 L79.1 257.2 L79.9 257.9 L80.6 258.8 L81.3 258 L82 257.8 L82.7 257.4 L83.4 256.8 L84.1 255.8 L84.9 252.6 L85.6 251.2 L86.3 249 L87 246.3 L87.7 243.5 L88.4 241.8 L89.1 240.6 L89.8 237.7 L90.6 235.4 L91.3 232.5 L92 232.4 L92.7 233.3 L93.4 234.8 L94.1 235.8 L94.8 236.1 L95.6 237.4 L96.3 237.3 L97 238.7 L97.7 241.1 L98.4 241.3 L99.1 242.3 L99.8 242.5 L100.5 244.7 L101.3 245 L102 242.6 L102.7 241.8 L103.4 238 L104.1 235.4 L104.8 233.6 L105.5 231.4 L106.3 228.2 L107 227 L107.7 224.4 L108.4 222 L109.1 221.2 L109.8 221.5 L110.5 220.2 L111.2 222 L112 220.8 L112.7 221.3 L113.4 220.6 L114.1 220.7 L114.8 220.2 L115.5 220.6 L116.2 220.7 L116.9 219.9 L117.7 219.2 L118.4 219.9 L119.1 219.3 L119.8 218.4 L120.5 218.2 L121.2 217.9 L121.9 215.9 L122.7 215.2 L123.4 214.6 L124.1 213.5 L124.8 213.4 L125.5 211.9 L126.2 211.4 L126.9 211.6 L127.6 210.1 L128.4 208.5 L129.1 209.8 L129.8 209 L130.5 210.2 L131.2 211.8 L131.9 213.9 L132.6 216 L133.4 218.8 L134.1 219.3 L134.8 221.5 L135.5 223.8 L136.2 224.5 L136.9 224.4 L137.6 223.7 L138.3 222.2 L139.1 219.5 L139.8 219.1 L140.5 218.2 L141.2 215.4 L141.9 215.1 L142.6 214.3 L143.3 213.2 L144.1 212.3 L144.8 210.3 L145.5 209.5 L146.2 208.1 L146.9 210.1 L147.6 211.5 L148.3 212.6 L149 214.7 L149.8 216.2 L150.5 218.8 L151.2 220.2 L151.9 220.5 L152.6 223.1 L153.3 223.1 L154 220.4 L154.7 220.1 L155.5 218.9 L156.2 218.3 L156.9 214.7 L157.6 214.5 L158.3 213.9 L159 211.4 L159.7 211.7 L160.5 209.3 L161.2 207.9 L161.9 206.9 L162.6 204.6 L163.3 204.8 L164 205.3 L164.7 206.5 L165.4 208.8 L166.2 211.2 L166.9 212.2 L167.6 215.5 L168.3 217 L169 218.8 L169.7 220 L170.4 221.3 L171.2 219.8 L171.9 219.4 L172.6 219.1 L173.3 219.1 L174 219.1 L174.7 218.7 L175.4 217.2 L176.1 217.2 L176.9 216.6 L177.6 215.3 L178.3 216.4 L179 215.4 L179.7 216 L180.4 214.3 L181.1 215.8 L181.9 217.5 L182.6 221.2 L183.3 224.8 L184 226.8 L184.7 230.8 L185.4 233.8 L186.1 236.8 L186.8 239.7 L187.6 243 L188.3 239.2 L189 238.6 L189.7 237.6 L190.4 235.4 L191.1 233.8 L191.8 232.9 L192.5 229.8 L193.3 228 L194 226.7 L194.7 224.5 L195.4 223.5 L196.1 221.5 L196.8 220 L197.5 219.8 L198.3 223.4 L199 226.9 L199.7 231 L200.4 233.4 L201.1 236 L201.8 239.8 L202.5 242.8 L203.2 245.2 L204 248.9 L204.7 245.9 L205.4 245.1 L206.1 242.4 L206.8 240.1 L207.5 239.1 L208.2 238.2 L209 235.8 L209.7 233.2 L210.4 231.3 L211.1 232.9 L211.8 237.2 L212.5 240.9 L213.2 246.3 L213.9 249.4 L214.7 251.5 L215.4 252.5 L216.1 252.9 L216.8 254.6 L217.5 256 L218.2 256.4 L218.9 255.9 L219.6 256.5 L220.4 256 L221.1 256.5 L221.8 255.9 L222.5 255.6 L223.2 255.9 L223.9 257 L224.6 257.1 L225.4 255 L226.1 256.4 L226.8 254.8 L227.5 255.8 L228.2 255.7 L228.9 255.2 L229.6 256.6 L230.3 257.4 L231.1 256.9 L231.8 255.9 L232.5 255.6 L233.2 256.4 L233.9 256.6 L234.6 256.5 L235.3 257.5 L236.1 258.5 L236.8 257.4 L237.5 254.8 L238.2 255 L238.9 255.5 L239.6 256.1 L240.3 256 L241 255.3 L241.8 255.4 L242.5 255 L243.2 254.2 L243.9 252.6 L244.6 252.5 L245.3 251.9 L246 250.8 L246.8 250.3 L247.5 249.6 L248.2 248.9 L248.9 248.6 L249.6 247.4 L250.3 249.8 L251 250.6 L251.7 252.7 L252.5 253.4 L253.2 252.4 L253.9 252.3 L254.6 253.6 L255.3 253.3 L256 253.7 L256.7 252.4 L257.4 251.3 L258.2 247 L258.9 245.7 L259.6 244.8 L260.3 242.7 L261 241.1 L261.7 238.4 L262.4 236.9 L263.2 236.3 L263.9 235.7 L264.6 235.5 L265.3 233.4 L266 234 L266.7 234 L267.4 235.1 L268.1 234.6 L268.9 234.1 L269.6 237.2 L270.3 237.8 L271 239.3 L271.7 241.1 L272.4 241.3 L273.1 244.6 L273.9 246.3 L274.6 247.2 L275.3 249.6 L276 242.4 L276.7 236.2 L277.4 229.9 L278.1 229.8 L278.8 228.6 L279.6 229.1 L280.3 228.1 L281 226.7 L281.7 227 L282.4 226.9 L283.1 226.6 L283.8 225.8 L284.6 225.3 L285.3 225.9 L286 225.3 L286.7 226.4 L287.4 225.5 L288.1 226.1 L288.8 228.7 L289.5 229.6 L290.3 231.9 L291 234.2 L291.7 236.8 L292.4 238.2 L293.1 240.9 L293.8 235 L294.5 231.3 L295.2 227.1 L296 226.5 L296.7 226.6 L296.7 259.1 L296 258.5 L295.2 258.1 L294.5 258.2 L293.8 258 L293.1 258.6 L292.4 259.3 L291.7 258.9 L291 259.1 L290.3 257 L289.5 258.4 L288.8 257.8 L288.1 257.7 L287.4 257 L286.7 257.2 L286 256.6 L285.3 257.3 L284.6 256.8 L283.8 256.8 L283.1 256.7 L282.4 256.8 L281.7 255.5 L281 256.1 L280.3 256.8 L279.6 256.4 L278.8 256.8 L278.1 256.9 L277.4 256.5 L276.7 257.2 L276 258 L275.3 258.3 L274.6 258.5 L273.9 258.5 L273.1 258.1 L272.4 259.2 L271.7 257.9 L271 257.7 L270.3 258.7 L269.6 259 L268.9 258 L268.1 258.2 L267.4 258.7 L266.7 259.6 L266 258.5 L265.3 257.3 L264.6 258.3 L263.9 258.4 L263.2 258.6 L262.4 258.8 L261.7 258.3 L261 257.8 L260.3 258 L259.6 257.8 L258.9 258.5 L258.2 259 L257.4 258.5 L256.7 260.3 L256 260.5 L255.3 258.6 L254.6 257.3 L253.9 256.5 L253.2 256.4 L252.5 257.2 L251.7 257.2 L251 255.7 L250.3 253.5 L249.6 252.5 L248.9 252.9 L248.2 253 L247.5 254.9 L246.8 255.6 L246 255.2 L245.3 256 L244.6 256.1 L243.9 257.2 L243.2 257.8 L242.5 259.2 L241.8 259.4 L241 258.9 L240.3 260.1 L239.6 261.1 L238.9 260.1 L238.2 259.6 L237.5 260.5 L236.8 262 L236.1 262.1 L235.3 262 L234.6 261 L233.9 260.7 L233.2 260.9 L232.5 261 L231.8 261.1 L231.1 262.4 L230.3 261.6 L229.6 261.4 L228.9 260.9 L228.2 259.9 L227.5 258.2 L226.8 258.8 L226.1 259.9 L225.4 260.2 L224.6 260 L223.9 260.2 L223.2 262.4 L222.5 261.7 L221.8 261.7 L221.1 261.1 L220.4 260.4 L219.6 261 L218.9 261.6 L218.2 262.4 L217.5 261 L216.8 261 L216.1 260.1 L215.4 258.7 L214.7 260.6 L213.9 260.3 L213.2 258.4 L212.5 258 L211.8 257.5 L211.1 255.9 L210.4 256.2 L209.7 256.8 L209 258.5 L208.2 258.9 L207.5 259.6 L206.8 260.4 L206.1 261.2 L205.4 262.2 L204.7 264 L204 264.5 L203.2 263.2 L202.5 262.5 L201.8 261.6 L201.1 259.9 L200.4 258.2 L199.7 257.6 L199 255 L198.3 253.8 L197.5 253 L196.8 253.4 L196.1 254 L195.4 253.3 L194.7 254 L194 255.1 L193.3 255.4 L192.5 255.3 L191.8 255.6 L191.1 256.1 L190.4 257.9 L189.7 257.8 L189 259.8 L188.3 259.4 L187.6 261.2 L186.8 258.3 L186.1 255.8 L185.4 255.7 L184.7 253.4 L184 251.3 L183.3 249.8 L182.6 247.6 L181.9 246.5 L181.1 243.6 L180.4 244.1 L179.7 245.9 L179 247.4 L178.3 249 L177.6 249.5 L176.9 250.7 L176.1 251.9 L175.4 253.6 L174.7 255.3 L174 257.3 L173.3 257.9 L172.6 259.3 L171.9 260.4 L171.2 260.8 L170.4 263.2 L169.7 262 L169 259.4 L168.3 257.2 L167.6 254.5 L166.9 250.2 L166.2 248.4 L165.4 246.6 L164.7 243.9 L164 241.3 L163.3 239.7 L162.6 240.8 L161.9 243.9 L161.2 244.9 L160.5 246.4 L159.7 248.1 L159 251.3 L158.3 252 L157.6 254.1 L156.9 254.8 L156.2 257.6 L155.5 259.3 L154.7 260.9 L154 263.5 L153.3 264.2 L152.6 264.8 L151.9 262.6 L151.2 260.3 L150.5 258 L149.8 256.5 L149 254 L148.3 250.8 L147.6 249.4 L146.9 245.6 L146.2 244.2 L145.5 245.1 L144.8 246.1 L144.1 248.2 L143.3 249 L142.6 249.4 L141.9 251.4 L141.2 251.9 L140.5 253.8 L139.8 253.9 L139.1 255.6 L138.3 256 L137.6 257.5 L136.9 259.4 L136.2 259.7 L135.5 257.5 L134.8 256.2 L134.1 255 L133.4 252.9 L132.6 250.8 L131.9 248.6 L131.2 246.7 L130.5 246.8 L129.8 243.6 L129.1 248.3 L128.4 253.8 L127.6 254.7 L126.9 254.7 L126.2 255.2 L125.5 255.1 L124.8 254.1 L124.1 254.1 L123.4 254 L122.7 253.4 L121.9 253.6 L121.2 253.5 L120.5 252.7 L119.8 253 L119.1 253.8 L118.4 253.3 L117.7 252 L116.9 253.4 L116.2 253.2 L115.5 252.4 L114.8 253.1 L114.1 252.4 L113.4 252.4 L112.7 252.8 L112 252.9 L111.2 252.8 L110.5 252.3 L109.8 252.6 L109.1 251.7 L108.4 252.5 L107.7 253.5 L107 253.3 L106.3 254.9 L105.5 254.8 L104.8 255.8 L104.1 255.1 L103.4 257.7 L102.7 256.2 L102 257.3 L101.3 258 L100.5 258.3 L99.8 258.4 L99.1 258.1 L98.4 258.3 L97.7 257.3 L97 257.6 L96.3 259.2 L95.6 257.3 L94.8 258.1 L94.1 258.6 L93.4 257.9 L92.7 256.8 L92 258.2 L91.3 258.5 L90.6 259.7 L89.8 258.7 L89.1 258.8 L88.4 260 L87.7 261 L87 259.7 L86.3 260.6 L85.6 261.1 L84.9 261.4 L84.1 262.3 L83.4 262.3 L82.7 261.8 L82 263.5 L81.3 262.6 L80.6 263.4 L79.9 263 L79.1 261.7 L78.4 260.5 L77.7 261.2 L77 260.4 L76.3 260.6 L75.6 260 L74.9 260.9 L74.2 261.7 L73.4 260.5 L72.7 261.5 L72 260.9 L71.3 260.2 L70.6 260.8 L69.9 261.4 L69.2 262.3 L68.5 262.6 L67.7 264.3 L67 263.3 L66.3 264.1 L65.6 264.4 L64.9 262.7 L64.2 263.2 L63.5 262.5 L62.7 262.1 L62 260.6 L61.3 261.3 L60.6 260.5 L59.9 259.6 L59.2 259.1 L58.5 258.7 L57.8 259.2 L57 258.4 L56.3 258.2 L55.6 255.5 L54.9 256.1 L54.2 258 L53.5 258.5 L52.8 260.1 L52 260.6 L51.3 261.6 L50.6 264.1 L49.9 263.2 L49.2 263.8 L48.5 264.4 L47.8 262.6 L47.1 262.8 L46.3 262.3 L45.6 262.2 L44.9 262.4 L44.2 261.8 L43.5 262.7 L42.8 260.4 L42.1 261 L41.4 260.3Z" fill="rgb(25,25,240)" fill-opacity="0.1"/><path d="M41.4 255.9 L42.1 256.4 L42.8 257.9 L43.5 255.8 L44.2 257.3 L44.9 257.3 L45.6 256.7 L46.3 258.1 L47.1 259 L47.8 258.8 L48.5 258.2 L49.2 258.8 L49.9 258.6 L50.6 259.1 L51.3 257.6 L52 256.2 L52.8 255 L53.5 253.9 L54.2 253.6 L54.9 252.1 L55.6 252.1 L56.3 253.9 L57 254.7 L57.8 254 L58.5 255 L59.2 254.8 L59.9 256 L60.6 255.6 L61.3 255.5 L62 257 L62.7 257.8 L63.5 258.4 L64.2 258.3 L64.9 260.2 L65.6 259.2 L66.3 259.5 L67 259.9 L67.7 259.1 L68.5 258.9 L69.2 256.8 L69.9 255.9 L70.6 256.7 L71.3 255.6 L72 256.4 L72.7 256.9 L73.4 256 L74.2 255.6 L74.9 256.6 L75.6 256.4 L76.3 255.6 L77 256.7 L77.7 256.5 L78.4 258.1 L79.1 257.8 L79.9 258.7 L80.6 259.4 L81.3 257.9 L82 257.7 L82.7 257.9 L83.4 257.2 L84.1 257.3 L84.9 252.2 L85.6 251.9 L86.3 249 L87 248 L87.7 244.8 L88.4 242 L89.1 240.6 L89.8 237.9 L90.6 236 L91.3 234.2 L92 234.1 L92.7 235.1 L93.4 235.7 L94.1 237 L94.8 237 L95.6 237.4 L96.3 238.9 L97 239.6 L97.7 240.5 L98.4 241 L99.1 242 L99.8 244.8 L100.5 244.1 L101.3 246 L102 242.7 L102.7 240.9 L103.4 239.3 L104.1 235.3 L104.8 234.6 L105.5 232.6 L106.3 230.9 L107 227.7 L107.7 225.4 L108.4 223.3 L109.1 222.6 L109.8 222.7 L110.5 223 L111.2 222.6 L112 223.3 L112.7 221.7 L113.4 222.4 L114.1 222.5 L114.8 222.2 L115.5 221.6 L116.2 221.3 L116.9 221.8 L117.7 221.1 L118.4 221.3 L119.1 220.6 L119.8 219.8 L120.5 220.2 L121.2 218.2 L121.9 219 L122.7 217.2 L123.4 216.4 L124.1 214.9 L124.8 216.1 L125.5 213.5 L126.2 214.2 L126.9 213.2 L127.6 212.2 L128.4 211.3 L129.1 211.3 L129.8 211.5 L130.5 212.7 L131.2 214.5 L131.9 216.7 L132.6 217.3 L133.4 219.1 L134.1 222 L134.8 223.3 L135.5 223.6 L136.2 225.1 L136.9 226.7 L137.6 225.3 L138.3 223.7 L139.1 223.2 L139.8 221.7 L140.5 220.3 L141.2 218 L141.9 217.5 L142.6 216.1 L143.3 214.9 L144.1 213.4 L144.8 211.1 L145.5 209.1 L146.2 209.3 L146.9 211.3 L147.6 213.1 L148.3 215 L149 216.9 L149.8 218.2 L150.5 220.2 L151.2 221 L151.9 223 L152.6 225.3 L153.3 225.2 L154 223.6 L154.7 221.9 L155.5 220.1 L156.2 219 L156.9 217 L157.6 216.8 L158.3 214.7 L159 214.1 L159.7 213.3 L160.5 210.4 L161.2 209.3 L161.9 208.8 L162.6 206.8 L163.3 206 L164 206.5 L164.7 207.9 L165.4 209.6 L166.2 212 L166.9 214.2 L167.6 215.9 L168.3 217.2 L169 219.9 L169.7 221.4 L170.4 222.5 L171.2 222.4 L171.9 221.4 L172.6 222.4 L173.3 220.7 L174 220.3 L174.7 219 L175.4 219.5 L176.1 219.2 L176.9 218.8 L177.6 218.2 L178.3 217.5 L179 217.2 L179.7 216.9 L180.4 216.4 L181.1 216.7 L181.9 219.6 L182.6 222.2 L183.3 225.6 L184 228.3 L184.7 231.6 L185.4 233.8 L186.1 238.2 L186.8 241 L187.6 242.8 L188.3 242 L189 239.4 L189.7 238.5 L190.4 236.8 L191.1 234.9 L191.8 232.7 L192.5 231.4 L193.3 229.6 L194 227.8 L194.7 226.5 L195.4 223.8 L196.1 222.6 L196.8 220.5 L197.5 222 L198.3 224.8 L199 227.8 L199.7 230.4 L200.4 233.8 L201.1 236.5 L201.8 240.3 L202.5 243.6 L203.2 246.5 L204 248.7 L204.7 247.1 L205.4 245.5 L206.1 242.3 L206.8 241.7 L207.5 239.6 L208.2 236.8 L209 236.2 L209.7 234.3 L210.4 232.3 L211.1 234.9 L211.8 238.4 L212.5 242.9 L213.2 246.2 L213.9 250 L214.7 253.1 L215.4 253.7 L216.1 253.7 L216.8 254.7 L217.5 256.3 L218.2 256.2 L218.9 256.6 L219.6 256.5 L220.4 256 L221.1 256.2 L221.8 256.7 L222.5 257.6 L223.2 256.4 L223.9 255.6 L224.6 255.9 L225.4 255.6 L226.1 255.2 L226.8 255.1 L227.5 255.5 L228.2 255.1 L228.9 255.5 L229.6 256.7 L230.3 256.8 L231.1 257.1 L231.8 257.1 L232.5 256.8 L233.2 256 L233.9 256.4 L234.6 257.4 L235.3 257.6 L236.1 258 L236.8 255.8 L237.5 255.5 L238.2 255 L238.9 255.6 L239.6 256 L240.3 255.6 L241 255.2 L241.8 255.3 L242.5 254.8 L243.2 252.7 L243.9 251.8 L244.6 252.7 L245.3 251.1 L246 251 L246.8 250.3 L247.5 250.9 L248.2 249.9 L248.9 248.4 L249.6 248.1 L250.3 249.5 L251 250.7 L251.7 253.3 L252.5 252.7 L253.2 252.9 L253.9 253.1 L254.6 253.2 L255.3 254.5 L256 254.4 L256.7 252.7 L257.4 250.7 L258.2 249.4 L258.9 245.8 L259.6 244.3 L260.3 244.3 L261 241.2 L261.7 239.7 L262.4 238.7 L263.2 236.8 L263.9 236.4 L264.6 235.3 L265.3 235.5 L266 234.9 L266.7 236.2 L267.4 235.5 L268.1 236.4 L268.9 235.8 L269.6 238.5 L270.3 239.3 L271 240.1 L271.7 240.9 L272.4 243.8 L273.1 245.3 L273.9 246.3 L274.6 247.6 L275.3 249 L276 242.5 L276.7 237.2 L277.4 231.4 L278.1 231.3 L278.8 230 L279.6 229.9 L280.3 228.6 L281 228.1 L281.7 227.6 L282.4 228.3 L283.1 228.2 L283.8 227.6 L284.6 227.2 L285.3 226.1 L286 226.5 L286.7 226.1 L287.4 225.1 L288.1 227.1 L288.8 228.4 L289.5 231.1 L290.3 232.4 L291 234.7 L291.7 236.8 L292.4 239.8 L293.1 240.3 L293.8 237.1 L294.5 231.8 L295.2 228 L296 228.6 L296.7 228.4 L296.7 257.1 L296 256.7 L295.2 256.3 L294.5 256.7 L293.8 258.3 L293.1 258.8 L292.4 258.1 L291.7 257.1 L291 257.4 L290.3 257 L289.5 256.3 L288.8 257.2 L288.1 257.1 L287.4 255.1 L286.7 256 L286 255.2 L285.3 255.6 L284.6 255.7 L283.8 255.2 L283.1 255.3 L282.4 254.5 L281.7 255.9 L281 255.6 L280.3 255 L279.6 255.3 L278.8 255.9 L278.1 256.2 L277.4 254.9 L276.7 256.6 L276 257.8 L275.3 258.3 L274.6 258.2 L273.9 257 L273.1 257.6 L272.4 258.6 L271.7 257.2 L271 257.3 L270.3 257.3 L269.6 256.8 L268.9 258.3 L268.1 256 L267.4 257.1 L266.7 256.3 L266 257.2 L265.3 256.7 L264.6 257.9 L263.9 256.7 L263.2 257.7 L262.4 257.9 L261.7 257.7 L261 257 L260.3 258.7 L259.6 258.2 L258.9 256.7 L258.2 257.9 L257.4 258.7 L256.7 259.7 L256 259.8 L255.3 259 L254.6 257.4 L253.9 257 L253.2 256.6 L252.5 257.1 L251.7 256.9 L251 255 L250.3 253.5 L249.6 252.4 L248.9 252.7 L248.2 252.7 L247.5 253.6 L246.8 254.3 L246 255.5 L245.3 255.7 L244.6 257.2 L243.9 258.1 L243.2 258 L242.5 257.8 L241.8 259.2 L241 259.4 L240.3 260.3 L239.6 259.8 L238.9 260.7 L238.2 259.2 L237.5 259.4 L236.8 261 L236.1 261.5 L235.3 262.8 L234.6 261 L233.9 260.6 L233.2 259.7 L232.5 261.1 L231.8 260.3 L231.1 261.4 L230.3 261.1 L229.6 260.1 L228.9 259.7 L228.2 259.1 L227.5 259.5 L226.8 259 L226.1 260.4 L225.4 259.6 L224.6 260.9 L223.9 260.2 L223.2 260.9 L222.5 260.4 L221.8 261.1 L221.1 260.4 L220.4 261.2 L219.6 261.3 L218.9 261.2 L218.2 261.8 L217.5 260.5 L216.8 260.8 L216.1 260.5 L215.4 260.5 L214.7 260.1 L213.9 259.1 L213.2 258.4 L212.5 257.6 L211.8 256.1 L211.1 255.9 L210.4 256.1 L209.7 255.9 L209 257.4 L208.2 258.8 L207.5 258.5 L206.8 260.1 L206.1 261.8 L205.4 261.6 L204.7 262.7 L204 263.6 L203.2 262.9 L202.5 261.3 L201.8 260.1 L201.1 258.2 L200.4 256.5 L199.7 255.7 L199 253.6 L198.3 252.1 L197.5 250.4 L196.8 250.9 L196.1 250.6 L195.4 251.6 L194.7 252.5 L194 253 L193.3 252.8 L192.5 253.9 L191.8 255.3 L191.1 255.6 L190.4 255.8 L189.7 257.6 L189 257.6 L188.3 258.4 L187.6 259.9 L186.8 257.7 L186.1 255.4 L185.4 254.4 L184.7 252.1 L184 250.4 L183.3 247.5 L182.6 246.5 L181.9 245.6 L181.1 244.2 L180.4 243.1 L179.7 245.9 L179 245.7 L178.3 247.5 L177.6 248.2 L176.9 250.3 L176.1 250.8 L175.4 252.5 L174.7 253.6 L174 254.5 L173.3 256.1 L172.6 257.4 L171.9 259.2 L171.2 261.7 L170.4 261.6 L169.7 259.1 L169 258.4 L168.3 255 L167.6 252.8 L166.9 249.2 L166.2 247 L165.4 244.8 L164.7 242.5 L164 238.9 L163.3 237.7 L162.6 239.6 L161.9 241.9 L161.2 242.5 L160.5 244.7 L159.7 246.7 L159 249.3 L158.3 250.3 L157.6 252.4 L156.9 254.3 L156.2 255.5 L155.5 257.3 L154.7 258.7 L154 260.7 L153.3 262.7 L152.6 262.7 L151.9 261.2 L151.2 258.6 L150.5 255.8 L149.8 253.8 L149 251.4 L148.3 249.4 L147.6 247.4 L146.9 245.7 L146.2 243.2 L145.5 244.1 L144.8 245.8 L144.1 245.5 L143.3 247 L142.6 248.1 L141.9 248.4 L141.2 251.3 L140.5 252.1 L139.8 252.8 L139.1 254.9 L138.3 255.2 L137.6 256.8 L136.9 258 L136.2 257.2 L135.5 255.6 L134.8 253.9 L134.1 251.9 L133.4 251.5 L132.6 250.3 L131.9 246.9 L131.2 245.9 L130.5 244.4 L129.8 243.2 L129.1 247.2 L128.4 252.6 L127.6 252.9 L126.9 253.1 L126.2 253.2 L125.5 253.7 L124.8 252.7 L124.1 252.6 L123.4 251.6 L122.7 252.5 L121.9 251.7 L121.2 252.2 L120.5 252.3 L119.8 251.2 L119.1 252.4 L118.4 253.1 L117.7 251.7 L116.9 251.8 L116.2 251.2 L115.5 251.2 L114.8 251 L114.1 250.7 L113.4 250.5 L112.7 251.6 L112 250.9 L111.2 250.2 L110.5 251.4 L109.8 250.4 L109.1 251.4 L108.4 251.8 L107.7 251.7 L107 252.7 L106.3 253.2 L105.5 253.7 L104.8 254 L104.1 254.9 L103.4 255.3 L102.7 256.3 L102 257.8 L101.3 256.5 L100.5 257.1 L99.8 258 L99.1 257.5 L98.4 255.7 L97.7 257.1 L97 257.3 L96.3 256.7 L95.6 257.7 L94.8 256.7 L94.1 257.7 L93.4 257.2 L92.7 256.7 L92 257.2 L91.3 257.8 L90.6 257.7 L89.8 257.4 L89.1 258.3 L88.4 259.2 L87.7 259.1 L87 259.9 L86.3 259.9 L85.6 261.3 L84.9 260.5 L84.1 262 L83.4 261.9 L82.7 262.4 L82 262.7 L81.3 262.5 L80.6 262.7 L79.9 262.9 L79.1 262.1 L78.4 261 L77.7 261.3 L77 260 L76.3 260.6 L75.6 260 L74.9 261.5 L74.2 260.4 L73.4 260.7 L72.7 260.9 L72 259.9 L71.3 260.1 L70.6 260.5 L69.9 260.8 L69.2 262.6 L68.5 262.9 L67.7 263.9 L67 263.8 L66.3 263.5 L65.6 264.5 L64.9 263.4 L64.2 263.1 L63.5 262.4 L62.7 262.2 L62 260.7 L61.3 261.3 L60.6 259.8 L59.9 258.8 L59.2 259.9 L58.5 259.4 L57.8 259 L57 258.1 L56.3 257.7 L55.6 255.9 L54.9 256.3 L54.2 258.2 L53.5 258.8 L52.8 259.6 L52 260.7 L51.3 261.8 L50.6 262.5 L49.9 264 L49.2 263.3 L48.5 263.7 L47.8 263.4 L47.1 261.8 L46.3 262.5 L45.6 262.6 L44.9 262.1 L44.2 261.1 L43.5 261.7 L42.8 261.2 L42.1 261.6 L41.4 260.5Z" fill="rgb(25,25,240)" fill-opacity="0.11"/><path d="M41.4 256.5 L42.1 257.3 L42.8 256.9 L43.5 257.2 L44.2 258.3 L44.9 257.7 L45.6 257.6 L46.3 258.8 L47.1 259 L47.8 260 L48.5 259.6 L49.2 259.8 L49.9 259.8 L50.6 259.7 L51.3 257.7 L52 257.3 L52.8 256 L53.5 254.7 L54.2 252.4 L54.9 252.7 L55.6 253.3 L56.3 254.3 L57 254.1 L57.8 254 L58.5 254.3 L59.2 255.5 L59.9 255.9 L60.6 255.7 L61.3 255.7 L62 258.1 L62.7 258.5 L63.5 257.8 L64.2 259 L64.9 260 L65.6 259.6 L66.3 260.3 L67 259.2 L67.7 259.1 L68.5 259 L69.2 257.8 L69.9 257.9 L70.6 256.9 L71.3 256.7 L72 255.7 L72.7 256.4 L73.4 256.5 L74.2 257.2 L74.9 257.5 L75.6 256.4 L76.3 255.9 L77 256.8 L77.7 256.3 L78.4 256.9 L79.1 257.9 L79.9 259.3 L80.6 260 L81.3 259.3 L82 258.4 L82.7 258.1 L83.4 257.9 L84.1 255.3 L84.9 254 L85.6 250.4 L86.3 249.4 L87 247 L87.7 245.9 L88.4 244.4 L89.1 241.9 L89.8 239.6 L90.6 236.5 L91.3 234.8 L92 235.4 L92.7 236.1 L93.4 235.4 L94.1 237.9 L94.8 238.8 L95.6 239.1 L96.3 240.1 L97 240.3 L97.7 241.6 L98.4 242.8 L99.1 242.7 L99.8 243.4 L100.5 244.9 L101.3 245.5 L102 244.8 L102.7 242 L103.4 240.6 L104.1 238 L104.8 236.3 L105.5 233.6 L106.3 232.2 L107 229 L107.7 227.3 L108.4 225.8 L109.1 223.6 L109.8 224.2 L110.5 224.4 L111.2 223.8 L112 223.9 L112.7 223.3 L113.4 222.6 L114.1 223.2 L114.8 223.8 L115.5 223.1 L116.2 223.9 L116.9 223.5 L117.7 223.1 L118.4 222.8 L119.1 222.3 L119.8 222.3 L120.5 221.5 L121.2 220.3 L121.9 219.8 L122.7 218.8 L123.4 218 L124.1 217.5 L124.8 217.6 L125.5 216.1 L126.2 215.9 L126.9 214.9 L127.6 214.1 L128.4 213.7 L129.1 213.2 L129.8 212.2 L130.5 214.9 L131.2 216.4 L131.9 217.8 L132.6 220.6 L133.4 221.9 L134.1 222.7 L134.8 223.6 L135.5 226 L136.2 228.1 L136.9 227.9 L137.6 226.6 L138.3 226.2 L139.1 224.1 L139.8 223.7 L140.5 221.6 L141.2 220.7 L141.9 219.4 L142.6 218 L143.3 216.8 L144.1 215 L144.8 214.2 L145.5 212.7 L146.2 210.5 L146.9 212.3 L147.6 214.6 L148.3 216.7 L149 217.7 L149.8 219.9 L150.5 221.7 L151.2 223 L151.9 224.8 L152.6 227.4 L153.3 226.2 L154 225.5 L154.7 223.2 L155.5 221.9 L156.2 220.2 L156.9 219.7 L157.6 217.6 L158.3 217.6 L159 215.3 L159.7 214 L160.5 213.1 L161.2 211.4 L161.9 210.4 L162.6 209.2 L163.3 206.4 L164 207.3 L164.7 210.2 L165.4 211.8 L166.2 214.3 L166.9 216.3 L167.6 218.2 L168.3 220.3 L169 221.3 L169.7 224.7 L170.4 225 L171.2 223.6 L171.9 224 L172.6 223.8 L173.3 224 L174 222 L174.7 222 L175.4 220.8 L176.1 220.9 L176.9 220.3 L177.6 219.5 L178.3 218.9 L179 219 L179.7 218 L180.4 217.2 L181.1 218.5 L181.9 222 L182.6 223.9 L183.3 226.8 L184 230.5 L184.7 232.9 L185.4 235.2 L186.1 238.3 L186.8 241.5 L187.6 245.3 L188.3 243.1 L189 240.8 L189.7 239.7 L190.4 237.3 L191.1 236.2 L191.8 234.7 L192.5 231.9 L193.3 231.3 L194 228.7 L194.7 227.7 L195.4 225.8 L196.1 223.3 L196.8 222.6 L197.5 222.5 L198.3 226.1 L199 228.6 L199.7 233.4 L200.4 235.7 L201.1 238.2 L201.8 241.8 L202.5 243.9 L203.2 247.3 L204 249.3 L204.7 247.1 L205.4 246.5 L206.1 244.1 L206.8 243.2 L207.5 241.1 L208.2 238.4 L209 237.3 L209.7 236.9 L210.4 234.3 L211.1 235.9 L211.8 239 L212.5 244 L213.2 247.4 L213.9 251.1 L214.7 252.3 L215.4 254.1 L216.1 254 L216.8 254.2 L217.5 255.7 L218.2 257.9 L218.9 257.5 L219.6 256.8 L220.4 256.6 L221.1 257 L221.8 256.8 L222.5 257.2 L223.2 256.6 L223.9 256.9 L224.6 256.5 L225.4 256.2 L226.1 255.6 L226.8 255.5 L227.5 255.4 L228.2 255.7 L228.9 255.8 L229.6 256.4 L230.3 256.5 L231.1 257.8 L231.8 256.5 L232.5 257.6 L233.2 256.9 L233.9 257.1 L234.6 256.9 L235.3 258.4 L236.1 257.6 L236.8 257.4 L237.5 255.8 L238.2 256 L238.9 255.9 L239.6 255.3 L240.3 256.5 L241 256.4 L241.8 254.5 L242.5 254.5 L243.2 253.8 L243.9 253.4 L244.6 252.5 L245.3 251.7 L246 250.4 L246.8 250.3 L247.5 250.3 L248.2 249 L248.9 248.5 L249.6 248.8 L250.3 249.2 L251 251.3 L251.7 253.7 L252.5 252.5 L253.2 252.2 L253.9 252.6 L254.6 253.3 L255.3 254.7 L256 254.6 L256.7 252.9 L257.4 251.4 L258.2 248.4 L258.9 247.6 L259.6 244.9 L260.3 243.7 L261 242.5 L261.7 240.1 L262.4 239.9 L263.2 238.7 L263.9 237.9 L264.6 236.5 L265.3 237.2 L266 236 L266.7 236.5 L267.4 237 L268.1 237.7 L268.9 238.6 L269.6 238.8 L270.3 241 L271 241.2 L271.7 242.8 L272.4 243.6 L273.1 245.6 L273.9 246.9 L274.6 249.4 L275.3 248.7 L276 243 L276.7 238.4 L277.4 232.2 L278.1 232 L278.8 231.2 L279.6 231.2 L280.3 230.7 L281 229.6 L281.7 229.3 L282.4 229.4 L283.1 228.9 L283.8 229 L284.6 228.9 L285.3 229.8 L286 228.4 L286.7 228.2 L287.4 228.1 L288.1 229.3 L288.8 231.5 L289.5 233.6 L290.3 234.2 L291 236.1 L291.7 238.6 L292.4 240.4 L293.1 242.3 L293.8 238.3 L294.5 233.8 L295.2 230.7 L296 230.2 L296.7 229.3 L296.7 255.3 L296 255.9 L295.2 255.5 L294.5 255.9 L293.8 256.8 L293.1 257.5 L292.4 256.3 L291.7 256.7 L291 256.2 L290.3 256.2 L289.5 254.8 L288.8 255.5 L288.1 254.8 L287.4 254.5 L286.7 254.9 L286 254.4 L285.3 254.6 L284.6 253.6 L283.8 253.6 L283.1 252.7 L282.4 252.9 L281.7 254.2 L281 254.1 L280.3 252.5 L279.6 254.8 L278.8 254.3 L278.1 254.6 L277.4 254.9 L276.7 255.9 L276 256.9 L275.3 256.8 L274.6 257.8 L273.9 258.7 L273.1 256.8 L272.4 257.3 L271.7 257.5 L271 256 L270.3 256.9 L269.6 256.5 L268.9 256.2 L268.1 256.3 L267.4 255.8 L266.7 255.3 L266 255.8 L265.3 255.8 L264.6 256.6 L263.9 257 L263.2 256.2 L262.4 256.7 L261.7 256.8 L261 256.2 L260.3 257.9 L259.6 257.3 L258.9 257.5 L258.2 257.1 L257.4 258.1 L256.7 258.5 L256 258.8 L255.3 259.2 L254.6 257.1 L253.9 257.5 L253.2 256.3 L252.5 257.1 L251.7 256.2 L251 254.5 L250.3 252.4 L249.6 252.9 L248.9 252.1 L248.2 252.3 L247.5 254.1 L246.8 254.3 L246 255.4 L245.3 255.8 L244.6 257.2 L243.9 256.6 L243.2 257.6 L242.5 258.9 L241.8 258.8 L241 260 L240.3 261.1 L239.6 259.5 L238.9 258.8 L238.2 259.1 L237.5 258.8 L236.8 260.8 L236.1 262.6 L235.3 262.1 L234.6 261.5 L233.9 260.1 L233.2 260.5 L232.5 260.2 L231.8 260.8 L231.1 260.8 L230.3 260.9 L229.6 260.7 L228.9 260.5 L228.2 259.3 L227.5 259.3 L226.8 260.4 L226.1 259.7 L225.4 259.8 L224.6 261.2 L223.9 259.2 L223.2 261.4 L222.5 260.6 L221.8 261.1 L221.1 260.2 L220.4 260.6 L219.6 260.8 L218.9 261.1 L218.2 261.7 L217.5 262 L216.8 260.1 L216.1 258.8 L215.4 258.8 L214.7 259.3 L213.9 258.2 L213.2 257.5 L212.5 256.4 L211.8 255.7 L211.1 255.1 L210.4 253.9 L209.7 253.9 L209 256.6 L208.2 257.7 L207.5 258.2 L206.8 259.6 L206.1 260.7 L205.4 260.7 L204.7 262.3 L204 263.5 L203.2 262.4 L202.5 260.1 L201.8 258.9 L201.1 258 L200.4 255.9 L199.7 253.9 L199 252.4 L198.3 250.9 L197.5 249.6 L196.8 249.8 L196.1 250.4 L195.4 250.8 L194.7 251.4 L194 252.2 L193.3 253.1 L192.5 253.1 L191.8 253.9 L191.1 255 L190.4 255.1 L189.7 256 L189 257.5 L188.3 257.9 L187.6 259.2 L186.8 256.8 L186.1 255.8 L185.4 252.2 L184.7 251.3 L184 249.5 L183.3 247 L182.6 246.3 L181.9 243.6 L181.1 242.5 L180.4 241.9 L179.7 243.3 L179 244.2 L178.3 245.4 L177.6 246.2 L176.9 248.8 L176.1 249.5 L175.4 251 L174.7 252.4 L174 252.5 L173.3 254.2 L172.6 255.7 L171.9 257.3 L171.2 258 L170.4 258.6 L169.7 257.5 L169 255.9 L168.3 252.4 L167.6 250 L166.9 248.1 L166.2 245.5 L165.4 243.3 L164.7 239.3 L164 236.7 L163.3 236.5 L162.6 237.7 L161.9 239.2 L161.2 240.9 L160.5 242.5 L159.7 245.1 L159 247 L158.3 248.2 L157.6 248.7 L156.9 252.7 L156.2 253.6 L155.5 255.3 L154.7 257.1 L154 259.3 L153.3 260.7 L152.6 261.2 L151.9 259.3 L151.2 256.7 L150.5 254.5 L149.8 252.5 L149 249.6 L148.3 247.5 L147.6 245.8 L146.9 243.5 L146.2 240.5 L145.5 242.7 L144.8 242.5 L144.1 244.2 L143.3 245.1 L142.6 246.9 L141.9 247.6 L141.2 249.1 L140.5 250.3 L139.8 250.3 L139.1 252.3 L138.3 254.3 L137.6 254.6 L136.9 255.5 L136.2 255.4 L135.5 254.7 L134.8 252.7 L134.1 250.8 L133.4 249.3 L132.6 248.1 L131.9 245.9 L131.2 244.1 L130.5 241.4 L129.8 241.2 L129.1 245.3 L128.4 250.2 L127.6 250.3 L126.9 251.1 L126.2 249.8 L125.5 250.7 L124.8 250.1 L124.1 250.4 L123.4 250.3 L122.7 250.6 L121.9 249.9 L121.2 249.8 L120.5 250 L119.8 249.6 L119.1 249.7 L118.4 250.1 L117.7 250.2 L116.9 249.8 L116.2 250 L115.5 250.3 L114.8 249.9 L114.1 250.3 L113.4 249.1 L112.7 248.9 L112 249.2 L111.2 250 L110.5 249.1 L109.8 249.6 L109.1 249.9 L108.4 248.4 L107.7 251.1 L107 251.9 L106.3 250.6 L105.5 251.8 L104.8 252.8 L104.1 253.6 L103.4 254.9 L102.7 255.1 L102 255.9 L101.3 257.8 L100.5 257 L99.8 255.7 L99.1 256.4 L98.4 256.7 L97.7 256.8 L97 255.9 L96.3 256.2 L95.6 256.1 L94.8 255.5 L94.1 256 L93.4 257.2 L92.7 255.7 L92 254.3 L91.3 256 L90.6 256.1 L89.8 257 L89.1 256.6 L88.4 258.4 L87.7 258.3 L87 259.4 L86.3 258.7 L85.6 259.9 L84.9 261 L84.1 260.6 L83.4 261.7 L82.7 262.1 L82 262 L81.3 263 L80.6 263.3 L79.9 262.6 L79.1 260.8 L78.4 261.2 L77.7 261.3 L77 260.4 L76.3 259.6 L75.6 260.4 L74.9 260.5 L74.2 260.8 L73.4 260.3 L72.7 259.5 L72 260.3 L71.3 259.4 L70.6 261.1 L69.9 261 L69.2 261.7 L68.5 262.8 L67.7 263.7 L67 263.1 L66.3 263.1 L65.6 263.7 L64.9 263.7 L64.2 262.7 L63.5 261.2 L62.7 262.3 L62 260.7 L61.3 260.4 L60.6 259.8 L59.9 259.6 L59.2 259.5 L58.5 258.3 L57.8 259.3 L57 258.1 L56.3 256.6 L55.6 257 L54.9 255.7 L54.2 257.4 L53.5 258.6 L52.8 259.8 L52 259.2 L51.3 260.5 L50.6 263.2 L49.9 263.9 L49.2 262.8 L48.5 262.9 L47.8 262.4 L47.1 262.4 L46.3 262.5 L45.6 261.8 L44.9 261.4 L44.2 261.5 L43.5 261.6 L42.8 261.9 L42.1 259.7 L41.4 260.7Z" fill="rgb(25,25,240)" fill-opacity="0.11"/><path d="M41.4 255.9 L42.1 258.2 L42.8 257.6 L43.5 258.2 L44.2 257.6 L44.9 257.1 L45.6 258 L46.3 258.7 L47.1 259.3 L47.8 260.1 L48.5 259.3 L49.2 260.2 L49.9 259.1 L50.6 259.6 L51.3 258.4 L52 257.3 L52.8 256 L53.5 254.3 L54.2 254 L54.9 252.9 L55.6 253.4 L56.3 253.2 L57 254.9 L57.8 254.8 L58.5 256.8 L59.2 256.9 L59.9 255.9 L60.6 255.7 L61.3 257.9 L62 257.7 L62.7 257.7 L63.5 258.5 L64.2 259.9 L64.9 259.7 L65.6 259.8 L66.3 260.3 L67 260 L67.7 259.7 L68.5 259.1 L69.2 257.7 L69.9 257.2 L70.6 257 L71.3 256.1 L72 256.6 L72.7 256.6 L73.4 255.9 L74.2 256.5 L74.9 256.8 L75.6 255.9 L76.3 256 L77 257.2 L77.7 257.8 L78.4 256.6 L79.1 258.2 L79.9 259.8 L80.6 259.9 L81.3 258.9 L82 258.7 L82.7 258.2 L83.4 258.3 L84.1 256.3 L84.9 254.8 L85.6 252.2 L86.3 250.8 L87 248.4 L87.7 246.8 L88.4 244.9 L89.1 241.3 L89.8 240.7 L90.6 239 L91.3 236.8 L92 237 L92.7 237.2 L93.4 237.3 L94.1 239.3 L94.8 239.9 L95.6 240.5 L96.3 241.8 L97 241.9 L97.7 241.7 L98.4 243.1 L99.1 244.7 L99.8 245.3 L100.5 246.2 L101.3 247 L102 244.3 L102.7 242.7 L103.4 240.8 L104.1 239.6 L104.8 237.7 L105.5 235 L106.3 232.9 L107 231.7 L107.7 228.8 L108.4 227 L109.1 226.3 L109.8 226.4 L110.5 226 L111.2 226.7 L112 226 L112.7 226 L113.4 225.2 L114.1 225.9 L114.8 225.6 L115.5 224.8 L116.2 225.4 L116.9 225.3 L117.7 225.1 L118.4 225.2 L119.1 224.5 L119.8 224.4 L120.5 224 L121.2 222.2 L121.9 221.4 L122.7 221.7 L123.4 220.9 L124.1 220.6 L124.8 219.7 L125.5 218.1 L126.2 217.8 L126.9 217.5 L127.6 216.5 L128.4 216.2 L129.1 217.1 L129.8 214.5 L130.5 216.1 L131.2 218.4 L131.9 220 L132.6 222.1 L133.4 223.1 L134.1 224.2 L134.8 227.1 L135.5 228.8 L136.2 229.7 L136.9 229 L137.6 229.6 L138.3 227.3 L139.1 225.8 L139.8 225.8 L140.5 223.2 L141.2 222.1 L141.9 220.9 L142.6 220.2 L143.3 218.9 L144.1 217.2 L144.8 217 L145.5 214.8 L146.2 213.4 L146.9 215.5 L147.6 217.2 L148.3 218.6 L149 220.4 L149.8 222.2 L150.5 223.7 L151.2 225.5 L151.9 228.7 L152.6 229.5 L153.3 229.2 L154 228 L154.7 226.3 L155.5 224.6 L156.2 223.8 L156.9 222.7 L157.6 221 L158.3 218.9 L159 217.9 L159.7 216.7 L160.5 214.7 L161.2 213.5 L161.9 212.8 L162.6 211.7 L163.3 210.3 L164 209.6 L164.7 212.4 L165.4 214.7 L166.2 216.9 L166.9 218.1 L167.6 221 L168.3 222.4 L169 224.8 L169.7 225.5 L170.4 227.3 L171.2 226.5 L171.9 227 L172.6 226.4 L173.3 225.5 L174 225.2 L174.7 223.8 L175.4 224 L176.1 223.4 L176.9 222.4 L177.6 221.8 L178.3 221 L179 220.1 L179.7 221.1 L180.4 219.7 L181.1 220 L181.9 223.4 L182.6 225.9 L183.3 228.3 L184 230.6 L184.7 233 L185.4 237 L186.1 240.6 L186.8 242.6 L187.6 245 L188.3 244.1 L189 243.4 L189.7 240 L190.4 237.8 L191.1 237.4 L191.8 235.2 L192.5 233.7 L193.3 232.8 L194 230.3 L194.7 228.9 L195.4 227.2 L196.1 226.4 L196.8 224.6 L197.5 224.8 L198.3 228.3 L199 229.5 L199.7 234.5 L200.4 238.2 L201.1 240.2 L201.8 242.9 L202.5 246 L203.2 249.5 L204 250.8 L204.7 248.2 L205.4 247.6 L206.1 246.7 L206.8 243.9 L207.5 242.7 L208.2 240.1 L209 239.4 L209.7 237.1 L210.4 235.1 L211.1 237.2 L211.8 240.9 L212.5 244.5 L213.2 247.8 L213.9 251.7 L214.7 254.2 L215.4 253.6 L216.1 254.2 L216.8 255.7 L217.5 256 L218.2 257.7 L218.9 257.7 L219.6 257.3 L220.4 258.6 L221.1 256.2 L221.8 257.5 L222.5 256.8 L223.2 257.3 L223.9 257 L224.6 255.6 L225.4 256.6 L226.1 256.8 L226.8 255.3 L227.5 256.1 L228.2 255.5 L228.9 257.4 L229.6 256.9 L230.3 256.4 L231.1 257.6 L231.8 257.6 L232.5 257.7 L233.2 256.4 L233.9 256.8 L234.6 257.4 L235.3 258.2 L236.1 257.8 L236.8 257.5 L237.5 256 L238.2 255.1 L238.9 256.7 L239.6 256.6 L240.3 255.1 L241 255.7 L241.8 255.4 L242.5 256.3 L243.2 254.3 L243.9 253.1 L244.6 253.3 L245.3 252.2 L246 251.9 L246.8 250.6 L247.5 250.4 L248.2 250.4 L248.9 249.2 L249.6 248.6 L250.3 249.3 L251 252 L251.7 254.1 L252.5 253.5 L253.2 252.9 L253.9 252.9 L254.6 254.1 L255.3 254.8 L256 255 L256.7 252.4 L257.4 251 L258.2 249.3 L258.9 248 L259.6 247.4 L260.3 244.4 L261 242.1 L261.7 241.6 L262.4 241 L263.2 240.1 L263.9 238.4 L264.6 237.8 L265.3 238.5 L266 237.5 L266.7 238.3 L267.4 238.6 L268.1 238.6 L268.9 238.3 L269.6 240.1 L270.3 240.4 L271 242.1 L271.7 244.3 L272.4 245 L273.1 246 L273.9 247.4 L274.6 249.2 L275.3 249.8 L276 244.4 L276.7 239 L277.4 233.6 L278.1 233.4 L278.8 232.9 L279.6 232.5 L280.3 232.4 L281 232.7 L281.7 232 L282.4 231 L283.1 231.1 L283.8 230.6 L284.6 231.2 L285.3 230.5 L286 229.4 L286.7 229.6 L287.4 229.6 L288.1 230.5 L288.8 233.5 L289.5 233.8 L290.3 236.6 L291 238.2 L291.7 239.6 L292.4 242 L293.1 243.6 L293.8 239.3 L294.5 236 L295.2 231.3 L296 231.6 L296.7 231.9 L296.7 253.9 L296 253.4 L295.2 253.3 L294.5 254.3 L293.8 255.3 L293.1 256.8 L292.4 255.7 L291.7 255.1 L291 254.2 L290.3 253.2 L289.5 253.5 L288.8 252.6 L288.1 253.9 L287.4 252.1 L286.7 252.4 L286 251.4 L285.3 251.4 L284.6 250.6 L283.8 251.9 L283.1 251.9 L282.4 250.8 L281.7 250.9 L281 251.8 L280.3 252.7 L279.6 252 L278.8 251.8 L278.1 252.8 L277.4 252.9 L276.7 254.4 L276 256.2 L275.3 257.7 L274.6 257.1 L273.9 256 L273.1 257.1 L272.4 255.6 L271.7 255.5 L271 254.8 L270.3 254.8 L269.6 255.1 L268.9 255.2 L268.1 253.6 L267.4 254.6 L266.7 253.6 L266 255.3 L265.3 254.1 L264.6 255.1 L263.9 255.2 L263.2 254.9 L262.4 255.2 L261.7 255.2 L261 254.5 L260.3 256.4 L259.6 257.5 L258.9 255.3 L258.2 256.6 L257.4 257.1 L256.7 259.2 L256 259.6 L255.3 258.5 L254.6 257.7 L253.9 256.1 L253.2 256.4 L252.5 256.6 L251.7 256.8 L251 254.5 L250.3 253 L249.6 252.5 L248.9 251.9 L248.2 252.6 L247.5 253.8 L246.8 254.4 L246 255.3 L245.3 254.7 L244.6 256.9 L243.9 256.7 L243.2 257.5 L242.5 258.6 L241.8 258.7 L241 258.7 L240.3 260.2 L239.6 260.2 L238.9 260.4 L238.2 258.6 L237.5 259.7 L236.8 260.4 L236.1 261.7 L235.3 261.2 L234.6 260.4 L233.9 259.9 L233.2 260.4 L232.5 259.7 L231.8 260.4 L231.1 261.2 L230.3 260.2 L229.6 259.9 L228.9 259.7 L228.2 258.5 L227.5 258.8 L226.8 258.5 L226.1 258.1 L225.4 259.9 L224.6 259.9 L223.9 260.5 L223.2 261 L222.5 260.7 L221.8 260.5 L221.1 260.6 L220.4 259.6 L219.6 260.1 L218.9 260.7 L218.2 261.8 L217.5 261.1 L216.8 259.8 L216.1 258.5 L215.4 259.1 L214.7 258.9 L213.9 257.2 L213.2 256.7 L212.5 255.5 L211.8 253 L211.1 253.2 L210.4 253.1 L209.7 253.6 L209 254.6 L208.2 256.2 L207.5 257.1 L206.8 257.5 L206.1 258.8 L205.4 260.2 L204.7 261 L204 263 L203.2 260.9 L202.5 258.8 L201.8 257.3 L201.1 256.8 L200.4 253.6 L199.7 253.5 L199 250.7 L198.3 249.5 L197.5 246.7 L196.8 247.2 L196.1 248.1 L195.4 248.3 L194.7 249.5 L194 249.1 L193.3 250.7 L192.5 251.6 L191.8 251.8 L191.1 253.2 L190.4 253.8 L189.7 255 L189 255.3 L188.3 255.8 L187.6 257.9 L186.8 254.5 L186.1 253.8 L185.4 251 L184.7 249.9 L184 247.4 L183.3 246.9 L182.6 244.1 L181.9 242.2 L181.1 240.7 L180.4 239.8 L179.7 241.1 L179 242.6 L178.3 243.8 L177.6 245.3 L176.9 245.1 L176.1 247.1 L175.4 247.7 L174.7 249.1 L174 250.8 L173.3 251.9 L172.6 253.8 L171.9 254.5 L171.2 255.2 L170.4 256.9 L169.7 255.3 L169 253.1 L168.3 250 L167.6 247.4 L166.9 245.3 L166.2 242.3 L165.4 239.8 L164.7 237.5 L164 236.1 L163.3 235.1 L162.6 235.2 L161.9 238.1 L161.2 239.7 L160.5 240.8 L159.7 242.4 L159 244.8 L158.3 245.6 L157.6 247.5 L156.9 250.5 L156.2 251.7 L155.5 253.6 L154.7 253.4 L154 256 L153.3 257.6 L152.6 257.9 L151.9 255.6 L151.2 254.7 L150.5 251.4 L149.8 250.2 L149 247.5 L148.3 245.8 L147.6 243.6 L146.9 240.9 L146.2 237.9 L145.5 239.1 L144.8 240.6 L144.1 242.3 L143.3 243.6 L142.6 244.4 L141.9 245.4 L141.2 247.2 L140.5 247.6 L139.8 248.9 L139.1 250.7 L138.3 252.4 L137.6 252.7 L136.9 253.6 L136.2 253.8 L135.5 251.5 L134.8 251.3 L134.1 248 L133.4 247.4 L132.6 245.1 L131.9 244.8 L131.2 241.4 L130.5 240.5 L129.8 238.5 L129.1 243.8 L128.4 246.9 L127.6 249.1 L126.9 247.9 L126.2 248.5 L125.5 247.6 L124.8 247.3 L124.1 248.4 L123.4 247.6 L122.7 248.3 L121.9 248.2 L121.2 247.7 L120.5 247.3 L119.8 247.4 L119.1 248.2 L118.4 248.7 L117.7 248.5 L116.9 247.9 L116.2 248.5 L115.5 248.1 L114.8 247.1 L114.1 247.8 L113.4 247.5 L112.7 249 L112 247.7 L111.2 248.4 L110.5 247 L109.8 246.9 L109.1 247.6 L108.4 249.2 L107.7 249.5 L107 249.2 L106.3 250.2 L105.5 251.5 L104.8 253.3 L104.1 252.8 L103.4 254 L102.7 253.5 L102 255.5 L101.3 255.5 L100.5 254.7 L99.8 255.2 L99.1 255.7 L98.4 255.2 L97.7 254.6 L97 255 L96.3 255.4 L95.6 254.4 L94.8 255.3 L94.1 255.3 L93.4 254.4 L92.7 253.6 L92 254.4 L91.3 254.5 L90.6 254.6 L89.8 256 L89.1 256.1 L88.4 257 L87.7 257.8 L87 258.2 L86.3 259.6 L85.6 259.9 L84.9 259.4 L84.1 261.8 L83.4 261.1 L82.7 261.3 L82 261.7 L81.3 261.6 L80.6 262 L79.9 262 L79.1 262.2 L78.4 260.7 L77.7 261.2 L77 260.2 L76.3 259.7 L75.6 259.7 L74.9 259.9 L74.2 260.1 L73.4 260 L72.7 259.6 L72 259.3 L71.3 260.7 L70.6 260.3 L69.9 260.6 L69.2 261.8 L68.5 261.1 L67.7 262 L67 262.6 L66.3 263.9 L65.6 263 L64.9 263 L64.2 262.5 L63.5 261.4 L62.7 260.8 L62 260.3 L61.3 260.2 L60.6 259.4 L59.9 258.7 L59.2 258.8 L58.5 259.1 L57.8 258.6 L57 258.2 L56.3 258.6 L55.6 256.6 L54.9 255.4 L54.2 256.6 L53.5 258.5 L52.8 260.2 L52 260.4 L51.3 261.3 L50.6 263 L49.9 262.9 L49.2 263.2 L48.5 264 L47.8 263.2 L47.1 262.5 L46.3 261.8 L45.6 261.2 L44.9 261.5 L44.2 261.1 L43.5 261.3 L42.8 261.5 L42.1 260.1 L41.4 259.6Z" fill="rgb(25,25,240)" fill-opacity="0.11"/><path d="M41.4 257.6 L42.1 257.3 L42.8 257.7 L43.5 257.9 L44.2 257.5 L44.9 257.5 L45.6 258 L46.3 259.2 L47.1 259.5 L47.8 259.5 L48.5 261 L49.2 261.2 L49.9 259.7 L50.6 260.3 L51.3 258.9 L52 256.9 L52.8 256 L53.5 256 L54.2 254.1 L54.9 252.3 L55.6 253.1 L56.3 254.1 L57 253.7 L57.8 256.2 L58.5 256.1 L59.2 256 L59.9 256.8 L60.6 256.6 L61.3 257.1 L62 257.5 L62.7 258.5 L63.5 259.2 L64.2 259.8 L64.9 258.5 L65.6 260 L66.3 259.9 L67 259.8 L67.7 260 L68.5 259.2 L69.2 258.6 L69.9 258 L70.6 257 L71.3 257.2 L72 257 L72.7 257.8 L73.4 258 L74.2 257.3 L74.9 257.1 L75.6 256.5 L76.3 256.7 L77 257.7 L77.7 257.5 L78.4 258.5 L79.1 259.5 L79.9 258.2 L80.6 260 L81.3 259.6 L82 259.3 L82.7 258.3 L83.4 258 L84.1 256.2 L84.9 256 L85.6 253 L86.3 251.8 L87 250.2 L87.7 248 L88.4 246.4 L89.1 244 L89.8 242.9 L90.6 240.2 L91.3 239 L92 237.9 L92.7 238.7 L93.4 239.6 L94.1 241.1 L94.8 241.4 L95.6 242.1 L96.3 243.8 L97 243.3 L97.7 244.3 L98.4 245.3 L99.1 245.1 L99.8 246.5 L100.5 246.4 L101.3 248.5 L102 247.2 L102.7 245.7 L103.4 242.4 L104.1 240.9 L104.8 238.7 L105.5 235.6 L106.3 235.3 L107 233 L107.7 232.2 L108.4 230.5 L109.1 228 L109.8 228 L110.5 228.7 L111.2 229 L112 228.8 L112.7 227.5 L113.4 228.1 L114.1 228 L114.8 228.5 L115.5 228.1 L116.2 227.9 L116.9 228.3 L117.7 227.6 L118.4 227.6 L119.1 227.8 L119.8 226.8 L120.5 226.3 L121.2 225.4 L121.9 225.6 L122.7 224.7 L123.4 222.9 L124.1 223.9 L124.8 222.8 L125.5 222.4 L126.2 221.7 L126.9 221.5 L127.6 220.7 L128.4 218.9 L129.1 219 L129.8 217.5 L130.5 219.4 L131.2 220.4 L131.9 223.3 L132.6 223.6 L133.4 226.3 L134.1 227.3 L134.8 229.4 L135.5 230.7 L136.2 231.5 L136.9 232.8 L137.6 230.8 L138.3 230 L139.1 228.9 L139.8 227.5 L140.5 226.1 L141.2 225.2 L141.9 224.2 L142.6 223.2 L143.3 221.2 L144.1 220.8 L144.8 218.9 L145.5 217.9 L146.2 217 L146.9 217.9 L147.6 219.4 L148.3 222 L149 224.2 L149.8 224.4 L150.5 227 L151.2 230 L151.9 229.8 L152.6 232 L153.3 232.5 L154 231.3 L154.7 230.4 L155.5 228.7 L156.2 226.4 L156.9 225 L157.6 223.9 L158.3 222.6 L159 221.1 L159.7 219.2 L160.5 218.2 L161.2 217.3 L161.9 215.7 L162.6 214.6 L163.3 213.1 L164 213.5 L164.7 215.3 L165.4 217.7 L166.2 218.6 L166.9 221.8 L167.6 223.7 L168.3 226 L169 227.8 L169.7 229.1 L170.4 231 L171.2 231.1 L171.9 229.1 L172.6 228.6 L173.3 229.1 L174 227.7 L174.7 226.9 L175.4 226.9 L176.1 225.5 L176.9 224.7 L177.6 224.6 L178.3 224.8 L179 223.8 L179.7 222 L180.4 222.3 L181.1 222.8 L181.9 224.9 L182.6 228 L183.3 230.6 L184 233.8 L184.7 235.6 L185.4 239.3 L186.1 241.5 L186.8 243.5 L187.6 246.7 L188.3 244.8 L189 243.7 L189.7 242.3 L190.4 240.5 L191.1 238.5 L191.8 238 L192.5 237 L193.3 234.1 L194 233.7 L194.7 232 L195.4 228.9 L196.1 228 L196.8 227.1 L197.5 228.2 L198.3 230.5 L199 233.3 L199.7 236.9 L200.4 238.6 L201.1 241.3 L201.8 244.5 L202.5 247.7 L203.2 250.5 L204 252.1 L204.7 250.6 L205.4 248.8 L206.1 247.2 L206.8 246.5 L207.5 243.1 L208.2 243.3 L209 240.8 L209.7 239.8 L210.4 237.8 L211.1 239.1 L211.8 243.3 L212.5 244.9 L213.2 249 L213.9 251.5 L214.7 253.4 L215.4 254.6 L216.1 254.1 L216.8 255.6 L217.5 256.5 L218.2 258.2 L218.9 258.6 L219.6 257.9 L220.4 257 L221.1 258.1 L221.8 257.9 L222.5 258.2 L223.2 256.9 L223.9 257.7 L224.6 258 L225.4 256.8 L226.1 256.9 L226.8 256.3 L227.5 255.5 L228.2 256.6 L228.9 257.2 L229.6 256.4 L230.3 258.6 L231.1 257.3 L231.8 257.1 L232.5 259 L233.2 257.7 L233.9 256.5 L234.6 258.3 L235.3 257.5 L236.1 258.1 L236.8 258.3 L237.5 256.4 L238.2 256.4 L238.9 256.9 L239.6 255.8 L240.3 257.7 L241 256.2 L241.8 255.2 L242.5 255 L243.2 255 L243.9 253.5 L244.6 252.9 L245.3 252.7 L246 251.8 L246.8 250.8 L247.5 250.6 L248.2 249.4 L248.9 249.6 L249.6 249.4 L250.3 250.4 L251 252.5 L251.7 254.2 L252.5 252.2 L253.2 253.6 L253.9 253.1 L254.6 254.4 L255.3 255.3 L256 255.2 L256.7 254.3 L257.4 251.8 L258.2 251.7 L258.9 248.5 L259.6 248.2 L260.3 246.6 L261 245 L261.7 242.7 L262.4 242.6 L263.2 241 L263.9 240.2 L264.6 240.7 L265.3 239.1 L266 240.6 L266.7 240.9 L267.4 240.4 L268.1 240.3 L268.9 241.3 L269.6 241.3 L270.3 242.6 L271 245.3 L271.7 244.6 L272.4 245.6 L273.1 249.1 L273.9 248.6 L274.6 250.3 L275.3 251.6 L276 246 L276.7 241.5 L277.4 235.9 L278.1 236 L278.8 235.3 L279.6 235.2 L280.3 234.1 L281 233.7 L281.7 233.6 L282.4 233.8 L283.1 233.4 L283.8 233.8 L284.6 232.5 L285.3 232.5 L286 232.6 L286.7 232 L287.4 231.5 L288.1 233.8 L288.8 235.9 L289.5 236.1 L290.3 238.1 L291 240.8 L291.7 241.4 L292.4 243 L293.1 245.1 L293.8 240.5 L294.5 238.6 L295.2 234.3 L296 234.2 L296.7 234.3 L296.7 251.3 L296 250.9 L295.2 250.8 L294.5 252 L293.8 253.4 L293.1 254.8 L292.4 254.4 L291.7 252.8 L291 253.3 L290.3 252.7 L289.5 251.4 L288.8 250.1 L288.1 250.1 L287.4 249.1 L286.7 248.7 L286 250.9 L285.3 249.5 L284.6 249.3 L283.8 248.9 L283.1 249.7 L282.4 248.8 L281.7 249.5 L281 250.1 L280.3 249.5 L279.6 249 L278.8 249.6 L278.1 249.4 L277.4 250.3 L276.7 252.7 L276 254.5 L275.3 256.1 L274.6 255.9 L273.9 255.4 L273.1 254.8 L272.4 255.8 L271.7 254.8 L271 253.4 L270.3 253.5 L269.6 253.2 L268.9 252.3 L268.1 253.3 L267.4 252.5 L266.7 252.3 L266 252.8 L265.3 252.7 L264.6 252.7 L263.9 252.6 L263.2 254.4 L262.4 253.2 L261.7 253.8 L261 254.8 L260.3 254.8 L259.6 255.7 L258.9 255.5 L258.2 256.7 L257.4 255.9 L256.7 257.7 L256 258.8 L255.3 257.5 L254.6 256.8 L253.9 256.4 L253.2 256.3 L252.5 256.2 L251.7 256.1 L251 253.3 L250.3 253 L249.6 251.2 L248.9 252.5 L248.2 253 L247.5 253.5 L246.8 253.3 L246 254.3 L245.3 255.8 L244.6 255.5 L243.9 256.2 L243.2 256.9 L242.5 257 L241.8 258.6 L241 259.1 L240.3 259.4 L239.6 259 L238.9 258.1 L238.2 259.4 L237.5 258.5 L236.8 259.3 L236.1 261.3 L235.3 261.6 L234.6 261.4 L233.9 259.7 L233.2 259.6 L232.5 259.8 L231.8 260.7 L231.1 260.7 L230.3 259.7 L229.6 259.5 L228.9 260.3 L228.2 259 L227.5 258.3 L226.8 258 L226.1 259.5 L225.4 258.1 L224.6 259.4 L223.9 259.9 L223.2 260.9 L222.5 260.5 L221.8 259.9 L221.1 259.4 L220.4 259.9 L219.6 259.8 L218.9 261.3 L218.2 260.9 L217.5 260.6 L216.8 259 L216.1 258.3 L215.4 257.7 L214.7 258 L213.9 256.8 L213.2 255.3 L212.5 253.6 L211.8 252.3 L211.1 251.5 L210.4 249.9 L209.7 251.4 L209 253.3 L208.2 254.6 L207.5 254.9 L206.8 256.5 L206.1 257.7 L205.4 258.9 L204.7 259.4 L204 260.9 L203.2 259.7 L202.5 258.2 L201.8 256.7 L201.1 253.7 L200.4 252.2 L199.7 249.2 L199 247.3 L198.3 246.6 L197.5 244.6 L196.8 245.3 L196.1 245.7 L195.4 246.7 L194.7 246.1 L194 248.1 L193.3 249 L192.5 250.1 L191.8 250.4 L191.1 251.8 L190.4 253.1 L189.7 253.1 L189 253.5 L188.3 254.7 L187.6 255.1 L186.8 254.7 L186.1 251.8 L185.4 250.4 L184.7 248.4 L184 246.3 L183.3 244.3 L182.6 241.6 L181.9 239.7 L181.1 238.2 L180.4 238 L179.7 238.6 L179 240.5 L178.3 241.2 L177.6 242.4 L176.9 243.8 L176.1 243.9 L175.4 245.2 L174.7 247.7 L174 247.4 L173.3 248.8 L172.6 249.5 L171.9 250.6 L171.2 251.9 L170.4 253.6 L169.7 251.3 L169 250.5 L168.3 247 L167.6 245 L166.9 242.5 L166.2 239.3 L165.4 238.3 L164.7 234.1 L164 232.3 L163.3 231.8 L162.6 233.3 L161.9 234.4 L161.2 235.6 L160.5 237.7 L159.7 238.1 L159 241.6 L158.3 242.7 L157.6 244.3 L156.9 245.8 L156.2 247.1 L155.5 249.2 L154.7 250.9 L154 252.4 L153.3 254.3 L152.6 255 L151.9 253.3 L151.2 249.9 L150.5 248.8 L149.8 245.4 L149 244.7 L148.3 242.3 L147.6 239.5 L146.9 237.3 L146.2 236.6 L145.5 237.6 L144.8 238.1 L144.1 239.9 L143.3 240.5 L142.6 242 L141.9 242.7 L141.2 244.1 L140.5 245.7 L139.8 246.4 L139.1 247 L138.3 249.8 L137.6 249.8 L136.9 251.5 L136.2 251.8 L135.5 249 L134.8 248 L134.1 245.9 L133.4 244.4 L132.6 241.8 L131.9 241.9 L131.2 239.3 L130.5 238.3 L129.8 236 L129.1 239.2 L128.4 242.8 L127.6 243.8 L126.9 245.3 L126.2 245 L125.5 245 L124.8 245.2 L124.1 244.9 L123.4 245.4 L122.7 246.5 L121.9 245.2 L121.2 244.5 L120.5 245 L119.8 245.8 L119.1 245 L118.4 245.3 L117.7 246.4 L116.9 245.2 L116.2 245.8 L115.5 244.6 L114.8 245.5 L114.1 244.3 L113.4 244.8 L112.7 244.6 L112 245.3 L111.2 244.9 L110.5 244.9 L109.8 244.4 L109.1 244.5 L108.4 245.5 L107.7 246.1 L107 248.1 L106.3 248 L105.5 249.2 L104.8 250 L104.1 251.2 L103.4 251.7 L102.7 252.2 L102 254.1 L101.3 255.4 L100.5 254.6 L99.8 254.1 L99.1 254.3 L98.4 255.1 L97.7 253.7 L97 253.5 L96.3 252.8 L95.6 252.6 L94.8 252.6 L94.1 253.4 L93.4 252.2 L92.7 252.1 L92 252 L91.3 252.3 L90.6 253.7 L89.8 254.7 L89.1 254.8 L88.4 254.9 L87.7 255.7 L87 257.3 L86.3 257.7 L85.6 257.5 L84.9 259.8 L84.1 260.3 L83.4 260.1 L82.7 261.3 L82 262.6 L81.3 261.2 L80.6 261.6 L79.9 261.5 L79.1 260.9 L78.4 260.9 L77.7 259.7 L77 260 L76.3 258.7 L75.6 259.1 L74.9 259.7 L74.2 260.6 L73.4 259.8 L72.7 259 L72 259.1 L71.3 259.5 L70.6 260 L69.9 260.5 L69.2 260.9 L68.5 261.2 L67.7 262.9 L67 262.6 L66.3 263.1 L65.6 263.1 L64.9 262.6 L64.2 262.2 L63.5 261.1 L62.7 261.1 L62 260.5 L61.3 259.6 L60.6 258.5 L59.9 259.1 L59.2 258.1 L58.5 258.7 L57.8 258.5 L57 257.8 L56.3 256.6 L55.6 255 L54.9 255 L54.2 255.9 L53.5 257.1 L52.8 258.8 L52 260.3 L51.3 260.8 L50.6 261.5 L49.9 262.3 L49.2 262.6 L48.5 263.5 L47.8 262.6 L47.1 262.5 L46.3 262.4 L45.6 260.8 L44.9 260.1 L44.2 260.8 L43.5 261.5 L42.8 259.3 L42.1 260.2 L41.4 259.7Z" fill="rgb(25,25,240)" fill-opacity="0.11"/><path d="M41.4 257.3 L42.1 258.5 L42.8 258.6 L43.5 259 L44.2 257.6 L44.9 258.7 L45.6 258.2 L46.3 259.4 L47.1 260 L47.8 260.3 L48.5 261.1 L49.2 259.7 L49.9 259.4 L50.6 259.9 L51.3 258.9 L52 257.9 L52.8 257.3 L53.5 256.5 L54.2 254.6 L54.9 252.5 L55.6 253.9 L56.3 255.3 L57 256.6 L57.8 256.3 L58.5 256.3 L59.2 256.7 L59.9 257.3 L60.6 257.3 L61.3 257.6 L62 257.4 L62.7 258.6 L63.5 259.5 L64.2 261.1 L64.9 259.7 L65.6 260.6 L66.3 260.9 L67 260.5 L67.7 260.4 L68.5 259.3 L69.2 259.2 L69.9 258.7 L70.6 258.7 L71.3 257.3 L72 257.6 L72.7 257.4 L73.4 257 L74.2 258.1 L74.9 256.9 L75.6 257.3 L76.3 256.6 L77 257.5 L77.7 257.9 L78.4 258.8 L79.1 259.4 L79.9 259.5 L80.6 260.6 L81.3 260.1 L82 260 L82.7 258.8 L83.4 257.9 L84.1 258.4 L84.9 256.6 L85.6 253.8 L86.3 252.9 L87 250.5 L87.7 250.2 L88.4 246.8 L89.1 246.7 L89.8 244.3 L90.6 242.4 L91.3 240.8 L92 240.9 L92.7 241.6 L93.4 242.7 L94.1 242.1 L94.8 243.5 L95.6 244.1 L96.3 244.2 L97 244.8 L97.7 245.6 L98.4 247 L99.1 247.1 L99.8 247.9 L100.5 248.3 L101.3 249.2 L102 247 L102.7 245.2 L103.4 244.6 L104.1 241.8 L104.8 241.5 L105.5 238.2 L106.3 237.3 L107 235.6 L107.7 233.8 L108.4 231.4 L109.1 231.5 L109.8 231.3 L110.5 230.7 L111.2 231.2 L112 232.1 L112.7 231 L113.4 231.2 L114.1 231.6 L114.8 230.8 L115.5 230.7 L116.2 231.3 L116.9 231.6 L117.7 229.8 L118.4 229.8 L119.1 231.3 L119.8 230 L120.5 229.6 L121.2 228.6 L121.9 228.5 L122.7 229.1 L123.4 226.5 L124.1 226.9 L124.8 226.5 L125.5 226.1 L126.2 225.5 L126.9 225.5 L127.6 224.6 L128.4 224.7 L129.1 222.1 L129.8 220.9 L130.5 222 L131.2 224.7 L131.9 226.7 L132.6 226.2 L133.4 228.7 L134.1 230.9 L134.8 232.4 L135.5 235.2 L136.2 236 L136.9 235.7 L137.6 234.4 L138.3 233.8 L139.1 231.7 L139.8 230.1 L140.5 228.9 L141.2 228.5 L141.9 226.1 L142.6 226 L143.3 224 L144.1 223.3 L144.8 223.2 L145.5 221.4 L146.2 219.5 L146.9 220.9 L147.6 223.2 L148.3 224.3 L149 227.9 L149.8 229.6 L150.5 230.8 L151.2 232.7 L151.9 234 L152.6 236.8 L153.3 236.2 L154 234.5 L154.7 233.1 L155.5 232.8 L156.2 230.1 L156.9 227.8 L157.6 227.4 L158.3 225.6 L159 225.2 L159.7 222.8 L160.5 220.9 L161.2 220 L161.9 218.1 L162.6 217.3 L163.3 215.8 L164 216.4 L164.7 219 L165.4 220.7 L166.2 222.7 L166.9 224.5 L167.6 227.7 L168.3 230.4 L169 231.4 L169.7 233.8 L170.4 235.6 L171.2 234.5 L171.9 233.2 L172.6 232.2 L173.3 232.1 L174 231.2 L174.7 230.2 L175.4 229.7 L176.1 228 L176.9 228 L177.6 227.5 L178.3 226.5 L179 225.3 L179.7 224.7 L180.4 225.4 L181.1 223.6 L181.9 228.2 L182.6 230.2 L183.3 232.1 L184 235 L184.7 238.9 L185.4 241.1 L186.1 242.4 L186.8 245.3 L187.6 249 L188.3 247.4 L189 246.3 L189.7 243.6 L190.4 242.6 L191.1 240.3 L191.8 240.3 L192.5 238.9 L193.3 236.4 L194 235.7 L194.7 234.9 L195.4 233.6 L196.1 231.4 L196.8 230 L197.5 230.5 L198.3 233 L199 236.2 L199.7 237.5 L200.4 242 L201.1 243.8 L201.8 246.2 L202.5 248.6 L203.2 251.8 L204 253.1 L204.7 252.1 L205.4 250.5 L206.1 249.1 L206.8 247.4 L207.5 246.2 L208.2 244.3 L209 242.7 L209.7 241.7 L210.4 240 L211.1 240.9 L211.8 243.6 L212.5 246.8 L213.2 250.2 L213.9 252.5 L214.7 254.5 L215.4 255.4 L216.1 255.7 L216.8 256.8 L217.5 258.4 L218.2 258.9 L218.9 258.7 L219.6 257.8 L220.4 257.6 L221.1 257.7 L221.8 258.9 L222.5 258.4 L223.2 258.6 L223.9 258 L224.6 256.4 L225.4 257.4 L226.1 255.8 L226.8 256.8 L227.5 256.7 L228.2 256.1 L228.9 256.7 L229.6 257.1 L230.3 258 L231.1 258.3 L231.8 258.1 L232.5 259.1 L233.2 257 L233.9 257.7 L234.6 257.6 L235.3 258.2 L236.1 258.9 L236.8 257.5 L237.5 256.6 L238.2 257.4 L238.9 256.7 L239.6 257.4 L240.3 257.3 L241 256.8 L241.8 256.6 L242.5 255.2 L243.2 253.4 L243.9 255.2 L244.6 254.4 L245.3 251.9 L246 252.5 L246.8 251.4 L247.5 251.4 L248.2 250.6 L248.9 248.8 L249.6 250.5 L250.3 250.8 L251 252.1 L251.7 255.1 L252.5 254 L253.2 254.1 L253.9 253.5 L254.6 255.4 L255.3 255.7 L256 255.4 L256.7 254.9 L257.4 252.6 L258.2 252 L258.9 251 L259.6 248.4 L260.3 247.4 L261 246.4 L261.7 244.8 L262.4 243.8 L263.2 243.9 L263.9 243 L264.6 242.6 L265.3 242.4 L266 240.8 L266.7 242.5 L267.4 242.7 L268.1 242.3 L268.9 242.2 L269.6 243.3 L270.3 244.8 L271 245.7 L271.7 247.4 L272.4 247.6 L273.1 248.5 L273.9 249.7 L274.6 249.9 L275.3 251.2 L276 247 L276.7 242.9 L277.4 238.9 L278.1 238.5 L278.8 237.5 L279.6 237.5 L280.3 236.7 L281 237.2 L281.7 237.1 L282.4 235.7 L283.1 235.6 L283.8 235.6 L284.6 235.6 L285.3 235.9 L286 235 L286.7 235.2 L287.4 234.5 L288.1 236.2 L288.8 239 L289.5 239.4 L290.3 240.4 L291 241.7 L291.7 242.6 L292.4 244.9 L293.1 245.9 L293.8 243.2 L294.5 240 L295.2 237.1 L296 237.2 L296.7 236.4 L296.7 247.4 L296 248.3 L295.2 248.6 L294.5 249.6 L293.8 251.5 L293.1 252.7 L292.4 252.9 L291.7 251.3 L291 251 L290.3 248.8 L289.5 250.1 L288.8 248.7 L288.1 246.8 L287.4 247.3 L286.7 246.6 L286 246.4 L285.3 246.9 L284.6 245.9 L283.8 246.4 L283.1 246.7 L282.4 246.8 L281.7 246.9 L281 246.7 L280.3 246.4 L279.6 247.5 L278.8 247.3 L278.1 248.2 L277.4 248.1 L276.7 250.9 L276 252.4 L275.3 255.1 L274.6 254.1 L273.9 254.2 L273.1 253.5 L272.4 253.4 L271.7 253.9 L271 253.1 L270.3 252.3 L269.6 252.6 L268.9 250.6 L268.1 250.6 L267.4 250.5 L266.7 250.6 L266 251.2 L265.3 250.8 L264.6 250.6 L263.9 251.9 L263.2 252.5 L262.4 252.2 L261.7 251.8 L261 253.6 L260.3 252.7 L259.6 253.3 L258.9 254.1 L258.2 254.5 L257.4 255.8 L256.7 257.2 L256 257.7 L255.3 257.2 L254.6 257.1 L253.9 255 L253.2 255.8 L252.5 255.9 L251.7 255.9 L251 253.5 L250.3 251.3 L249.6 252.1 L248.9 252.1 L248.2 251.8 L247.5 252.9 L246.8 252.6 L246 255.2 L245.3 254.5 L244.6 254.9 L243.9 255.7 L243.2 256.8 L242.5 258.2 L241.8 258 L241 258.6 L240.3 259.2 L239.6 258.1 L238.9 257.3 L238.2 259.4 L237.5 258.2 L236.8 259.8 L236.1 261.2 L235.3 259.9 L234.6 259.5 L233.9 257.7 L233.2 258.8 L232.5 259.2 L231.8 259.1 L231.1 259.1 L230.3 259.4 L229.6 258.5 L228.9 258.4 L228.2 258 L227.5 258.4 L226.8 258.4 L226.1 259.3 L225.4 258.2 L224.6 259.5 L223.9 260.8 L223.2 259.5 L222.5 260.7 L221.8 259.3 L221.1 259 L220.4 259.1 L219.6 259.5 L218.9 259.8 L218.2 260.2 L217.5 260.3 L216.8 258.6 L216.1 257.8 L215.4 257.8 L214.7 257.6 L213.9 256.6 L213.2 254.2 L212.5 252.2 L211.8 251.1 L211.1 248.9 L210.4 248.4 L209.7 249.1 L209 249.6 L208.2 251.7 L207.5 253.5 L206.8 254.7 L206.1 255.5 L205.4 256.5 L204.7 258.2 L204 259.5 L203.2 257.9 L202.5 256.1 L201.8 254 L201.1 252.5 L200.4 250.6 L199.7 247.9 L199 245.8 L198.3 244.3 L197.5 242 L196.8 242.1 L196.1 243.4 L195.4 243.5 L194.7 245.3 L194 245.6 L193.3 246.9 L192.5 247.1 L191.8 249.4 L191.1 249.5 L190.4 250.5 L189.7 250.6 L189 252.2 L188.3 253.6 L187.6 254.4 L186.8 252.4 L186.1 249.7 L185.4 248 L184.7 244.9 L184 243.4 L183.3 242.1 L182.6 239.9 L181.9 237.3 L181.1 235.1 L180.4 235.4 L179.7 235.4 L179 237.1 L178.3 237.2 L177.6 239.5 L176.9 240.2 L176.1 241.3 L175.4 242 L174.7 243.8 L174 244.5 L173.3 245.4 L172.6 246.2 L171.9 249.1 L171.2 248.5 L170.4 250.6 L169.7 248.6 L169 245.5 L168.3 243.2 L167.6 241.7 L166.9 239.3 L166.2 235.6 L165.4 232.7 L164.7 231.4 L164 229.9 L163.3 228.4 L162.6 230.5 L161.9 231.7 L161.2 232.8 L160.5 233.6 L159.7 236.4 L159 237 L158.3 240.4 L157.6 240.7 L156.9 242.6 L156.2 244.9 L155.5 245.9 L154.7 247.4 L154 249 L153.3 250.2 L152.6 251.6 L151.9 250.1 L151.2 247.4 L150.5 244.5 L149.8 242.6 L149 240.2 L148.3 238.7 L147.6 237.4 L146.9 234.5 L146.2 232.5 L145.5 233.7 L144.8 234.9 L144.1 236.8 L143.3 237.2 L142.6 238.4 L141.9 238.9 L141.2 239.8 L140.5 242.9 L139.8 243.3 L139.1 244.3 L138.3 245.2 L137.6 247.6 L136.9 247.8 L136.2 248.3 L135.5 246.6 L134.8 244.5 L134.1 243 L133.4 241.2 L132.6 240 L131.9 237.9 L131.2 235.7 L130.5 234.4 L129.8 233.1 L129.1 236.6 L128.4 239 L127.6 240.5 L126.9 241.1 L126.2 240.6 L125.5 240.3 L124.8 241.3 L124.1 241.2 L123.4 241 L122.7 241.7 L121.9 242 L121.2 242.1 L120.5 242.2 L119.8 242 L119.1 242.3 L118.4 242.1 L117.7 242.4 L116.9 242.5 L116.2 242.1 L115.5 242.2 L114.8 242 L114.1 242.2 L113.4 242.3 L112.7 242.6 L112 242.6 L111.2 242.9 L110.5 242.2 L109.8 242.2 L109.1 241.9 L108.4 242.4 L107.7 245 L107 245.5 L106.3 246.6 L105.5 246.8 L104.8 247.4 L104.1 249.4 L103.4 250.5 L102.7 250.3 L102 253.9 L101.3 253.8 L100.5 252.8 L99.8 253 L99.1 253.1 L98.4 252.7 L97.7 253.1 L97 251.7 L96.3 252 L95.6 250.6 L94.8 251.1 L94.1 250.8 L93.4 251.1 L92.7 250.2 L92 249.2 L91.3 249.8 L90.6 251.8 L89.8 251.5 L89.1 253.4 L88.4 254.2 L87.7 254.4 L87 255.9 L86.3 257.1 L85.6 257.6 L84.9 258.2 L84.1 258.7 L83.4 260.4 L82.7 261.5 L82 261.8 L81.3 261 L80.6 261.6 L79.9 261.1 L79.1 261.3 L78.4 260 L77.7 259.2 L77 259.3 L76.3 259.5 L75.6 259.8 L74.9 260.3 L74.2 259.7 L73.4 259 L72.7 259.1 L72 258.7 L71.3 258.2 L70.6 259.9 L69.9 260.6 L69.2 261.4 L68.5 260.3 L67.7 260.7 L67 262.7 L66.3 262.4 L65.6 262.2 L64.9 260.8 L64.2 260.8 L63.5 261 L62.7 261.1 L62 259.9 L61.3 259.6 L60.6 258.1 L59.9 257.2 L59.2 257.1 L58.5 257.9 L57.8 258.9 L57 256.7 L56.3 256.4 L55.6 256.2 L54.9 255.7 L54.2 256.6 L53.5 256.6 L52.8 259.1 L52 259.9 L51.3 259.9 L50.6 261.6 L49.9 262.1 L49.2 262.7 L48.5 262.2 L47.8 262.6 L47.1 260.5 L46.3 261.4 L45.6 260.9 L44.9 261.3 L44.2 260 L43.5 259.5 L42.8 259.9 L42.1 259.7 L41.4 259.7Z" fill="rgb(25,25,240)" fill-opacity="0.1"/></g></g>
<path d="M40.9 70.4 L42.1 72.2 L42.9 71.4 L43.5 71 L44.2 70.3 L44.9 71.4 L45.6 72.4 L46.3 73.8 L46.9 72.7 L47.8 73.3 L48.9 73.9 L49.9 72.8 L50.8 72.7 L51.3 70.7 L52 72 L52.8 69.4 L53.5 69.8 L54.2 66.7 L55.2 66 L55.6 66.2 L56.3 66.1 L56.8 68.4 L57.8 67.8 L58.7 69.4 L59.2 69.6 L59.9 70 L60.7 70 L61.3 67.7 L62 71.5 L62.7 71.8 L63.5 73.2 L64.2 74.1 L64.9 73.3 L65.7 73.9 L66.3 73.6 L67 73.9 L67.6 73.3 L68.5 72.6 L69.2 71.5 L69.6 71.4 L70.6 69.9 L71.6 70 L72.7 69.1 L73.4 70.2 L74.6 70.8 L75.6 72.4 L76.5 70.2 L77 69.7 L77.7 72.4 L78.5 71.4 L79.1 72 L79.9 74 L80.5 72.9 L81.3 73.3 L82 74.5 L82.7 73.7 L83.5 74.3 L84.1 70.4 L84.9 73.7 L85.4 73.3 L86.3 70.3 L87 70.9 L87.4 68.4 L88.4 68 L89.4 67 L89.8 66.2 L90.6 66.9 L91.3 66.2 L92.4 66.4 L93.4 67.3 L94.3 68.4 L94.8 70 L95.6 69 L96.3 70.4 L97 71.7 L97.7 69.4 L98.4 72.5 L98.9 72.3 L99.8 72 L100.5 73 L101.3 73.3 L102.3 67.4 L103.6 69.4 L104.1 57.4 L104.8 41.7 L105.6 31.8 L106.6 22.9 L107.6 32.8 L108.4 30.8 L109.1 33.2 L109.6 33.8 L110.8 35.8 L111.2 38.1 L112.1 45.6 L112.7 43.8 L113.7 39.7 L114.8 35 L115.5 34.2 L116.2 38.8 L117.1 45.6 L117.7 48.7 L118.7 54.5 L120.1 52.6 L120.5 52.8 L121.4 50.6 L121.9 47.9 L123 44.7 L124.1 42.8 L124.6 42.7 L125.5 39.2 L126.2 39.7 L126.9 42.6 L128 45.6 L129 48.6 L129.8 47.2 L130.5 46.5 L130.9 46.6 L131.9 46.3 L132.9 46.6 L133.4 46.4 L134.3 46.6 L134.8 51.4 L135.5 59.5 L136.5 67.4 L137.9 64.4 L138.3 61.6 L139.1 56.2 L139.5 51.6 L140.9 46.6 L141.9 42.9 L142.9 38.7 L143.3 38.3 L144.1 37.7 L144.8 39.7 L145.5 38 L146.2 37.2 L146.8 37.7 L147.6 34.6 L148.2 33.8 L149 30.9 L149.8 29.8 L150.5 34.6 L151.2 39.7 L151.9 48.7 L152.3 55.5 L153.7 60.5 L155.1 59.5 L156.3 49.6 L156.9 37.7 L157.7 25.9 L158.3 29.8 L159.1 33.8 L159.7 34.1 L160.7 32.8 L161.2 32.5 L162 37.7 L162.6 36.8 L163.6 35.8 L164.6 41.7 L165.6 34.2 L166.2 33.3 L167.2 34.8 L168.2 43.7 L169.2 57.5 L169.7 59.6 L170.5 65 L171.2 68.2 L171.9 69.4 L172.6 58.1 L173.1 53.6 L174 42.1 L174.5 38.7 L175.4 36.8 L176.1 34.8 L176.9 34.2 L177.6 38.4 L178.1 41.7 L179 39.7 L179.4 37.3 L180.4 41.4 L181 43.7 L181.9 42.9 L182.6 41.7 L183 42.7 L184 43.7 L184.7 51.6 L185.8 65.4 L186.4 73.3 L186.8 73 L187.6 71.3 L188.3 72.3 L189 72.5 L189.7 70.1 L190.3 70.4 L191.1 68.9 L191.8 70.2 L192.5 71.6 L193.3 69.4 L194 69.9 L194.7 68.2 L195.4 67.4 L196.3 67.4 L196.8 66 L197.5 69.1 L198.2 68.4 L199.2 70.4 L199.7 71.3 L200.4 72 L201.2 74.3 L201.8 74.7 L202.5 77.3 L203.2 74.1 L204.2 75.3 L204.7 72.3 L205.4 73 L206.1 73.3 L206.8 73 L207.5 71 L208.1 69.4 L209 68.9 L209.7 66.2 L210.4 68 L211.1 68.4 L211.8 68.3 L212.5 66.7 L213.2 68.5 L214.1 68.4 L214.7 66.7 L215.4 69.8 L216 69.4 L216.8 71.4 L217.5 71.6 L218 73.3 L218.9 70.4 L220 70.4 L221.1 70 L221.8 70.6 L222.5 73.2 L223 71.4 L223.9 71.6 L224.6 71.2 L225.4 70.7 L226.1 69.2 L226.9 69.4 L227.9 69.4 L228.9 70.4 L229.6 69.7 L230.3 70.9 L230.9 71.4 L231.8 71.4 L232.5 70.7 L233.2 70.1 L233.8 70.4 L234.6 70.2 L235.3 72.4 L235.8 72.3 L236.8 71.2 L237.8 69.4 L238.9 71.2 L239.6 68.3 L240.3 68.7 L240.8 70.4 L241.8 69.6 L242.7 68.4 L243.2 68.5 L243.9 68.6 L244.7 66.4 L245.3 65.6 L246 64.9 L246.7 64.4 L247.5 61.5 L248.2 63 L249.3 62.5 L250.7 63.4 L251.6 67.4 L252.5 67.8 L253.2 69.3 L253.6 66.4 L254.6 66.1 L255.2 68.4 L256 69.9 L256.6 71.4 L257.6 73.3 L258.2 74.2 L258.9 71.2 L259.6 70.4 L260.3 71.7 L261 65.9 L261.5 69.4 L262.4 67.4 L263.2 67.4 L263.9 67.4 L264.6 67.9 L265.3 70.4 L265.9 68.4 L266.7 68.7 L267.4 70.4 L268.5 69 L269.6 69.7 L270.4 71.4 L271 73.1 L271.7 71.1 L272.4 69.4 L273.1 68.8 L273.9 69.1 L274.4 71.4 L275.3 73.3 L276.4 72.9 L277.8 47.6 L278.9 38.7 L279.6 41.7 L280.3 41.7 L281 42.4 L281.7 45.2 L282.4 42.8 L283.3 41.7 L283.8 41.2 L284.7 37.7 L285.3 33.1 L285.9 26.9 L286.9 29.8 L287.4 33.3 L287.8 34.8 L289.2 55.5 L290.2 67.4 L291 67.1 L291.6 64.4 L292.4 64.7 L293.2 63.4 L293.8 63.3 L294.8 66.4 L295.2 57.7 L296.1 43.7 L296.7 43 L297.1 46.6" fill="none" stroke="#1c1c1c" stroke-width="1.45" stroke-linejoin="round" clip-path="url(#cL0)"/>
<path d="M40.9 164.3 L42.1 166.2 L42.9 165.3 L43.5 164.9 L44.2 164.2 L44.9 165.3 L45.6 166.4 L46.3 167.7 L46.9 166.7 L47.8 167.3 L48.9 167.9 L49.9 166.7 L50.8 166.7 L51.3 164.7 L52 165.9 L52.8 163.3 L53.5 163.8 L54.2 160.6 L55.2 160 L55.6 160.1 L56.3 160 L56.8 162.3 L57.8 161.8 L58.7 163.3 L59.2 163.6 L59.9 164 L60.7 163.9 L61.3 161.7 L62 165.4 L62.7 165.7 L63.5 167.1 L64.2 168 L64.9 167.2 L65.7 167.9 L66.3 167.5 L67 167.8 L67.6 167.3 L68.5 166.5 L69.2 165.5 L69.6 165.3 L70.6 163.9 L71.6 163.9 L72.7 163 L73.4 164.2 L74.6 164.7 L75.6 166.3 L76.5 164.1 L77 163.6 L77.7 166.4 L78.5 165.3 L79.1 166 L79.9 168 L80.5 166.9 L81.3 167.3 L82 168.4 L82.7 167.7 L83.5 168.3 L84.1 164.4 L84.9 167.6 L85.4 167.3 L86.3 164.3 L87 164.8 L87.4 162.3 L88.4 162 L89.4 161 L89.8 160.2 L90.6 160.8 L91.3 160.2 L92.4 160.4 L93.4 161.3 L94.3 162.3 L94.8 163.9 L95.6 162.9 L96.3 164.3 L97 165.7 L97.7 163.4 L98.4 166.5 L98.9 166.3 L99.8 165.9 L100.5 167 L101.3 167.3 L102.3 161.4 L103.6 163.3 L104.1 151.4 L104.8 135.6 L105.6 125.8 L106.6 116.9 L107.6 126.7 L108.4 124.8 L109.1 127.2 L109.6 127.7 L110.8 129.7 L111.2 132.1 L112.1 139.6 L112.7 137.8 L113.7 133.7 L114.8 128.9 L115.5 128.1 L116.2 132.7 L117.1 139.6 L117.7 142.7 L118.7 148.5 L120.1 146.5 L120.5 146.7 L121.4 144.5 L121.9 141.8 L123 138.6 L124.1 136.8 L124.6 136.6 L125.5 133.2 L126.2 133.7 L126.9 136.5 L128 139.6 L129 142.6 L129.8 141.1 L130.5 140.5 L130.9 140.6 L131.9 140.3 L132.9 140.6 L133.4 140.4 L134.3 140.6 L134.8 145.4 L135.5 153.4 L136.5 161.4 L137.9 158.4 L138.3 155.5 L139.1 150.2 L139.5 145.5 L140.9 140.6 L141.9 136.9 L142.9 132.7 L143.3 132.3 L144.1 131.6 L144.8 133.7 L145.5 132 L146.2 131.2 L146.8 131.7 L147.6 128.5 L148.2 127.7 L149 124.9 L149.8 123.8 L150.5 128.5 L151.2 133.7 L151.9 142.6 L152.3 149.5 L153.7 154.4 L155.1 153.4 L156.3 143.6 L156.9 131.6 L157.7 119.8 L158.3 123.7 L159.1 127.7 L159.7 128.1 L160.7 126.7 L161.2 126.5 L162 131.7 L162.6 130.7 L163.6 129.7 L164.6 135.6 L165.6 128.1 L166.2 127.3 L167.2 128.7 L168.2 137.6 L169.2 151.5 L169.7 153.6 L170.5 159 L171.2 162.1 L171.9 163.3 L172.6 152.1 L173.1 147.5 L174 136.1 L174.5 132.7 L175.4 130.7 L176.1 128.7 L176.9 128.1 L177.6 132.4 L178.1 135.6 L179 133.6 L179.4 131.3 L180.4 135.3 L181 137.6 L181.9 136.8 L182.6 135.7 L183 136.6 L184 137.6 L184.7 145.5 L185.8 159.4 L186.4 167.3 L186.8 167 L187.6 165.2 L188.3 166.3 L189 166.5 L189.7 164.1 L190.3 164.3 L191.1 162.9 L191.8 164.1 L192.5 165.5 L193.3 163.3 L194 163.8 L194.7 162.1 L195.4 161.4 L196.3 161.4 L196.8 160 L197.5 163.1 L198.2 162.3 L199.2 164.3 L199.7 165.2 L200.4 166 L201.2 168.3 L201.8 168.6 L202.5 171.3 L203.2 168.1 L204.2 169.3 L204.7 166.3 L205.4 167 L206.1 167.3 L206.8 166.9 L207.5 165 L208.1 163.3 L209 162.8 L209.7 160.1 L210.4 161.9 L211.1 162.3 L211.8 162.2 L212.5 160.7 L213.2 162.4 L214.1 162.3 L214.7 160.6 L215.4 163.7 L216 163.3 L216.8 165.4 L217.5 165.5 L218 167.3 L218.9 164.4 L220 164.3 L221.1 164 L221.8 164.6 L222.5 167.1 L223 165.3 L223.9 165.6 L224.6 165.1 L225.4 164.7 L226.1 163.1 L226.9 163.3 L227.9 163.3 L228.9 164.4 L229.6 163.6 L230.3 164.9 L230.9 165.3 L231.8 165.4 L232.5 164.6 L233.2 164.1 L233.8 164.3 L234.6 164.2 L235.3 166.3 L235.8 166.3 L236.8 165.1 L237.8 163.3 L238.9 165.2 L239.6 162.2 L240.3 162.6 L240.8 164.3 L241.8 163.5 L242.7 162.3 L243.2 162.4 L243.9 162.5 L244.7 160.4 L245.3 159.6 L246 158.8 L246.7 158.4 L247.5 155.5 L248.2 157 L249.3 156.4 L250.7 157.4 L251.6 161.4 L252.5 161.8 L253.2 163.2 L253.6 160.4 L254.6 160.1 L255.2 162.3 L256 163.9 L256.6 165.3 L257.6 167.3 L258.2 168.1 L258.9 165.1 L259.6 164.3 L260.3 165.7 L261 159.8 L261.5 163.3 L262.4 161.4 L263.2 161.4 L263.9 161.4 L264.6 161.9 L265.3 164.3 L265.9 162.3 L266.7 162.7 L267.4 164.4 L268.5 162.9 L269.6 163.6 L270.4 165.3 L271 167 L271.7 165 L272.4 163.3 L273.1 162.7 L273.9 163 L274.4 165.3 L275.3 167.3 L276.4 166.9 L277.8 141.6 L278.9 132.7 L279.6 135.6 L280.3 135.6 L281 136.4 L281.7 139.2 L282.4 136.7 L283.3 135.6 L283.8 135.1 L284.7 131.7 L285.3 127 L285.9 120.8 L286.9 123.8 L287.4 127.3 L287.8 128.7 L289.2 149.5 L290.2 161.4 L291 161 L291.6 158.4 L292.4 158.6 L293.2 157.4 L293.8 157.3 L294.8 160.4 L295.2 151.6 L296.1 137.6 L296.7 137 L297.1 140.6" fill="none" stroke="#1c1c1c" stroke-width="1.45" stroke-linejoin="round" clip-path="url(#cL1)"/>
<path d="M40.9 258.3 L42.1 260.1 L42.9 259.3 L43.5 258.9 L44.2 258.2 L44.9 259.3 L45.6 260.3 L46.3 261.7 L46.9 260.6 L47.8 261.2 L48.9 261.8 L49.9 260.7 L50.8 260.6 L51.3 258.6 L52 259.9 L52.8 257.3 L53.5 257.7 L54.2 254.6 L55.2 253.9 L55.6 254.1 L56.3 254 L56.8 256.3 L57.8 255.7 L58.7 257.3 L59.2 257.5 L59.9 257.9 L60.7 257.9 L61.3 255.6 L62 259.4 L62.7 259.7 L63.5 261.1 L64.2 262 L64.9 261.2 L65.7 261.8 L66.3 261.5 L67 261.8 L67.6 261.2 L68.5 260.5 L69.2 259.4 L69.6 259.3 L70.6 257.8 L71.6 257.9 L72.7 257 L73.4 258.1 L74.6 258.7 L75.6 260.3 L76.5 258.1 L77 257.6 L77.7 260.3 L78.5 259.3 L79.1 259.9 L79.9 261.9 L80.5 260.8 L81.3 261.2 L82 262.4 L82.7 261.6 L83.5 262.2 L84.1 258.3 L84.9 261.6 L85.4 261.2 L86.3 258.2 L87 258.8 L87.4 256.3 L88.4 255.9 L89.4 254.9 L89.8 254.1 L90.6 254.8 L91.3 254.1 L92.4 254.3 L93.4 255.2 L94.3 256.3 L94.8 257.9 L95.6 256.9 L96.3 258.3 L97 259.6 L97.7 257.3 L98.4 260.4 L98.9 260.2 L99.8 259.9 L100.5 260.9 L101.3 261.2 L102.3 255.3 L103.6 257.3 L104.1 245.3 L104.8 229.6 L105.6 219.7 L106.6 210.8 L107.6 220.7 L108.4 218.7 L109.1 221.1 L109.6 221.7 L110.8 223.7 L111.2 226 L112.1 233.5 L112.7 231.7 L113.7 227.6 L114.8 222.9 L115.5 222.1 L116.2 226.7 L117.1 233.5 L117.7 236.6 L118.7 242.4 L120.1 240.5 L120.5 240.7 L121.4 238.5 L121.9 235.8 L123 232.6 L124.1 230.7 L124.6 230.6 L125.5 227.1 L126.2 227.6 L126.9 230.5 L128 233.5 L129 236.5 L129.8 235.1 L130.5 234.4 L130.9 234.5 L131.9 234.2 L132.9 234.5 L133.4 234.3 L134.3 234.5 L134.8 239.3 L135.5 247.4 L136.5 255.3 L137.9 252.3 L138.3 249.5 L139.1 244.1 L139.5 239.5 L140.9 234.5 L141.9 230.8 L142.9 226.6 L143.3 226.2 L144.1 225.6 L144.8 227.6 L145.5 225.9 L146.2 225.1 L146.8 225.6 L147.6 222.5 L148.2 221.7 L149 218.8 L149.8 217.7 L150.5 222.5 L151.2 227.6 L151.9 236.6 L152.3 243.4 L153.7 248.4 L155.1 247.4 L156.3 237.5 L156.9 225.6 L157.7 213.8 L158.3 217.7 L159.1 221.7 L159.7 222 L160.7 220.7 L161.2 220.4 L162 225.6 L162.6 224.7 L163.6 223.7 L164.6 229.6 L165.6 222.1 L166.2 221.2 L167.2 222.7 L168.2 231.6 L169.2 245.4 L169.7 247.5 L170.5 252.9 L171.2 256.1 L171.9 257.3 L172.6 246 L173.1 241.5 L174 230 L174.5 226.6 L175.4 224.7 L176.1 222.7 L176.9 222.1 L177.6 226.3 L178.1 229.6 L179 227.6 L179.4 225.2 L180.4 229.3 L181 231.6 L181.9 230.8 L182.6 229.6 L183 230.6 L184 231.6 L184.7 239.5 L185.8 253.3 L186.4 261.2 L186.8 260.9 L187.6 259.2 L188.3 260.2 L189 260.4 L189.7 258 L190.3 258.3 L191.1 256.8 L191.8 258.1 L192.5 259.5 L193.3 257.3 L194 257.8 L194.7 256.1 L195.4 255.3 L196.3 255.3 L196.8 253.9 L197.5 257 L198.2 256.3 L199.2 258.3 L199.7 259.2 L200.4 259.9 L201.2 262.2 L201.8 262.6 L202.5 265.2 L203.2 262 L204.2 263.2 L204.7 260.2 L205.4 260.9 L206.1 261.2 L206.8 260.9 L207.5 258.9 L208.1 257.3 L209 256.8 L209.7 254.1 L210.4 255.9 L211.1 256.3 L211.8 256.2 L212.5 254.6 L213.2 256.4 L214.1 256.3 L214.7 254.6 L215.4 257.7 L216 257.3 L216.8 259.3 L217.5 259.5 L218 261.2 L218.9 258.3 L220 258.3 L221.1 257.9 L221.8 258.5 L222.5 261.1 L223 259.3 L223.9 259.5 L224.6 259.1 L225.4 258.6 L226.1 257.1 L226.9 257.3 L227.9 257.3 L228.9 258.3 L229.6 257.6 L230.3 258.8 L230.9 259.3 L231.8 259.3 L232.5 258.6 L233.2 258 L233.8 258.3 L234.6 258.1 L235.3 260.3 L235.8 260.2 L236.8 259.1 L237.8 257.3 L238.9 259.1 L239.6 256.2 L240.3 256.6 L240.8 258.3 L241.8 257.5 L242.7 256.3 L243.2 256.4 L243.9 256.5 L244.7 254.3 L245.3 253.5 L246 252.8 L246.7 252.3 L247.5 249.4 L248.2 250.9 L249.3 250.4 L250.7 251.3 L251.6 255.3 L252.5 255.7 L253.2 257.2 L253.6 254.3 L254.6 254 L255.2 256.3 L256 257.8 L256.6 259.3 L257.6 261.2 L258.2 262.1 L258.9 259.1 L259.6 258.3 L260.3 259.6 L261 253.8 L261.5 257.3 L262.4 255.3 L263.2 255.3 L263.9 255.3 L264.6 255.8 L265.3 258.3 L265.9 256.3 L266.7 256.6 L267.4 258.3 L268.5 256.9 L269.6 257.6 L270.4 259.3 L271 261 L271.7 259 L272.4 257.3 L273.1 256.7 L273.9 257 L274.4 259.3 L275.3 261.2 L276.4 260.8 L277.8 235.5 L278.9 226.6 L279.6 229.6 L280.3 229.6 L281 230.3 L281.7 233.2 L282.4 230.7 L283.3 229.6 L283.8 229.1 L284.7 225.6 L285.3 221 L285.9 214.8 L286.9 217.7 L287.4 221.2 L287.8 222.7 L289.2 243.4 L290.2 255.3 L291 255 L291.6 252.3 L292.4 252.6 L293.2 251.3 L293.8 251.2 L294.8 254.3 L295.2 245.6 L296.1 231.6 L296.7 230.9 L297.1 234.5" fill="none" stroke="#1c1c1c" stroke-width="1.45" stroke-linejoin="round" clip-path="url(#cL2)"/>
<rect x="427.7" y="25.1" width="12" height="67.7" fill="#ffc4c4"/>
<rect x="441.4" y="25.1" width="15.4" height="67.7" fill="#ffc4c4"/>
<rect x="460.8" y="25.1" width="11" height="67.7" fill="#ffc4c4"/>
<rect x="476" y="25.1" width="11.8" height="67.7" fill="#ffc4c4"/>
<rect x="492" y="25.1" width="11" height="67.7" fill="#ffc4c4"/>
<rect x="590.4" y="25.1" width="10.8" height="67.7" fill="#ffc4c4"/>
<rect x="606.9" y="25.1" width="2.3" height="67.7" fill="#ffc4c4"/>
<rect x="427.7" y="113.1" width="1.5" height="67.9" fill="#ffe4e4"/>
<rect x="448.8" y="113.1" width="1.2" height="67.9" fill="#ffe4e4"/>
<rect x="453" y="113.1" width="3.2" height="67.9" fill="#ffc8c8"/>
<rect x="469.4" y="113.1" width="1.9" height="67.9" fill="#ffe4e4"/>
<rect x="493" y="113.1" width="5.8" height="67.9" fill="#ffc8c8"/>
<rect x="522.3" y="113.1" width="1.5" height="67.9" fill="#ffe4e4"/>
<rect x="378.8" y="201.6" width="3.3" height="67.7" fill="#ffcccc"/>
<rect x="427.7" y="201.6" width="2.5" height="67.7" fill="#ffe4e4"/>
<rect x="436.9" y="201.6" width="1.9" height="67.7" fill="#ffe4e4"/>
<rect x="470.8" y="201.6" width="1" height="67.7" fill="#ffe8e8"/>
<rect x="478" y="201.6" width="1" height="67.7" fill="#ffe8e8"/>
<rect x="582.7" y="201.6" width="1.9" height="67.7" fill="#ffe4e4"/>
<rect x="597.1" y="201.6" width="4.1" height="67.7" fill="#ffcccc"/>
<line x1="357.0" y1="53.25" x2="620.9" y2="53.25" stroke="#ff6a6a" stroke-width="1.2" stroke-dasharray="3.3 2.05"/>
<line x1="357.0" y1="147.6" x2="620.9" y2="147.6" stroke="#ff6a6a" stroke-width="1.2" stroke-dasharray="3.3 2.05"/>
<line x1="357.0" y1="236.1" x2="620.9" y2="236.1" stroke="#ff6a6a" stroke-width="1.2" stroke-dasharray="3.3 2.05"/>
<path d="M368.3 74.4 L368.7 79.4 L370.6 78.4 L372.5 78.8 L374.4 77.8 L376.3 79.2 L378.3 80.2 L379.8 70.2 L381.2 66.3 L382.5 74 L383.5 77.8 L384.6 74.4 L385.6 77.5 L387.9 76.9 L389.8 75.9 L391.7 76.9 L393.7 77.8 L395.6 78.8 L397.5 76.9 L399.4 75.5 L401.3 76.3 L403.3 76.9 L406.2 76.9 L409 77.5 L410.6 78.4 L411.9 71.1 L413.3 70.2 L414.2 74.4 L415.4 69.8 L416.7 69.2 L417.7 75 L418.7 76.9 L420.6 76.3 L422.5 76.9 L424.4 76.9 L425.4 65.3 L426.2 75.9 L426.7 78.8 L427.3 52.8 L427.9 39 L428.8 38.4 L429.6 43.2 L431.2 44.2 L432.7 45.2 L434 49 L435.4 47.1 L436.9 46.1 L438.1 45.5 L439.2 49 L440.4 53.8 L441.7 49 L443.1 47.1 L444.6 48 L446.2 46.7 L447.5 49 L448.8 48 L450.4 50.9 L452.3 50 L454.2 49 L455.6 47.5 L456 58.6 L457.3 70.2 L458.5 62.5 L459.8 50.9 L461.2 48 L463.1 49 L464.6 48 L466.2 46.1 L467.5 47.1 L468.8 45.2 L470.4 44.2 L471.3 50.9 L472.7 54.8 L474.2 58.6 L475.8 51.9 L477.1 47.1 L478.5 43.2 L479.6 48 L481 47.1 L482.9 49 L484.8 48 L486.2 46.1 L487.3 50.9 L488.7 65.3 L490 65.3 L491 75.9 L491.9 60.5 L492.9 49 L494.4 48 L496.3 50 L498.3 49 L500.2 50.9 L502.1 50 L503.1 62.5 L504 73 L505.4 75.9 L507.9 74.4 L509.8 75.5 L511.7 74 L514.6 75 L517.5 74 L519.4 73 L521.3 75 L523.3 71.7 L525.2 75 L528.1 74 L531 74.6 L533.8 73.6 L536.7 75 L539.6 72.1 L541.5 74.4 L544.4 73.6 L547.3 74.4 L550.2 73 L552.1 75.9 L553.5 75 L555.4 75.9 L557.3 75 L559.2 75.9 L560.2 67.3 L561.5 75.9 L562.7 64.4 L564 61.5 L565.4 68.2 L566.9 62.5 L568.8 58.6 L570.2 71.1 L571.7 81.7 L572.7 69.2 L573.7 79.8 L574.6 75.9 L575.6 80.7 L576.5 70.2 L577.5 75.9 L578.5 69.2 L579.8 77.8 L581.3 75 L582.7 73 L584.2 66.3 L585.8 68.2 L587.1 77.8 L588.5 80.7 L589.6 72.1 L590.6 44.2 L591.9 43.2 L593.8 47.1 L595.8 45.2 L597.7 42.3 L599.2 41.3 L600.6 49 L601.9 66.3 L603.5 57.7 L605 58.6 L606.3 67.3 L607.7 49 L608.8 48" fill="none" stroke="#0000ff" stroke-width="1.55" stroke-linejoin="round" clip-path="url(#cR0)"/>
<path d="M368.7 163.9 L368.7 173.5 L370 174.5 L371.2 164.9 L371.9 174.5 L373.1 165.8 L373.8 174.5 L375.4 176.4 L377.3 171.6 L379.2 168.7 L381.2 169.7 L382.7 168.7 L383.8 164.9 L384.6 171.6 L386 170.7 L387.9 172.6 L389.8 172.6 L391.2 173.5 L392.7 176.4 L394.6 169.7 L396.2 169.7 L397.5 174.5 L398.8 167.8 L399.8 171.6 L400.8 160.1 L401.5 169.7 L402.7 171.6 L404.2 173.5 L406.2 175.5 L408.1 177.4 L410.4 171.6 L411.9 167.8 L413.5 170.7 L415.8 169.7 L417.7 170.7 L419.2 163.9 L420.6 169.7 L421.9 168.7 L423.5 167.8 L425 163.9 L426.3 158.2 L427.7 154.3 L428.7 147.6 L429.6 152.4 L431.2 157.2 L433.1 160.1 L435 157.8 L436.9 162.4 L437.9 158.2 L439.8 161 L441.7 159.1 L443.1 161 L444.6 160.1 L446.5 163.9 L448.1 165.8 L449.4 140.8 L450.4 152.4 L451.9 158.2 L454.2 145.7 L455.6 139.9 L456.5 162 L457.9 163.9 L459.8 161 L461.7 158.2 L463.7 159.1 L465.6 157.2 L466.9 159.1 L468.1 155.3 L469.4 147.6 L470.8 145.7 L471.9 156.2 L473.3 161 L475.2 159.1 L477.1 156.2 L478.5 152.4 L479.6 157.2 L481 153.3 L482.3 157.2 L483.8 155.3 L485.4 153.3 L486.7 151.4 L488.1 155.3 L489.6 159.1 L491.5 160.1 L493.1 144.7 L494.4 139.9 L495.4 131.2 L496.3 141.8 L497.3 138.9 L498.3 147.6 L499.2 142.8 L500.2 153.3 L502.1 155.3 L503.5 160.1 L505 163 L506.5 160.1 L507.9 163 L509.4 162 L511.2 163.9 L512.7 165.8 L514.2 159.1 L515.2 164.9 L516.9 165.8 L518.5 163.9 L520 168.7 L521.3 169.7 L522.3 163.9 L523.1 139.9 L523.8 154.3 L525.2 163 L526.7 165.8 L528.1 168.7 L529.6 163 L530.6 169.7 L531.9 163.9 L532.9 171.6 L534.2 163.9 L535.8 172.6 L537.7 167.8 L539.2 164.9 L540.6 173.5 L542.5 165.8 L543.8 173.5 L545.4 174.5 L547.7 172.6 L549.2 170.7 L550.8 163.9 L552.1 171.6 L553.1 170.7 L554.4 172.6 L555.8 169.7 L557.3 166.8 L558.8 169.7 L560.2 168.7 L561.5 165.8 L562.7 169.7 L564 167.8 L565.4 168.7 L566.9 165.8 L568.5 163.9 L569.4 168.7 L570.8 165.8 L571.7 160.1 L573.1 167.8 L574.6 167.8 L576.2 170.7 L577.5 173.2 L579.4 171.6 L581.3 170.7 L582.7 167.8 L583.8 163.9 L585.2 170.7 L587.1 172.6 L588.5 167.8 L590 159.1 L591.5 154.3 L592.9 160.1 L594.8 165.8 L596.2 162 L597.7 155.3 L599.2 152.8 L600.6 153.3 L601.9 160.1 L603.5 165.8 L605 163.9 L606.3 155.3 L607.7 158.2 L608.8 160.1" fill="none" stroke="#0000ff" stroke-width="1.55" stroke-linejoin="round" clip-path="url(#cR1)"/>
<path d="M368.7 251 L368.7 257.7 L370.6 258.7 L371.9 256.7 L373.1 259.6 L374.4 258.7 L375.4 251.9 L376.3 259.6 L377.7 261.2 L378.7 248.1 L379.6 226.9 L380.6 219.2 L381.2 204.8 L382.1 221.2 L383.1 238.5 L384 251.9 L385 258.7 L386 250 L386.9 257.7 L387.5 251 L388.5 260.6 L389.8 261.5 L391.7 261.5 L392.7 251.9 L393.7 259.6 L395 254.8 L396.5 257.7 L398.1 252.9 L399 258.7 L400 251.9 L401 242.3 L401.9 257.7 L403.3 256.7 L405.2 259.6 L407.1 255.8 L409 251 L411 249 L412.9 246.2 L414.8 245.2 L416.7 245.2 L418.7 243.3 L420 245.2 L421.2 241.3 L422.5 243.3 L423.8 240.4 L425.4 241.3 L426.3 246.2 L427.7 240.4 L428.8 233.7 L429.6 243.3 L430.8 238.5 L432.1 240.4 L433.1 239.4 L434.6 245.2 L436.5 237.5 L437.9 222.1 L438.8 237.5 L440.4 248.1 L442.7 246.2 L445.6 245.2 L448.5 243.3 L450.4 244.2 L453.3 245.2 L454.6 243.3 L455.6 241.3 L456.5 247.1 L458.8 247.1 L460.8 246.2 L462.7 245.2 L464.6 244.2 L466.9 244.2 L468.8 244.2 L470.4 237.5 L471.3 234.6 L472.3 242.3 L474.2 246.2 L475.8 247.1 L477.1 238.5 L478.5 233.1 L479.6 240.4 L481 243.3 L482.9 243.3 L484.8 244.2 L486.2 240.4 L487.7 243.3 L489.6 248.1 L491.2 246.2 L492.5 239.4 L493.5 236.5 L495.4 239.4 L497.3 245.2 L499.2 245.2 L501.2 246.2 L502.7 244.2 L504 245.2 L506 247.1 L507.9 245.2 L509.8 242.3 L511.7 239.4 L513.7 236.5 L515.6 238.1 L516.5 236.2 L518.5 239.4 L520.4 245.2 L522.3 247.1 L524.2 246.2 L526.2 245.2 L528.1 243.3 L529.6 252.9 L531.9 253.5 L533.8 253.8 L534.8 250.4 L536.2 255.4 L537.7 255.4 L539.6 253.8 L541.5 254.4 L543.5 253.5 L545.4 254.8 L547.3 254.2 L549.2 254.8 L550.8 250 L552.1 252.9 L552.5 254.8 L554.4 255.8 L556.3 253.8 L557.7 251.9 L559.2 253.8 L560.8 251 L562.1 252.9 L564 250 L566 251.5 L567.9 251.9 L569.8 252.9 L571.7 249 L573.1 247.1 L574.6 244.2 L576.5 245.2 L578.5 244.2 L580.4 243.3 L582.3 240.4 L583.8 235.6 L585.2 242.3 L586.5 246.2 L588.1 244.6 L589.6 240.4 L591 239.4 L592.3 240.4 L593.5 244.2 L594.8 243.3 L596.2 241.3 L597.7 235.6 L598.7 228.8 L599.6 225 L600.6 238.5 L601.5 247.1 L603.5 247.1 L605.4 246.2 L606.3 243.3 L607.3 245.2 L608.8 244.2" fill="none" stroke="#0000ff" stroke-width="1.55" stroke-linejoin="round" clip-path="url(#cR2)"/>
<rect x="28.8" y="13.3" width="281.4" height="72" fill="none" stroke="#333" stroke-width="1.25"/>
<rect x="357.0" y="25.1" width="263.9" height="67.7" fill="none" stroke="#333" stroke-width="1.25"/>
<rect x="28.8" y="107.1" width="281.4" height="71.9" fill="none" stroke="#333" stroke-width="1.25"/>
<rect x="357.0" y="113.1" width="263.9" height="67.9" fill="none" stroke="#333" stroke-width="1.25"/>
<rect x="28.8" y="201.0" width="281.4" height="71.7" fill="none" stroke="#333" stroke-width="1.25"/>
<rect x="357.0" y="201.6" width="263.9" height="67.7" fill="none" stroke="#333" stroke-width="1.25"/>
<g opacity="0.995">
<line x1="26.1" y1="24.5" x2="28.8" y2="24.5" stroke="#333" stroke-width="1"/>
<text x="23.8" y="27.5" font-size="8.4" text-anchor="end" textLength="4.5" lengthAdjust="spacingAndGlyphs" font-family="Liberation Sans, sans-serif" fill="#111" stroke="#111" stroke-width="0.35">4</text>
<line x1="26.1" y1="46" x2="28.8" y2="46" stroke="#333" stroke-width="1"/>
<text x="23.8" y="49" font-size="8.4" text-anchor="end" textLength="4.5" lengthAdjust="spacingAndGlyphs" font-family="Liberation Sans, sans-serif" fill="#111" stroke="#111" stroke-width="0.35">2</text>
<line x1="26.1" y1="67.5" x2="28.8" y2="67.5" stroke="#333" stroke-width="1"/>
<text x="23.8" y="70.5" font-size="8.4" text-anchor="end" textLength="4.5" lengthAdjust="spacingAndGlyphs" font-family="Liberation Sans, sans-serif" fill="#111" stroke="#111" stroke-width="0.35">0</text>
<line x1="354.5" y1="32.4" x2="357.0" y2="32.4" stroke="#333" stroke-width="1"/>
<text x="352" y="35.3" font-size="8.1" text-anchor="end" textLength="10.6" lengthAdjust="spacingAndGlyphs" font-family="Liberation Sans, sans-serif" fill="#111" stroke="#111" stroke-width="0.35">7.5</text>
<line x1="354.5" y1="46.8" x2="357.0" y2="46.8" stroke="#333" stroke-width="1"/>
<text x="352" y="49.7" font-size="8.1" text-anchor="end" textLength="10.6" lengthAdjust="spacingAndGlyphs" font-family="Liberation Sans, sans-serif" fill="#111" stroke="#111" stroke-width="0.35">5.0</text>
<line x1="354.5" y1="61.3" x2="357.0" y2="61.3" stroke="#333" stroke-width="1"/>
<text x="352" y="64.2" font-size="8.1" text-anchor="end" textLength="10.6" lengthAdjust="spacingAndGlyphs" font-family="Liberation Sans, sans-serif" fill="#111" stroke="#111" stroke-width="0.35">2.5</text>
<line x1="354.5" y1="75.8" x2="357.0" y2="75.8" stroke="#333" stroke-width="1"/>
<text x="352" y="78.7" font-size="8.1" text-anchor="end" textLength="10.6" lengthAdjust="spacingAndGlyphs" font-family="Liberation Sans, sans-serif" fill="#111" stroke="#111" stroke-width="0.35">0.0</text>
<line x1="354.5" y1="90.2" x2="357.0" y2="90.2" stroke="#333" stroke-width="1"/>
<text x="352" y="93.1" font-size="8.1" text-anchor="end" textLength="16" lengthAdjust="spacingAndGlyphs" font-family="Liberation Sans, sans-serif" fill="#111" stroke="#111" stroke-width="0.35">−2.5</text>
<line x1="26.1" y1="118.4" x2="28.8" y2="118.4" stroke="#333" stroke-width="1"/>
<text x="23.8" y="121.4" font-size="8.4" text-anchor="end" textLength="4.5" lengthAdjust="spacingAndGlyphs" font-family="Liberation Sans, sans-serif" fill="#111" stroke="#111" stroke-width="0.35">4</text>
<line x1="26.1" y1="139.9" x2="28.8" y2="139.9" stroke="#333" stroke-width="1"/>
<text x="23.8" y="142.9" font-size="8.4" text-anchor="end" textLength="4.5" lengthAdjust="spacingAndGlyphs" font-family="Liberation Sans, sans-serif" fill="#111" stroke="#111" stroke-width="0.35">2</text>
<line x1="26.1" y1="161.4" x2="28.8" y2="161.4" stroke="#333" stroke-width="1"/>
<text x="23.8" y="164.4" font-size="8.4" text-anchor="end" textLength="4.5" lengthAdjust="spacingAndGlyphs" font-family="Liberation Sans, sans-serif" fill="#111" stroke="#111" stroke-width="0.35">0</text>
<line x1="354.5" y1="120.5" x2="357.0" y2="120.5" stroke="#333" stroke-width="1"/>
<text x="352" y="123.4" font-size="8.1" text-anchor="end" textLength="10.6" lengthAdjust="spacingAndGlyphs" font-family="Liberation Sans, sans-serif" fill="#111" stroke="#111" stroke-width="0.35">7.5</text>
<line x1="354.5" y1="134.9" x2="357.0" y2="134.9" stroke="#333" stroke-width="1"/>
<text x="352" y="137.8" font-size="8.1" text-anchor="end" textLength="10.6" lengthAdjust="spacingAndGlyphs" font-family="Liberation Sans, sans-serif" fill="#111" stroke="#111" stroke-width="0.35">5.0</text>
<line x1="354.5" y1="149.4" x2="357.0" y2="149.4" stroke="#333" stroke-width="1"/>
<text x="352" y="152.3" font-size="8.1" text-anchor="end" textLength="10.6" lengthAdjust="spacingAndGlyphs" font-family="Liberation Sans, sans-serif" fill="#111" stroke="#111" stroke-width="0.35">2.5</text>
<line x1="354.5" y1="163.8" x2="357.0" y2="163.8" stroke="#333" stroke-width="1"/>
<text x="352" y="166.8" font-size="8.1" text-anchor="end" textLength="10.6" lengthAdjust="spacingAndGlyphs" font-family="Liberation Sans, sans-serif" fill="#111" stroke="#111" stroke-width="0.35">0.0</text>
<line x1="354.5" y1="178.3" x2="357.0" y2="178.3" stroke="#333" stroke-width="1"/>
<text x="352" y="181.2" font-size="8.1" text-anchor="end" textLength="16" lengthAdjust="spacingAndGlyphs" font-family="Liberation Sans, sans-serif" fill="#111" stroke="#111" stroke-width="0.35">−2.5</text>
<line x1="26.1" y1="212.4" x2="28.8" y2="212.4" stroke="#333" stroke-width="1"/>
<text x="23.8" y="215.4" font-size="8.4" text-anchor="end" textLength="4.5" lengthAdjust="spacingAndGlyphs" font-family="Liberation Sans, sans-serif" fill="#111" stroke="#111" stroke-width="0.35">4</text>
<line x1="26.1" y1="233.9" x2="28.8" y2="233.9" stroke="#333" stroke-width="1"/>
<text x="23.8" y="236.9" font-size="8.4" text-anchor="end" textLength="4.5" lengthAdjust="spacingAndGlyphs" font-family="Liberation Sans, sans-serif" fill="#111" stroke="#111" stroke-width="0.35">2</text>
<line x1="26.1" y1="255.4" x2="28.8" y2="255.4" stroke="#333" stroke-width="1"/>
<text x="23.8" y="258.4" font-size="8.4" text-anchor="end" textLength="4.5" lengthAdjust="spacingAndGlyphs" font-family="Liberation Sans, sans-serif" fill="#111" stroke="#111" stroke-width="0.35">0</text>
<line x1="354.5" y1="208.7" x2="357.0" y2="208.7" stroke="#333" stroke-width="1"/>
<text x="352" y="211.6" font-size="8.1" text-anchor="end" textLength="10.6" lengthAdjust="spacingAndGlyphs" font-family="Liberation Sans, sans-serif" fill="#111" stroke="#111" stroke-width="0.35">7.5</text>
<line x1="354.5" y1="223.1" x2="357.0" y2="223.1" stroke="#333" stroke-width="1"/>
<text x="352" y="226" font-size="8.1" text-anchor="end" textLength="10.6" lengthAdjust="spacingAndGlyphs" font-family="Liberation Sans, sans-serif" fill="#111" stroke="#111" stroke-width="0.35">5.0</text>
<line x1="354.5" y1="237.6" x2="357.0" y2="237.6" stroke="#333" stroke-width="1"/>
<text x="352" y="240.5" font-size="8.1" text-anchor="end" textLength="10.6" lengthAdjust="spacingAndGlyphs" font-family="Liberation Sans, sans-serif" fill="#111" stroke="#111" stroke-width="0.35">2.5</text>
<line x1="354.5" y1="252" x2="357.0" y2="252" stroke="#333" stroke-width="1"/>
<text x="352" y="254.9" font-size="8.1" text-anchor="end" textLength="10.6" lengthAdjust="spacingAndGlyphs" font-family="Liberation Sans, sans-serif" fill="#111" stroke="#111" stroke-width="0.35">0.0</text>
<line x1="354.5" y1="266.4" x2="357.0" y2="266.4" stroke="#333" stroke-width="1"/>
<text x="352" y="269.3" font-size="8.1" text-anchor="end" textLength="16" lengthAdjust="spacingAndGlyphs" font-family="Liberation Sans, sans-serif" fill="#111" stroke="#111" stroke-width="0.35">−2.5</text>
<line x1="41.4" y1="272.7" x2="41.4" y2="275.4" stroke="#333" stroke-width="1"/>
<text x="41.4" y="283.9" font-size="8.4" text-anchor="middle" textLength="4.4" lengthAdjust="spacingAndGlyphs" font-family="Liberation Sans, sans-serif" fill="#111" stroke="#111" stroke-width="0.35">0</text>
<line x1="368.4" y1="269.3" x2="368.4" y2="271.8" stroke="#333" stroke-width="1"/>
<text x="368.4" y="278.8" font-size="7.6" text-anchor="middle" textLength="4.2" lengthAdjust="spacingAndGlyphs" font-family="Liberation Sans, sans-serif" fill="#111" stroke="#111" stroke-width="0.35">0</text>
<line x1="62.7" y1="272.7" x2="62.7" y2="275.4" stroke="#333" stroke-width="1"/>
<text x="62.7" y="283.9" font-size="8.4" text-anchor="middle" textLength="8.8" lengthAdjust="spacingAndGlyphs" font-family="Liberation Sans, sans-serif" fill="#111" stroke="#111" stroke-width="0.35">30</text>
<line x1="388.5" y1="269.3" x2="388.5" y2="271.8" stroke="#333" stroke-width="1"/>
<text x="388.5" y="278.8" font-size="7.6" text-anchor="middle" textLength="8.4" lengthAdjust="spacingAndGlyphs" font-family="Liberation Sans, sans-serif" fill="#111" stroke="#111" stroke-width="0.35">30</text>
<line x1="84.1" y1="272.7" x2="84.1" y2="275.4" stroke="#333" stroke-width="1"/>
<text x="84.1" y="283.9" font-size="8.4" text-anchor="middle" textLength="8.8" lengthAdjust="spacingAndGlyphs" font-family="Liberation Sans, sans-serif" fill="#111" stroke="#111" stroke-width="0.35">60</text>
<line x1="408.6" y1="269.3" x2="408.6" y2="271.8" stroke="#333" stroke-width="1"/>
<text x="408.6" y="278.8" font-size="7.6" text-anchor="middle" textLength="8.4" lengthAdjust="spacingAndGlyphs" font-family="Liberation Sans, sans-serif" fill="#111" stroke="#111" stroke-width="0.35">60</text>
<line x1="105.5" y1="272.7" x2="105.5" y2="275.4" stroke="#333" stroke-width="1"/>
<text x="105.5" y="283.9" font-size="8.4" text-anchor="middle" textLength="8.8" lengthAdjust="spacingAndGlyphs" font-family="Liberation Sans, sans-serif" fill="#111" stroke="#111" stroke-width="0.35">90</text>
<line x1="428.7" y1="269.3" x2="428.7" y2="271.8" stroke="#333" stroke-width="1"/>
<text x="428.7" y="278.8" font-size="7.6" text-anchor="middle" textLength="8.4" lengthAdjust="spacingAndGlyphs" font-family="Liberation Sans, sans-serif" fill="#111" stroke="#111" stroke-width="0.35">90</text>
<line x1="126.9" y1="272.7" x2="126.9" y2="275.4" stroke="#333" stroke-width="1"/>
<text x="126.9" y="283.9" font-size="8.4" text-anchor="middle" textLength="13.2" lengthAdjust="spacingAndGlyphs" font-family="Liberation Sans, sans-serif" fill="#111" stroke="#111" stroke-width="0.35">120</text>
<line x1="448.8" y1="269.3" x2="448.8" y2="271.8" stroke="#333" stroke-width="1"/>
<text x="448.8" y="278.8" font-size="7.6" text-anchor="middle" textLength="12.6" lengthAdjust="spacingAndGlyphs" font-family="Liberation Sans, sans-serif" fill="#111" stroke="#111" stroke-width="0.35">120</text>
<line x1="148.3" y1="272.7" x2="148.3" y2="275.4" stroke="#333" stroke-width="1"/>
<text x="148.3" y="283.9" font-size="8.4" text-anchor="middle" textLength="13.2" lengthAdjust="spacingAndGlyphs" font-family="Liberation Sans, sans-serif" fill="#111" stroke="#111" stroke-width="0.35">150</text>
<line x1="468.9" y1="269.3" x2="468.9" y2="271.8" stroke="#333" stroke-width="1"/>
<text x="468.9" y="278.8" font-size="7.6" text-anchor="middle" textLength="12.6" lengthAdjust="spacingAndGlyphs" font-family="Liberation Sans, sans-serif" fill="#111" stroke="#111" stroke-width="0.35">150</text>
<line x1="169.7" y1="272.7" x2="169.7" y2="275.4" stroke="#333" stroke-width="1"/>
<text x="169.7" y="283.9" font-size="8.4" text-anchor="middle" textLength="13.2" lengthAdjust="spacingAndGlyphs" font-family="Liberation Sans, sans-serif" fill="#111" stroke="#111" stroke-width="0.35">180</text>
<line x1="488.9" y1="269.3" x2="488.9" y2="271.8" stroke="#333" stroke-width="1"/>
<text x="488.9" y="278.8" font-size="7.6" text-anchor="middle" textLength="12.6" lengthAdjust="spacingAndGlyphs" font-family="Liberation Sans, sans-serif" fill="#111" stroke="#111" stroke-width="0.35">180</text>
<line x1="191.1" y1="272.7" x2="191.1" y2="275.4" stroke="#333" stroke-width="1"/>
<text x="191.1" y="283.9" font-size="8.4" text-anchor="middle" textLength="13.2" lengthAdjust="spacingAndGlyphs" font-family="Liberation Sans, sans-serif" fill="#111" stroke="#111" stroke-width="0.35">210</text>
<line x1="509" y1="269.3" x2="509" y2="271.8" stroke="#333" stroke-width="1"/>
<text x="509" y="278.8" font-size="7.6" text-anchor="middle" textLength="12.6" lengthAdjust="spacingAndGlyphs" font-family="Liberation Sans, sans-serif" fill="#111" stroke="#111" stroke-width="0.35">210</text>
<line x1="212.5" y1="272.7" x2="212.5" y2="275.4" stroke="#333" stroke-width="1"/>
<text x="212.5" y="283.9" font-size="8.4" text-anchor="middle" textLength="13.2" lengthAdjust="spacingAndGlyphs" font-family="Liberation Sans, sans-serif" fill="#111" stroke="#111" stroke-width="0.35">240</text>
<line x1="529.1" y1="269.3" x2="529.1" y2="271.8" stroke="#333" stroke-width="1"/>
<text x="529.1" y="278.8" font-size="7.6" text-anchor="middle" textLength="12.6" lengthAdjust="spacingAndGlyphs" font-family="Liberation Sans, sans-serif" fill="#111" stroke="#111" stroke-width="0.35">240</text>
<line x1="233.9" y1="272.7" x2="233.9" y2="275.4" stroke="#333" stroke-width="1"/>
<text x="233.9" y="283.9" font-size="8.4" text-anchor="middle" textLength="13.2" lengthAdjust="spacingAndGlyphs" font-family="Liberation Sans, sans-serif" fill="#111" stroke="#111" stroke-width="0.35">270</text>
<line x1="549.2" y1="269.3" x2="549.2" y2="271.8" stroke="#333" stroke-width="1"/>
<text x="549.2" y="278.8" font-size="7.6" text-anchor="middle" textLength="12.6" lengthAdjust="spacingAndGlyphs" font-family="Liberation Sans, sans-serif" fill="#111" stroke="#111" stroke-width="0.35">270</text>
<line x1="255.3" y1="272.7" x2="255.3" y2="275.4" stroke="#333" stroke-width="1"/>
<text x="255.3" y="283.9" font-size="8.4" text-anchor="middle" textLength="13.2" lengthAdjust="spacingAndGlyphs" font-family="Liberation Sans, sans-serif" fill="#111" stroke="#111" stroke-width="0.35">300</text>
<line x1="569.3" y1="269.3" x2="569.3" y2="271.8" stroke="#333" stroke-width="1"/>
<text x="569.3" y="278.8" font-size="7.6" text-anchor="middle" textLength="12.6" lengthAdjust="spacingAndGlyphs" font-family="Liberation Sans, sans-serif" fill="#111" stroke="#111" stroke-width="0.35">300</text>
<line x1="276.7" y1="272.7" x2="276.7" y2="275.4" stroke="#333" stroke-width="1"/>
<text x="276.7" y="283.9" font-size="8.4" text-anchor="middle" textLength="13.2" lengthAdjust="spacingAndGlyphs" font-family="Liberation Sans, sans-serif" fill="#111" stroke="#111" stroke-width="0.35">330</text>
<line x1="589.4" y1="269.3" x2="589.4" y2="271.8" stroke="#333" stroke-width="1"/>
<text x="589.4" y="278.8" font-size="7.6" text-anchor="middle" textLength="12.6" lengthAdjust="spacingAndGlyphs" font-family="Liberation Sans, sans-serif" fill="#111" stroke="#111" stroke-width="0.35">330</text>
<line x1="298.1" y1="272.7" x2="298.1" y2="275.4" stroke="#333" stroke-width="1"/>
<text x="298.1" y="283.9" font-size="8.4" text-anchor="middle" textLength="13.2" lengthAdjust="spacingAndGlyphs" font-family="Liberation Sans, sans-serif" fill="#111" stroke="#111" stroke-width="0.35">360</text>
<line x1="609.5" y1="269.3" x2="609.5" y2="271.8" stroke="#333" stroke-width="1"/>
<text x="609.5" y="278.8" font-size="7.6" text-anchor="middle" textLength="12.6" lengthAdjust="spacingAndGlyphs" font-family="Liberation Sans, sans-serif" fill="#111" stroke="#111" stroke-width="0.35">360</text>
<text x="169.3" y="293.4" font-size="8.6" text-anchor="middle" textLength="17.4" lengthAdjust="spacingAndGlyphs" font-family="Liberation Sans, sans-serif" fill="#111" stroke="#111" stroke-width="0.35">Time</text>
<text x="488.5" y="288.2" font-size="8.0" text-anchor="middle" textLength="16.5" lengthAdjust="spacingAndGlyphs" font-family="Liberation Sans, sans-serif" fill="#111" stroke="#111" stroke-width="0.35">Time</text>
<text transform="translate(18,148.25) rotate(-90)" font-size="9.4" text-anchor="middle" textLength="74.5" lengthAdjust="spacingAndGlyphs" font-family="Liberation Sans, sans-serif" fill="#111" stroke="#111" stroke-width="0.15">observation value</text>
<text transform="translate(337.8,152.1) rotate(-90)" font-size="8.8" text-anchor="middle" textLength="57" lengthAdjust="spacingAndGlyphs" font-family="Liberation Sans, sans-serif" fill="#111" stroke="#111" stroke-width="0.15">anomaly score</text>
<text x="169.4" y="9.8" font-size="9.6" text-anchor="middle" textLength="38.8" lengthAdjust="spacingAndGlyphs" font-family="Liberation Sans, sans-serif" fill="#111" stroke="#111" stroke-width="0.35">SISVAE-p</text>
<text x="488.8" y="21.6" font-size="9.0" text-anchor="middle" textLength="36.4" lengthAdjust="spacingAndGlyphs" font-family="Liberation Sans, sans-serif" fill="#111" stroke="#111" stroke-width="0.35">SISVAE-p</text>
<text x="169.4" y="102.9" font-size="9.6" text-anchor="middle" textLength="29.5" lengthAdjust="spacingAndGlyphs" font-family="Liberation Sans, sans-serif" fill="#111" stroke="#111" stroke-width="0.35">STORN</text>
<text x="488.8" y="109.3" font-size="9.0" text-anchor="middle" textLength="26.7" lengthAdjust="spacingAndGlyphs" font-family="Liberation Sans, sans-serif" fill="#111" stroke="#111" stroke-width="0.35">STORN</text>
<text x="169.4" y="196.9" font-size="9.6" text-anchor="middle" textLength="25" lengthAdjust="spacingAndGlyphs" font-family="Liberation Sans, sans-serif" fill="#111" stroke="#111" stroke-width="0.35">Donut</text>
<text x="488.8" y="197.8" font-size="9.0" text-anchor="middle" textLength="24.2" lengthAdjust="spacingAndGlyphs" font-family="Liberation Sans, sans-serif" fill="#111" stroke="#111" stroke-width="0.35">Donut</text>
<rect x="223.4" y="1.5" width="90.4" height="11.8" rx="1.5" fill="#fff" fill-opacity="0.8" stroke="#d8d8d8" stroke-width="0.7"/>
<rect x="225.5" y="4" width="15" height="5.7" fill="#dcdcfa"/>
<text x="245.8" y="9.5" font-size="7.4" text-anchor="start" textLength="64.5" lengthAdjust="spacingAndGlyphs" font-family="Liberation Sans, sans-serif" fill="#111" stroke="#111"  stroke-width="0.25">estimated density</text>
<rect x="538.1" y="9.4" width="89.6" height="21.1" rx="1.5" fill="#fff" fill-opacity="0.8" stroke="#d8d8d8" stroke-width="0.7"/>
<line x1="540.6" y1="14.8" x2="554.2" y2="14.8" stroke="#ff6a6a" stroke-width="1.2" stroke-dasharray="3.3 2.05"/>
<rect x="540.6" y="21.9" width="13.6" height="4.7" fill="#ffc8c8" fill-opacity="0.55"/>
<text x="559.7" y="16.9" font-size="7.4" text-anchor="start" textLength="30.5" lengthAdjust="spacingAndGlyphs" font-family="Liberation Sans, sans-serif" fill="#111" stroke="#111"  stroke-width="0.25">threshold</text>
<text x="559.7" y="26.9" font-size="7.4" text-anchor="start" textLength="65.9" lengthAdjust="spacingAndGlyphs" font-family="Liberation Sans, sans-serif" fill="#111" stroke="#111"  stroke-width="0.25">detected anomalies</text>
<text x="70.9" y="325.6" font-size="20.8" textLength="22.9" lengthAdjust="spacingAndGlyphs" font-family="Liberation Serif, serif" fill="#111">(b)</text>
<text x="103.8" y="325.6" font-size="20.8" textLength="152.5" lengthAdjust="spacingAndGlyphs" font-family="Liberation Serif, serif" fill="#111">density estimation</text>
<text x="361" y="325.6" font-size="20.8" textLength="22.8" lengthAdjust="spacingAndGlyphs" font-family="Liberation Serif, serif" fill="#111">(c)</text>
<text x="393.4" y="325.6" font-size="20.8" textLength="202.5" lengthAdjust="spacingAndGlyphs" font-family="Liberation Serif, serif" fill="#111">anomaly detection score</text>
<text x="2.5" y="371.8" font-size="20.8" font-family="Liberation Serif, serif" fill="#111">Fig.</text>
<text x="42.5" y="371.8" font-size="20.8" font-family="Liberation Serif, serif" fill="#111">11.</text>
<text x="82.5" y="371.8" font-size="20.8" font-family="Liberation Serif, serif" fill="#111">Example</text>
<text x="163.8" y="371.8" font-size="20.8" font-family="Liberation Serif, serif" fill="#111">for</text>
<text x="193.8" y="371.8" font-size="20.8" font-family="Liberation Serif, serif" fill="#111">time</text>
<text x="240" y="371.8" font-size="20.8" font-family="Liberation Serif, serif" fill="#111">series</text>
<text x="295" y="371.8" font-size="20.8" font-family="Liberation Serif, serif" fill="#111">sample</text>
<text x="361.2" y="371.8" font-size="20.8" font-family="Liberation Serif, serif" fill="#111">with</text>
<text x="406.2" y="371.8" font-size="20.8" font-family="Liberation Serif, serif" fill="#111">window-sized</text>
<text x="528" y="371.8" font-size="20.8" font-family="Liberation Serif, serif" fill="#111">anomaly.</text>
<text x="611" y="371.8" font-size="20.8" font-family="Liberation Serif, serif" fill="#111">Note</text>
</g>
</svg>
</body></html>
